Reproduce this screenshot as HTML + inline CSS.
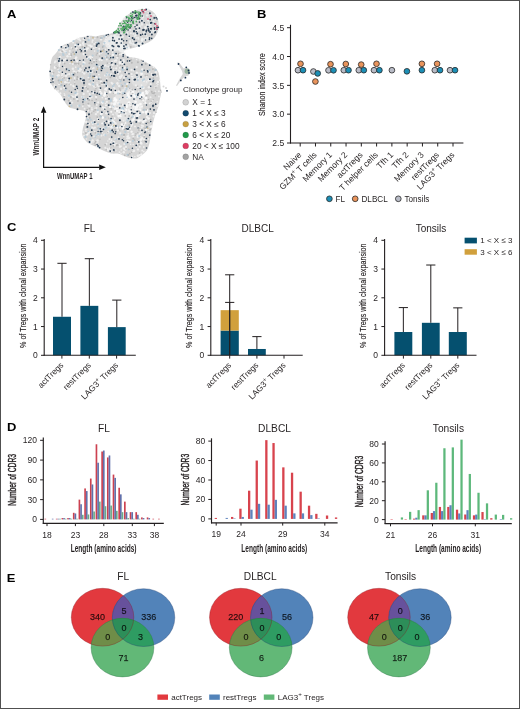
<!DOCTYPE html>
<html><head><meta charset="utf-8"><style>
html,body{margin:0;padding:0;background:#fff;}
svg{display:block;font-family:"Liberation Sans", sans-serif;will-change:transform;}
</style></head><body>
<svg width="520" height="709" viewBox="0 0 520 709">
<rect x="0" y="0" width="520" height="709" fill="#fff"/>
<path d="M49.6,73.0 C49.6,70.8 49.8,68.5 50.2,66.0 C50.6,63.5 51.1,60.1 52.0,58.0 C52.9,55.9 54.3,55.2 55.8,53.3 C57.3,51.4 59.4,48.1 61.2,46.5 C63.0,44.9 64.7,44.6 66.5,43.8 C68.3,43.0 70.1,42.7 71.9,41.8 C73.7,40.9 75.5,39.3 77.3,38.5 C79.1,37.7 80.7,37.6 82.7,37.1 C84.7,36.6 87.2,35.9 89.4,35.8 C91.6,35.7 94.1,36.5 96.1,36.4 C98.1,36.3 99.7,35.4 101.5,35.1 C103.3,34.8 105.4,34.8 107.0,34.5 C108.6,34.2 109.6,34.1 111.0,33.5 C112.4,32.9 114.2,32.3 115.5,31.0 C116.8,29.7 117.3,27.3 118.5,25.5 C119.7,23.7 121.0,21.8 122.5,20.0 C124.0,18.2 125.8,16.4 127.5,15.0 C129.2,13.6 131.4,12.2 133.0,11.4 C134.6,10.6 135.7,10.4 137.0,10.0 C138.3,9.6 139.6,9.4 141.0,9.2 C142.4,9.0 144.0,8.9 145.5,9.0 C147.0,9.1 148.5,9.3 150.0,10.0 C151.5,10.7 153.2,11.8 154.5,13.2 C155.8,14.6 156.9,16.6 157.6,18.5 C158.3,20.4 158.7,22.4 158.8,24.5 C158.9,26.6 158.6,28.9 158.0,31.0 C157.4,33.1 156.3,35.2 155.0,37.0 C153.7,38.8 152.1,40.2 150.0,41.5 C147.9,42.8 145.0,44.0 142.5,45.0 C140.0,46.0 137.4,46.8 135.0,47.5 C132.6,48.2 129.8,48.8 128.0,49.5 C126.2,50.2 124.1,50.3 124.0,51.5 C123.9,52.7 125.8,55.5 127.5,56.5 C129.2,57.5 131.9,57.1 134.0,57.5 C136.1,57.9 138.2,58.3 140.0,59.0 C141.8,59.7 143.3,60.6 145.0,61.5 C146.7,62.4 148.3,63.5 150.0,64.5 C151.7,65.5 153.6,66.2 155.0,67.5 C156.4,68.8 157.5,70.2 158.3,72.0 C159.1,73.8 159.2,75.7 159.6,78.0 C160.0,80.3 160.3,83.4 160.5,86.0 C160.7,88.6 161.2,91.2 161.0,93.6 C160.8,96.0 160.0,98.2 159.6,100.4 C159.2,102.6 159.0,104.8 158.3,107.0 C157.6,109.2 156.5,111.1 155.6,113.8 C154.7,116.5 153.6,120.6 152.9,123.3 C152.2,126.0 151.9,127.8 151.5,130.0 C151.1,132.2 150.8,134.3 150.5,136.5 C150.2,138.7 150.0,140.8 149.5,143.0 C149.0,145.2 148.1,148.1 147.3,149.8 C146.5,151.5 145.5,152.0 144.5,153.0 C143.5,154.0 142.5,154.8 141.5,155.6 C140.5,156.3 139.4,157.0 138.5,157.5 C137.6,158.0 136.9,158.4 135.8,158.5 C134.7,158.6 133.3,158.5 132.0,158.3 C130.7,158.1 129.5,158.0 128.0,157.5 C126.5,157.0 124.6,156.1 123.0,155.5 C121.4,154.9 120.3,154.0 118.5,153.7 C116.7,153.4 114.0,153.8 112.3,153.6 C110.5,153.4 109.3,152.9 108.0,152.5 C106.7,152.1 105.5,151.6 104.2,151.0 C102.9,150.4 101.3,149.7 100.0,149.0 C98.7,148.3 97.4,147.6 96.1,146.9 C94.8,146.2 93.3,145.7 92.0,145.0 C90.7,144.3 89.1,143.7 88.0,142.9 C86.9,142.2 86.2,141.3 85.5,140.5 C84.8,139.7 84.0,139.0 83.5,138.0 C83.0,137.0 82.4,135.7 82.2,134.5 C82.0,133.3 82.2,132.2 82.4,131.0 C82.6,129.8 82.9,128.3 83.2,127.0 C83.5,125.7 84.1,124.3 84.5,123.0 C84.9,121.7 85.3,120.4 85.6,119.0 C85.9,117.6 86.3,115.8 86.1,114.5 C85.9,113.2 85.5,112.0 84.5,111.2 C83.5,110.5 81.4,110.3 80.0,110.0 C78.6,109.7 77.3,109.5 76.0,109.2 C74.7,108.9 73.1,108.6 72.0,108.3 C70.9,108.0 70.1,107.8 69.2,107.2 C68.3,106.6 67.3,105.4 66.6,104.6 C65.9,103.8 65.6,103.1 65.0,102.2 C64.4,101.3 63.6,100.1 63.0,99.0 C62.4,97.9 61.9,96.8 61.2,95.8 C60.5,94.8 59.8,93.9 59.0,93.0 C58.2,92.1 57.4,91.4 56.5,90.5 C55.6,89.6 54.4,88.6 53.5,87.5 C52.6,86.4 51.8,85.4 51.2,84.0 C50.6,82.6 50.3,80.8 50.0,79.0 C49.7,77.2 49.6,75.2 49.6,73.0Z" fill="#D5D5D5"/>
<path d="M177.2,62.3 L179.5,63 L183.5,68.5 L186,67.5 L189.5,69 L190.3,72.5 L188.5,75.5 L184.5,76.8 L181,80.5 L177,86 L176,85.5 L179.8,78.5 L182.8,74 L182,71 Z" fill="#D6D6D6"/>
<circle cx="187.2" cy="71.2" r="2.6" fill="#9DB5A2"/>
<ellipse cx="114" cy="43" rx="9" ry="8" fill="#FFFFFF" fill-opacity="0.5"/>
<ellipse cx="124" cy="49" rx="6" ry="4" fill="#FFFFFF" fill-opacity="0.5"/>
<ellipse cx="128" cy="105" rx="15" ry="17" fill="#FFFFFF" fill-opacity="0.35"/>
<ellipse cx="140" cy="80" rx="9" ry="8" fill="#FFFFFF" fill-opacity="0.25"/>
<circle cx="109.1" cy="63.6" r="0.74" fill="#F6F6F6" fill-opacity="0.75"/>
<circle cx="54.6" cy="85.1" r="0.87" fill="#F6F6F6" fill-opacity="0.75"/>
<circle cx="52.3" cy="73.9" r="0.82" fill="#F6F6F6" fill-opacity="0.75"/>
<circle cx="96.4" cy="133.7" r="1.12" fill="#F6F6F6" fill-opacity="0.75"/>
<circle cx="119.5" cy="152.1" r="0.97" fill="#F6F6F6" fill-opacity="0.75"/>
<circle cx="113.8" cy="68.3" r="0.77" fill="#F6F6F6" fill-opacity="0.75"/>
<circle cx="83.2" cy="132.1" r="0.89" fill="#F6F6F6" fill-opacity="0.75"/>
<circle cx="68.6" cy="96.4" r="0.98" fill="#F6F6F6" fill-opacity="0.75"/>
<circle cx="120.8" cy="64.6" r="0.92" fill="#F6F6F6" fill-opacity="0.75"/>
<circle cx="125.6" cy="73.0" r="0.80" fill="#F6F6F6" fill-opacity="0.75"/>
<circle cx="83.8" cy="97.0" r="0.74" fill="#F6F6F6" fill-opacity="0.75"/>
<circle cx="99.7" cy="53.6" r="0.71" fill="#F6F6F6" fill-opacity="0.75"/>
<circle cx="138.6" cy="114.2" r="1.30" fill="#F6F6F6" fill-opacity="0.75"/>
<circle cx="75.8" cy="95.3" r="1.15" fill="#F6F6F6" fill-opacity="0.75"/>
<circle cx="107.9" cy="141.0" r="0.75" fill="#F6F6F6" fill-opacity="0.75"/>
<circle cx="95.7" cy="123.1" r="1.13" fill="#F6F6F6" fill-opacity="0.75"/>
<circle cx="65.3" cy="82.3" r="1.29" fill="#F6F6F6" fill-opacity="0.75"/>
<circle cx="135.2" cy="95.1" r="1.04" fill="#F6F6F6" fill-opacity="0.75"/>
<circle cx="127.3" cy="98.3" r="0.77" fill="#F6F6F6" fill-opacity="0.75"/>
<circle cx="114.1" cy="77.3" r="0.99" fill="#F6F6F6" fill-opacity="0.75"/>
<circle cx="143.8" cy="151.6" r="0.96" fill="#F6F6F6" fill-opacity="0.75"/>
<circle cx="102.0" cy="109.0" r="0.81" fill="#F6F6F6" fill-opacity="0.75"/>
<circle cx="92.0" cy="109.6" r="1.03" fill="#F6F6F6" fill-opacity="0.75"/>
<circle cx="50.6" cy="78.2" r="0.70" fill="#F6F6F6" fill-opacity="0.75"/>
<circle cx="92.6" cy="140.5" r="1.25" fill="#F6F6F6" fill-opacity="0.75"/>
<circle cx="57.2" cy="76.3" r="1.09" fill="#F6F6F6" fill-opacity="0.75"/>
<circle cx="110.6" cy="142.3" r="1.08" fill="#F6F6F6" fill-opacity="0.75"/>
<circle cx="141.4" cy="139.3" r="1.26" fill="#F6F6F6" fill-opacity="0.75"/>
<circle cx="79.7" cy="71.1" r="1.09" fill="#F6F6F6" fill-opacity="0.75"/>
<circle cx="88.9" cy="142.4" r="0.85" fill="#F6F6F6" fill-opacity="0.75"/>
<circle cx="68.1" cy="43.3" r="0.85" fill="#F6F6F6" fill-opacity="0.75"/>
<circle cx="74.6" cy="81.7" r="0.78" fill="#F6F6F6" fill-opacity="0.75"/>
<circle cx="90.1" cy="94.1" r="0.72" fill="#F6F6F6" fill-opacity="0.75"/>
<circle cx="106.8" cy="101.9" r="1.16" fill="#F6F6F6" fill-opacity="0.75"/>
<circle cx="150.5" cy="126.6" r="1.20" fill="#F6F6F6" fill-opacity="0.75"/>
<circle cx="147.7" cy="129.3" r="0.88" fill="#F6F6F6" fill-opacity="0.75"/>
<circle cx="92.7" cy="68.6" r="0.81" fill="#F6F6F6" fill-opacity="0.75"/>
<circle cx="59.6" cy="63.3" r="1.08" fill="#F6F6F6" fill-opacity="0.75"/>
<circle cx="76.8" cy="60.8" r="1.21" fill="#F6F6F6" fill-opacity="0.75"/>
<circle cx="101.1" cy="81.5" r="1.26" fill="#F6F6F6" fill-opacity="0.75"/>
<circle cx="87.1" cy="48.2" r="0.80" fill="#F6F6F6" fill-opacity="0.75"/>
<circle cx="146.4" cy="113.8" r="1.17" fill="#F6F6F6" fill-opacity="0.75"/>
<circle cx="77.8" cy="63.7" r="1.20" fill="#F6F6F6" fill-opacity="0.75"/>
<circle cx="108.7" cy="126.4" r="1.15" fill="#F6F6F6" fill-opacity="0.75"/>
<circle cx="85.6" cy="41.9" r="0.90" fill="#F6F6F6" fill-opacity="0.75"/>
<circle cx="145.2" cy="130.5" r="0.81" fill="#F6F6F6" fill-opacity="0.75"/>
<circle cx="141.3" cy="120.5" r="1.20" fill="#F6F6F6" fill-opacity="0.75"/>
<circle cx="73.8" cy="86.7" r="0.89" fill="#F6F6F6" fill-opacity="0.75"/>
<circle cx="157.0" cy="76.0" r="0.92" fill="#F6F6F6" fill-opacity="0.75"/>
<circle cx="73.1" cy="42.5" r="1.03" fill="#F6F6F6" fill-opacity="0.75"/>
<circle cx="119.1" cy="144.8" r="0.92" fill="#F6F6F6" fill-opacity="0.75"/>
<circle cx="143.8" cy="80.9" r="1.20" fill="#F6F6F6" fill-opacity="0.75"/>
<circle cx="122.4" cy="129.5" r="0.84" fill="#F6F6F6" fill-opacity="0.75"/>
<circle cx="151.7" cy="126.9" r="0.72" fill="#F6F6F6" fill-opacity="0.75"/>
<circle cx="133.5" cy="80.7" r="1.04" fill="#F6F6F6" fill-opacity="0.75"/>
<circle cx="85.9" cy="129.7" r="1.08" fill="#F6F6F6" fill-opacity="0.75"/>
<circle cx="151.2" cy="130.6" r="1.19" fill="#F6F6F6" fill-opacity="0.75"/>
<circle cx="87.9" cy="91.4" r="1.12" fill="#F6F6F6" fill-opacity="0.75"/>
<circle cx="108.0" cy="149.9" r="1.24" fill="#F6F6F6" fill-opacity="0.75"/>
<circle cx="97.5" cy="140.5" r="1.27" fill="#F6F6F6" fill-opacity="0.75"/>
<circle cx="76.7" cy="52.5" r="1.00" fill="#F6F6F6" fill-opacity="0.75"/>
<circle cx="75.4" cy="97.1" r="1.00" fill="#F6F6F6" fill-opacity="0.75"/>
<circle cx="77.6" cy="71.7" r="0.79" fill="#F6F6F6" fill-opacity="0.75"/>
<circle cx="88.3" cy="77.6" r="0.88" fill="#F6F6F6" fill-opacity="0.75"/>
<circle cx="114.5" cy="145.5" r="1.05" fill="#F6F6F6" fill-opacity="0.75"/>
<circle cx="105.2" cy="88.8" r="0.75" fill="#F6F6F6" fill-opacity="0.75"/>
<circle cx="67.6" cy="80.0" r="1.11" fill="#F6F6F6" fill-opacity="0.75"/>
<circle cx="130.7" cy="92.6" r="0.80" fill="#F6F6F6" fill-opacity="0.75"/>
<circle cx="85.2" cy="86.8" r="0.97" fill="#F6F6F6" fill-opacity="0.75"/>
<circle cx="111.3" cy="127.2" r="1.28" fill="#F6F6F6" fill-opacity="0.75"/>
<circle cx="60.1" cy="93.2" r="0.75" fill="#F6F6F6" fill-opacity="0.75"/>
<circle cx="76.3" cy="50.1" r="0.72" fill="#F6F6F6" fill-opacity="0.75"/>
<circle cx="136.0" cy="85.2" r="0.96" fill="#F6F6F6" fill-opacity="0.75"/>
<circle cx="112.0" cy="123.5" r="0.81" fill="#F6F6F6" fill-opacity="0.75"/>
<circle cx="152.0" cy="75.4" r="1.13" fill="#F6F6F6" fill-opacity="0.75"/>
<circle cx="117.8" cy="84.8" r="0.70" fill="#F6F6F6" fill-opacity="0.75"/>
<circle cx="106.4" cy="113.3" r="1.20" fill="#F6F6F6" fill-opacity="0.75"/>
<circle cx="99.6" cy="89.1" r="1.21" fill="#F6F6F6" fill-opacity="0.75"/>
<circle cx="127.7" cy="141.2" r="1.17" fill="#F6F6F6" fill-opacity="0.75"/>
<circle cx="111.8" cy="151.4" r="0.96" fill="#F6F6F6" fill-opacity="0.75"/>
<circle cx="61.9" cy="75.2" r="0.87" fill="#F6F6F6" fill-opacity="0.75"/>
<circle cx="137.4" cy="144.3" r="1.10" fill="#F6F6F6" fill-opacity="0.75"/>
<circle cx="93.4" cy="82.1" r="1.01" fill="#F6F6F6" fill-opacity="0.75"/>
<circle cx="66.4" cy="73.6" r="0.95" fill="#F6F6F6" fill-opacity="0.75"/>
<circle cx="106.8" cy="59.5" r="0.90" fill="#F6F6F6" fill-opacity="0.75"/>
<circle cx="70.3" cy="56.4" r="0.96" fill="#F6F6F6" fill-opacity="0.75"/>
<circle cx="111.2" cy="74.9" r="1.10" fill="#F6F6F6" fill-opacity="0.75"/>
<circle cx="119.1" cy="85.9" r="1.20" fill="#F6F6F6" fill-opacity="0.75"/>
<circle cx="137.9" cy="155.7" r="1.24" fill="#F6F6F6" fill-opacity="0.75"/>
<circle cx="59.9" cy="48.4" r="0.80" fill="#F6F6F6" fill-opacity="0.75"/>
<circle cx="96.1" cy="146.5" r="0.88" fill="#F6F6F6" fill-opacity="0.75"/>
<circle cx="113.0" cy="114.5" r="0.97" fill="#F6F6F6" fill-opacity="0.75"/>
<circle cx="126.5" cy="72.6" r="1.04" fill="#F6F6F6" fill-opacity="0.75"/>
<circle cx="120.3" cy="129.8" r="0.91" fill="#F6F6F6" fill-opacity="0.75"/>
<circle cx="99.7" cy="59.6" r="0.82" fill="#F6F6F6" fill-opacity="0.75"/>
<circle cx="111.0" cy="148.9" r="0.75" fill="#F6F6F6" fill-opacity="0.75"/>
<circle cx="108.1" cy="44.2" r="0.89" fill="#F6F6F6" fill-opacity="0.75"/>
<circle cx="83.6" cy="54.4" r="0.98" fill="#F6F6F6" fill-opacity="0.75"/>
<circle cx="105.0" cy="35.0" r="1.28" fill="#F6F6F6" fill-opacity="0.75"/>
<circle cx="131.6" cy="91.8" r="1.25" fill="#F6F6F6" fill-opacity="0.75"/>
<circle cx="69.6" cy="80.2" r="1.22" fill="#F6F6F6" fill-opacity="0.75"/>
<circle cx="141.4" cy="73.7" r="1.28" fill="#F6F6F6" fill-opacity="0.75"/>
<circle cx="104.4" cy="134.9" r="1.28" fill="#F6F6F6" fill-opacity="0.75"/>
<circle cx="92.8" cy="85.0" r="1.07" fill="#F6F6F6" fill-opacity="0.75"/>
<circle cx="87.1" cy="134.5" r="1.19" fill="#F6F6F6" fill-opacity="0.75"/>
<circle cx="128.6" cy="104.7" r="0.74" fill="#F6F6F6" fill-opacity="0.75"/>
<circle cx="94.1" cy="60.8" r="1.11" fill="#F6F6F6" fill-opacity="0.75"/>
<circle cx="147.2" cy="109.9" r="1.07" fill="#F6F6F6" fill-opacity="0.75"/>
<circle cx="80.1" cy="44.8" r="0.88" fill="#F6F6F6" fill-opacity="0.75"/>
<circle cx="81.4" cy="77.8" r="1.04" fill="#F6F6F6" fill-opacity="0.75"/>
<circle cx="66.0" cy="75.8" r="1.27" fill="#F6F6F6" fill-opacity="0.75"/>
<circle cx="158.9" cy="91.2" r="0.99" fill="#F6F6F6" fill-opacity="0.75"/>
<circle cx="83.3" cy="62.2" r="1.09" fill="#F6F6F6" fill-opacity="0.75"/>
<circle cx="102.1" cy="84.4" r="0.88" fill="#F6F6F6" fill-opacity="0.75"/>
<circle cx="70.9" cy="84.7" r="0.91" fill="#F6F6F6" fill-opacity="0.75"/>
<circle cx="58.2" cy="68.7" r="1.23" fill="#F6F6F6" fill-opacity="0.75"/>
<circle cx="82.7" cy="43.4" r="0.72" fill="#F6F6F6" fill-opacity="0.75"/>
<circle cx="114.8" cy="88.4" r="0.81" fill="#F6F6F6" fill-opacity="0.75"/>
<circle cx="133.6" cy="107.9" r="1.11" fill="#F6F6F6" fill-opacity="0.75"/>
<circle cx="129.6" cy="141.6" r="0.97" fill="#F6F6F6" fill-opacity="0.75"/>
<circle cx="92.4" cy="57.6" r="0.75" fill="#F6F6F6" fill-opacity="0.75"/>
<circle cx="130.6" cy="105.8" r="1.10" fill="#F6F6F6" fill-opacity="0.75"/>
<circle cx="149.7" cy="103.4" r="0.92" fill="#F6F6F6" fill-opacity="0.75"/>
<circle cx="131.7" cy="131.5" r="1.05" fill="#F6F6F6" fill-opacity="0.75"/>
<circle cx="63.9" cy="87.6" r="0.95" fill="#F6F6F6" fill-opacity="0.75"/>
<circle cx="105.5" cy="134.9" r="1.02" fill="#F6F6F6" fill-opacity="0.75"/>
<circle cx="139.7" cy="133.6" r="1.04" fill="#F6F6F6" fill-opacity="0.75"/>
<circle cx="114.6" cy="143.7" r="0.94" fill="#F6F6F6" fill-opacity="0.75"/>
<circle cx="125.9" cy="113.4" r="0.77" fill="#F6F6F6" fill-opacity="0.75"/>
<circle cx="63.2" cy="62.8" r="0.81" fill="#F6F6F6" fill-opacity="0.75"/>
<circle cx="111.7" cy="103.4" r="1.23" fill="#F6F6F6" fill-opacity="0.75"/>
<circle cx="119.4" cy="111.5" r="1.03" fill="#F6F6F6" fill-opacity="0.75"/>
<circle cx="138.9" cy="121.7" r="0.77" fill="#F6F6F6" fill-opacity="0.75"/>
<circle cx="105.3" cy="89.4" r="1.22" fill="#F6F6F6" fill-opacity="0.75"/>
<circle cx="132.3" cy="156.3" r="0.85" fill="#F6F6F6" fill-opacity="0.75"/>
<circle cx="104.3" cy="66.1" r="0.76" fill="#F6F6F6" fill-opacity="0.75"/>
<circle cx="102.6" cy="111.9" r="1.02" fill="#F6F6F6" fill-opacity="0.75"/>
<circle cx="135.4" cy="101.8" r="0.85" fill="#F6F6F6" fill-opacity="0.75"/>
<circle cx="64.8" cy="46.6" r="0.99" fill="#F6F6F6" fill-opacity="0.75"/>
<circle cx="124.6" cy="113.2" r="1.03" fill="#F6F6F6" fill-opacity="0.75"/>
<circle cx="106.9" cy="78.6" r="0.84" fill="#F6F6F6" fill-opacity="0.75"/>
<circle cx="50.0" cy="77.8" r="1.04" fill="#F6F6F6" fill-opacity="0.75"/>
<circle cx="141.5" cy="155.2" r="0.77" fill="#F6F6F6" fill-opacity="0.75"/>
<circle cx="99.2" cy="48.8" r="1.01" fill="#F6F6F6" fill-opacity="0.75"/>
<circle cx="72.0" cy="96.4" r="1.05" fill="#F6F6F6" fill-opacity="0.75"/>
<circle cx="64.2" cy="87.7" r="0.75" fill="#F6F6F6" fill-opacity="0.75"/>
<circle cx="141.5" cy="85.3" r="0.94" fill="#F6F6F6" fill-opacity="0.75"/>
<circle cx="149.1" cy="114.9" r="0.74" fill="#F6F6F6" fill-opacity="0.75"/>
<circle cx="99.4" cy="53.9" r="0.96" fill="#F6F6F6" fill-opacity="0.75"/>
<circle cx="64.0" cy="60.3" r="1.22" fill="#F6F6F6" fill-opacity="0.75"/>
<circle cx="84.0" cy="135.7" r="1.03" fill="#F6F6F6" fill-opacity="0.75"/>
<circle cx="153.6" cy="116.4" r="1.13" fill="#F6F6F6" fill-opacity="0.75"/>
<circle cx="90.4" cy="67.7" r="1.15" fill="#F6F6F6" fill-opacity="0.75"/>
<circle cx="89.1" cy="73.1" r="0.77" fill="#F6F6F6" fill-opacity="0.75"/>
<circle cx="76.4" cy="48.4" r="1.29" fill="#F6F6F6" fill-opacity="0.75"/>
<circle cx="106.2" cy="36.9" r="1.13" fill="#F6F6F6" fill-opacity="0.75"/>
<circle cx="148.8" cy="131.4" r="0.76" fill="#F6F6F6" fill-opacity="0.75"/>
<circle cx="119.9" cy="146.8" r="1.20" fill="#F6F6F6" fill-opacity="0.75"/>
<circle cx="155.2" cy="91.5" r="0.94" fill="#F6F6F6" fill-opacity="0.75"/>
<circle cx="131.5" cy="76.5" r="0.80" fill="#F6F6F6" fill-opacity="0.75"/>
<circle cx="133.8" cy="106.0" r="1.28" fill="#F6F6F6" fill-opacity="0.75"/>
<circle cx="101.8" cy="60.2" r="1.04" fill="#F6F6F6" fill-opacity="0.75"/>
<circle cx="122.8" cy="53.7" r="1.16" fill="#F6F6F6" fill-opacity="0.75"/>
<circle cx="111.5" cy="67.9" r="0.78" fill="#F6F6F6" fill-opacity="0.75"/>
<circle cx="104.7" cy="41.4" r="1.17" fill="#F6F6F6" fill-opacity="0.75"/>
<circle cx="75.3" cy="47.3" r="0.73" fill="#F6F6F6" fill-opacity="0.75"/>
<circle cx="112.9" cy="142.9" r="0.84" fill="#F6F6F6" fill-opacity="0.75"/>
<circle cx="133.5" cy="70.7" r="0.92" fill="#F6F6F6" fill-opacity="0.75"/>
<circle cx="95.2" cy="87.7" r="0.71" fill="#F6F6F6" fill-opacity="0.75"/>
<circle cx="91.0" cy="59.4" r="1.06" fill="#F6F6F6" fill-opacity="0.75"/>
<circle cx="105.4" cy="103.7" r="0.83" fill="#F6F6F6" fill-opacity="0.75"/>
<circle cx="78.9" cy="45.8" r="0.88" fill="#F6F6F6" fill-opacity="0.75"/>
<circle cx="93.6" cy="75.8" r="1.12" fill="#F6F6F6" fill-opacity="0.75"/>
<circle cx="150.1" cy="79.9" r="0.96" fill="#F6F6F6" fill-opacity="0.75"/>
<circle cx="142.1" cy="138.0" r="1.23" fill="#F6F6F6" fill-opacity="0.75"/>
<circle cx="107.5" cy="111.7" r="1.07" fill="#F6F6F6" fill-opacity="0.75"/>
<circle cx="121.8" cy="124.2" r="1.22" fill="#F6F6F6" fill-opacity="0.75"/>
<circle cx="100.1" cy="91.8" r="1.04" fill="#F6F6F6" fill-opacity="0.75"/>
<circle cx="121.6" cy="54.2" r="1.25" fill="#F6F6F6" fill-opacity="0.75"/>
<circle cx="62.6" cy="46.3" r="1.22" fill="#F6F6F6" fill-opacity="0.75"/>
<circle cx="120.5" cy="114.2" r="0.80" fill="#F6F6F6" fill-opacity="0.75"/>
<circle cx="107.8" cy="96.6" r="1.15" fill="#F6F6F6" fill-opacity="0.75"/>
<circle cx="92.2" cy="42.0" r="0.90" fill="#F6F6F6" fill-opacity="0.75"/>
<circle cx="82.4" cy="78.0" r="1.16" fill="#F6F6F6" fill-opacity="0.75"/>
<circle cx="157.3" cy="106.0" r="1.11" fill="#F6F6F6" fill-opacity="0.75"/>
<circle cx="148.8" cy="80.2" r="1.20" fill="#F6F6F6" fill-opacity="0.75"/>
<circle cx="74.8" cy="45.6" r="0.77" fill="#F6F6F6" fill-opacity="0.75"/>
<circle cx="104.8" cy="110.5" r="0.92" fill="#F6F6F6" fill-opacity="0.75"/>
<circle cx="95.9" cy="47.1" r="1.14" fill="#F6F6F6" fill-opacity="0.75"/>
<circle cx="124.1" cy="148.6" r="1.27" fill="#F6F6F6" fill-opacity="0.75"/>
<circle cx="86.5" cy="71.9" r="1.13" fill="#F6F6F6" fill-opacity="0.75"/>
<circle cx="138.9" cy="120.3" r="0.73" fill="#F6F6F6" fill-opacity="0.75"/>
<circle cx="105.6" cy="39.2" r="1.06" fill="#F6F6F6" fill-opacity="0.75"/>
<circle cx="104.5" cy="36.5" r="0.76" fill="#F6F6F6" fill-opacity="0.75"/>
<circle cx="73.5" cy="71.4" r="1.03" fill="#F6F6F6" fill-opacity="0.75"/>
<circle cx="123.8" cy="152.2" r="1.18" fill="#F6F6F6" fill-opacity="0.75"/>
<circle cx="64.7" cy="67.8" r="0.77" fill="#F6F6F6" fill-opacity="0.75"/>
<circle cx="54.9" cy="67.8" r="1.26" fill="#F6F6F6" fill-opacity="0.75"/>
<circle cx="123.7" cy="65.6" r="1.11" fill="#F6F6F6" fill-opacity="0.75"/>
<circle cx="90.6" cy="58.4" r="0.85" fill="#F6F6F6" fill-opacity="0.75"/>
<circle cx="79.9" cy="61.4" r="0.82" fill="#F6F6F6" fill-opacity="0.75"/>
<circle cx="88.7" cy="132.9" r="0.97" fill="#F6F6F6" fill-opacity="0.75"/>
<circle cx="141.7" cy="73.7" r="1.20" fill="#F6F6F6" fill-opacity="0.75"/>
<circle cx="53.6" cy="80.0" r="1.05" fill="#F6F6F6" fill-opacity="0.75"/>
<circle cx="70.0" cy="63.4" r="0.77" fill="#F6F6F6" fill-opacity="0.75"/>
<circle cx="94.8" cy="131.4" r="0.71" fill="#F6F6F6" fill-opacity="0.75"/>
<circle cx="133.2" cy="144.6" r="0.77" fill="#F6F6F6" fill-opacity="0.75"/>
<circle cx="86.7" cy="49.4" r="1.18" fill="#F6F6F6" fill-opacity="0.75"/>
<circle cx="157.2" cy="101.8" r="0.81" fill="#F6F6F6" fill-opacity="0.75"/>
<circle cx="84.1" cy="49.9" r="1.03" fill="#F6F6F6" fill-opacity="0.75"/>
<circle cx="152.5" cy="104.4" r="0.87" fill="#F6F6F6" fill-opacity="0.75"/>
<circle cx="74.7" cy="80.2" r="1.11" fill="#F6F6F6" fill-opacity="0.75"/>
<circle cx="92.1" cy="46.2" r="0.93" fill="#F6F6F6" fill-opacity="0.75"/>
<circle cx="97.0" cy="83.0" r="0.79" fill="#F6F6F6" fill-opacity="0.75"/>
<circle cx="139.5" cy="120.3" r="1.23" fill="#F6F6F6" fill-opacity="0.75"/>
<circle cx="141.8" cy="125.5" r="1.02" fill="#F6F6F6" fill-opacity="0.75"/>
<circle cx="117.2" cy="57.8" r="1.11" fill="#F6F6F6" fill-opacity="0.75"/>
<circle cx="84.4" cy="63.0" r="1.18" fill="#F6F6F6" fill-opacity="0.75"/>
<circle cx="59.0" cy="83.8" r="1.27" fill="#F6F6F6" fill-opacity="0.75"/>
<circle cx="128.9" cy="75.9" r="0.71" fill="#F6F6F6" fill-opacity="0.75"/>
<circle cx="74.7" cy="71.4" r="0.91" fill="#F6F6F6" fill-opacity="0.75"/>
<circle cx="118.7" cy="110.5" r="0.79" fill="#F6F6F6" fill-opacity="0.75"/>
<circle cx="133.3" cy="136.7" r="1.00" fill="#F6F6F6" fill-opacity="0.75"/>
<circle cx="112.6" cy="64.7" r="1.22" fill="#F6F6F6" fill-opacity="0.75"/>
<circle cx="76.2" cy="45.3" r="1.18" fill="#F6F6F6" fill-opacity="0.75"/>
<circle cx="113.9" cy="57.6" r="0.72" fill="#F6F6F6" fill-opacity="0.75"/>
<circle cx="105.8" cy="43.2" r="0.81" fill="#F6F6F6" fill-opacity="0.75"/>
<circle cx="140.2" cy="107.3" r="1.19" fill="#F6F6F6" fill-opacity="0.75"/>
<circle cx="102.1" cy="132.5" r="1.11" fill="#F6F6F6" fill-opacity="0.75"/>
<circle cx="143.8" cy="147.0" r="0.94" fill="#F6F6F6" fill-opacity="0.75"/>
<circle cx="158.9" cy="96.6" r="0.99" fill="#F6F6F6" fill-opacity="0.75"/>
<circle cx="146.7" cy="76.3" r="0.79" fill="#F6F6F6" fill-opacity="0.75"/>
<circle cx="116.0" cy="102.2" r="1.21" fill="#F6F6F6" fill-opacity="0.75"/>
<circle cx="72.8" cy="64.0" r="0.94" fill="#F6F6F6" fill-opacity="0.75"/>
<circle cx="77.1" cy="99.1" r="1.22" fill="#F6F6F6" fill-opacity="0.75"/>
<circle cx="83.6" cy="38.9" r="1.07" fill="#F6F6F6" fill-opacity="0.75"/>
<circle cx="138.7" cy="91.3" r="0.75" fill="#F6F6F6" fill-opacity="0.75"/>
<circle cx="93.1" cy="91.6" r="0.90" fill="#F6F6F6" fill-opacity="0.75"/>
<circle cx="94.7" cy="51.1" r="0.83" fill="#F6F6F6" fill-opacity="0.75"/>
<circle cx="83.6" cy="94.1" r="1.24" fill="#F6F6F6" fill-opacity="0.75"/>
<circle cx="88.7" cy="71.3" r="1.05" fill="#F6F6F6" fill-opacity="0.75"/>
<circle cx="89.5" cy="38.0" r="0.73" fill="#F6F6F6" fill-opacity="0.75"/>
<circle cx="96.3" cy="132.7" r="0.80" fill="#F6F6F6" fill-opacity="0.75"/>
<circle cx="94.3" cy="142.2" r="0.92" fill="#F6F6F6" fill-opacity="0.75"/>
<circle cx="121.0" cy="146.3" r="0.98" fill="#F6F6F6" fill-opacity="0.75"/>
<circle cx="90.3" cy="84.7" r="1.05" fill="#F6F6F6" fill-opacity="0.75"/>
<circle cx="64.6" cy="51.1" r="0.93" fill="#F6F6F6" fill-opacity="0.75"/>
<circle cx="107.4" cy="148.7" r="0.91" fill="#F6F6F6" fill-opacity="0.75"/>
<circle cx="60.4" cy="82.6" r="0.70" fill="#F6F6F6" fill-opacity="0.75"/>
<circle cx="139.7" cy="155.0" r="1.05" fill="#F6F6F6" fill-opacity="0.75"/>
<circle cx="153.6" cy="67.0" r="0.90" fill="#F6F6F6" fill-opacity="0.75"/>
<circle cx="151.1" cy="102.3" r="0.71" fill="#F6F6F6" fill-opacity="0.75"/>
<circle cx="94.1" cy="136.6" r="0.98" fill="#F6F6F6" fill-opacity="0.75"/>
<circle cx="72.9" cy="68.8" r="1.29" fill="#F6F6F6" fill-opacity="0.75"/>
<circle cx="107.0" cy="66.3" r="0.73" fill="#F6F6F6" fill-opacity="0.75"/>
<circle cx="130.6" cy="144.4" r="0.79" fill="#F6F6F6" fill-opacity="0.75"/>
<circle cx="116.3" cy="91.6" r="1.10" fill="#F6F6F6" fill-opacity="0.75"/>
<circle cx="119.5" cy="54.5" r="0.86" fill="#F6F6F6" fill-opacity="0.75"/>
<circle cx="95.9" cy="96.6" r="0.86" fill="#F6F6F6" fill-opacity="0.75"/>
<circle cx="96.5" cy="108.1" r="1.00" fill="#F6F6F6" fill-opacity="0.75"/>
<circle cx="98.9" cy="74.6" r="0.86" fill="#F6F6F6" fill-opacity="0.75"/>
<circle cx="103.8" cy="43.8" r="1.04" fill="#F6F6F6" fill-opacity="0.75"/>
<circle cx="135.0" cy="126.6" r="1.02" fill="#F6F6F6" fill-opacity="0.75"/>
<circle cx="62.6" cy="73.5" r="1.27" fill="#F6F6F6" fill-opacity="0.75"/>
<circle cx="58.5" cy="75.2" r="1.30" fill="#F6F6F6" fill-opacity="0.75"/>
<circle cx="131.6" cy="126.2" r="0.72" fill="#F6F6F6" fill-opacity="0.75"/>
<circle cx="105.4" cy="65.4" r="1.04" fill="#F6F6F6" fill-opacity="0.75"/>
<circle cx="131.5" cy="131.9" r="1.16" fill="#F6F6F6" fill-opacity="0.75"/>
<circle cx="137.9" cy="149.4" r="1.22" fill="#F6F6F6" fill-opacity="0.75"/>
<circle cx="55.5" cy="61.3" r="1.16" fill="#F6F6F6" fill-opacity="0.75"/>
<circle cx="105.3" cy="147.8" r="1.08" fill="#F6F6F6" fill-opacity="0.75"/>
<circle cx="71.7" cy="48.0" r="1.08" fill="#F6F6F6" fill-opacity="0.75"/>
<circle cx="105.7" cy="56.5" r="0.92" fill="#F6F6F6" fill-opacity="0.75"/>
<circle cx="125.5" cy="144.1" r="0.87" fill="#F6F6F6" fill-opacity="0.75"/>
<circle cx="61.1" cy="88.7" r="1.18" fill="#F6F6F6" fill-opacity="0.75"/>
<circle cx="120.5" cy="62.7" r="1.22" fill="#F6F6F6" fill-opacity="0.75"/>
<circle cx="147.5" cy="92.4" r="1.26" fill="#F6F6F6" fill-opacity="0.75"/>
<circle cx="114.1" cy="142.1" r="1.11" fill="#F6F6F6" fill-opacity="0.75"/>
<circle cx="119.8" cy="67.9" r="0.88" fill="#F6F6F6" fill-opacity="0.75"/>
<circle cx="89.1" cy="124.2" r="1.16" fill="#F6F6F6" fill-opacity="0.75"/>
<circle cx="114.8" cy="108.9" r="1.14" fill="#F6F6F6" fill-opacity="0.75"/>
<circle cx="118.2" cy="73.7" r="1.01" fill="#F6F6F6" fill-opacity="0.75"/>
<circle cx="106.4" cy="144.1" r="1.08" fill="#F6F6F6" fill-opacity="0.75"/>
<circle cx="60.1" cy="62.3" r="0.91" fill="#F6F6F6" fill-opacity="0.75"/>
<circle cx="73.6" cy="96.7" r="1.03" fill="#F6F6F6" fill-opacity="0.75"/>
<circle cx="119.1" cy="80.2" r="0.94" fill="#F6F6F6" fill-opacity="0.75"/>
<circle cx="147.3" cy="126.9" r="0.74" fill="#F6F6F6" fill-opacity="0.75"/>
<circle cx="93.8" cy="48.2" r="0.90" fill="#F6F6F6" fill-opacity="0.75"/>
<circle cx="112.1" cy="61.3" r="0.89" fill="#F6F6F6" fill-opacity="0.75"/>
<circle cx="121.6" cy="75.5" r="1.29" fill="#F6F6F6" fill-opacity="0.75"/>
<circle cx="94.3" cy="44.1" r="0.99" fill="#F6F6F6" fill-opacity="0.75"/>
<circle cx="70.7" cy="100.4" r="0.92" fill="#F6F6F6" fill-opacity="0.75"/>
<circle cx="105.8" cy="105.5" r="0.85" fill="#F6F6F6" fill-opacity="0.75"/>
<circle cx="83.3" cy="53.6" r="0.84" fill="#F6F6F6" fill-opacity="0.75"/>
<circle cx="137.3" cy="116.7" r="0.91" fill="#F6F6F6" fill-opacity="0.75"/>
<circle cx="133.0" cy="78.7" r="0.78" fill="#F6F6F6" fill-opacity="0.75"/>
<circle cx="132.6" cy="76.8" r="0.70" fill="#F6F6F6" fill-opacity="0.75"/>
<circle cx="86.2" cy="121.9" r="1.22" fill="#F6F6F6" fill-opacity="0.75"/>
<circle cx="127.2" cy="136.5" r="0.97" fill="#F6F6F6" fill-opacity="0.75"/>
<circle cx="129.1" cy="48.4" r="0.97" fill="#F6F6F6" fill-opacity="0.75"/>
<circle cx="111.1" cy="74.3" r="1.04" fill="#F6F6F6" fill-opacity="0.75"/>
<circle cx="137.9" cy="87.5" r="0.88" fill="#F6F6F6" fill-opacity="0.75"/>
<circle cx="78.2" cy="105.6" r="0.80" fill="#F6F6F6" fill-opacity="0.75"/>
<circle cx="77.7" cy="43.9" r="0.74" fill="#F6F6F6" fill-opacity="0.75"/>
<circle cx="132.8" cy="151.6" r="0.88" fill="#F6F6F6" fill-opacity="0.75"/>
<circle cx="133.1" cy="57.7" r="0.89" fill="#F6F6F6" fill-opacity="0.75"/>
<circle cx="119.9" cy="113.3" r="1.14" fill="#F6F6F6" fill-opacity="0.75"/>
<circle cx="101.5" cy="135.6" r="1.03" fill="#F6F6F6" fill-opacity="0.75"/>
<circle cx="127.5" cy="138.3" r="1.26" fill="#F6F6F6" fill-opacity="0.75"/>
<circle cx="97.8" cy="118.1" r="0.90" fill="#F6F6F6" fill-opacity="0.75"/>
<circle cx="113.0" cy="54.8" r="1.25" fill="#F6F6F6" fill-opacity="0.75"/>
<circle cx="72.2" cy="102.6" r="1.05" fill="#F6F6F6" fill-opacity="0.75"/>
<circle cx="127.0" cy="104.3" r="0.75" fill="#F6F6F6" fill-opacity="0.75"/>
<circle cx="127.5" cy="120.0" r="0.81" fill="#F6F6F6" fill-opacity="0.75"/>
<circle cx="89.4" cy="132.3" r="1.05" fill="#F6F6F6" fill-opacity="0.75"/>
<circle cx="141.4" cy="143.5" r="1.29" fill="#F6F6F6" fill-opacity="0.75"/>
<circle cx="144.6" cy="131.4" r="0.91" fill="#F6F6F6" fill-opacity="0.75"/>
<circle cx="120.3" cy="133.4" r="1.16" fill="#F6F6F6" fill-opacity="0.75"/>
<circle cx="84.4" cy="72.4" r="0.96" fill="#F6F6F6" fill-opacity="0.75"/>
<circle cx="90.0" cy="56.8" r="1.22" fill="#F6F6F6" fill-opacity="0.75"/>
<circle cx="157.9" cy="84.6" r="0.74" fill="#F6F6F6" fill-opacity="0.75"/>
<circle cx="145.1" cy="102.0" r="0.99" fill="#F6F6F6" fill-opacity="0.75"/>
<circle cx="51.5" cy="70.8" r="1.24" fill="#F6F6F6" fill-opacity="0.75"/>
<circle cx="97.8" cy="125.5" r="0.87" fill="#F6F6F6" fill-opacity="0.75"/>
<circle cx="87.5" cy="115.1" r="0.85" fill="#F6F6F6" fill-opacity="0.75"/>
<circle cx="109.3" cy="40.9" r="0.71" fill="#F6F6F6" fill-opacity="0.75"/>
<circle cx="134.9" cy="156.6" r="0.80" fill="#F6F6F6" fill-opacity="0.75"/>
<circle cx="104.0" cy="129.1" r="0.86" fill="#F6F6F6" fill-opacity="0.75"/>
<circle cx="69.0" cy="83.2" r="1.12" fill="#F6F6F6" fill-opacity="0.75"/>
<circle cx="87.6" cy="134.4" r="0.83" fill="#F6F6F6" fill-opacity="0.75"/>
<circle cx="80.3" cy="40.6" r="0.94" fill="#F6F6F6" fill-opacity="0.75"/>
<circle cx="127.7" cy="83.7" r="0.82" fill="#F6F6F6" fill-opacity="0.75"/>
<circle cx="127.5" cy="127.6" r="1.06" fill="#F6F6F6" fill-opacity="0.75"/>
<circle cx="119.6" cy="62.1" r="1.22" fill="#F6F6F6" fill-opacity="0.75"/>
<circle cx="93.7" cy="68.0" r="1.09" fill="#F6F6F6" fill-opacity="0.75"/>
<circle cx="71.5" cy="48.0" r="0.82" fill="#F6F6F6" fill-opacity="0.75"/>
<circle cx="150.7" cy="84.2" r="1.14" fill="#F6F6F6" fill-opacity="0.75"/>
<circle cx="91.2" cy="142.4" r="1.28" fill="#F6F6F6" fill-opacity="0.75"/>
<circle cx="74.6" cy="78.1" r="1.06" fill="#F6F6F6" fill-opacity="0.75"/>
<circle cx="108.6" cy="122.7" r="0.75" fill="#F6F6F6" fill-opacity="0.75"/>
<circle cx="133.8" cy="106.2" r="1.19" fill="#F6F6F6" fill-opacity="0.75"/>
<circle cx="87.7" cy="57.7" r="1.23" fill="#F6F6F6" fill-opacity="0.75"/>
<circle cx="123.5" cy="120.8" r="0.90" fill="#F6F6F6" fill-opacity="0.75"/>
<circle cx="67.3" cy="74.7" r="0.78" fill="#F6F6F6" fill-opacity="0.75"/>
<circle cx="136.2" cy="96.0" r="0.81" fill="#F6F6F6" fill-opacity="0.75"/>
<circle cx="62.4" cy="78.2" r="1.02" fill="#F6F6F6" fill-opacity="0.75"/>
<circle cx="69.8" cy="53.8" r="1.23" fill="#F6F6F6" fill-opacity="0.75"/>
<circle cx="128.2" cy="136.2" r="1.08" fill="#F6F6F6" fill-opacity="0.75"/>
<circle cx="76.2" cy="57.6" r="1.25" fill="#F6F6F6" fill-opacity="0.75"/>
<circle cx="85.4" cy="36.8" r="0.83" fill="#F6F6F6" fill-opacity="0.75"/>
<circle cx="59.6" cy="66.4" r="0.90" fill="#F6F6F6" fill-opacity="0.75"/>
<circle cx="131.6" cy="74.1" r="1.15" fill="#F6F6F6" fill-opacity="0.75"/>
<circle cx="70.4" cy="105.0" r="1.09" fill="#F6F6F6" fill-opacity="0.75"/>
<circle cx="93.5" cy="128.2" r="0.94" fill="#F6F6F6" fill-opacity="0.75"/>
<circle cx="127.1" cy="84.1" r="1.11" fill="#F6F6F6" fill-opacity="0.75"/>
<circle cx="120.1" cy="78.4" r="0.90" fill="#F6F6F6" fill-opacity="0.75"/>
<circle cx="64.2" cy="99.8" r="0.73" fill="#F6F6F6" fill-opacity="0.75"/>
<circle cx="94.1" cy="120.6" r="0.95" fill="#F6F6F6" fill-opacity="0.75"/>
<circle cx="151.5" cy="73.4" r="0.73" fill="#F6F6F6" fill-opacity="0.75"/>
<circle cx="113.4" cy="121.9" r="1.08" fill="#F6F6F6" fill-opacity="0.75"/>
<circle cx="96.0" cy="42.7" r="0.90" fill="#F6F6F6" fill-opacity="0.75"/>
<circle cx="130.3" cy="141.8" r="1.00" fill="#F6F6F6" fill-opacity="0.75"/>
<circle cx="136.2" cy="114.4" r="1.06" fill="#F6F6F6" fill-opacity="0.75"/>
<circle cx="145.2" cy="111.3" r="0.85" fill="#F6F6F6" fill-opacity="0.75"/>
<circle cx="121.1" cy="77.0" r="0.98" fill="#F6F6F6" fill-opacity="0.75"/>
<circle cx="83.7" cy="103.5" r="0.71" fill="#F6F6F6" fill-opacity="0.75"/>
<circle cx="59.2" cy="71.8" r="1.26" fill="#F6F6F6" fill-opacity="0.75"/>
<circle cx="137.2" cy="116.4" r="1.04" fill="#F6F6F6" fill-opacity="0.75"/>
<circle cx="96.3" cy="77.2" r="1.29" fill="#F6F6F6" fill-opacity="0.75"/>
<circle cx="118.9" cy="70.2" r="0.73" fill="#F6F6F6" fill-opacity="0.75"/>
<circle cx="125.0" cy="149.4" r="1.07" fill="#F6F6F6" fill-opacity="0.75"/>
<circle cx="136.7" cy="67.1" r="1.13" fill="#F6F6F6" fill-opacity="0.75"/>
<circle cx="155.2" cy="86.9" r="0.90" fill="#F6F6F6" fill-opacity="0.75"/>
<circle cx="109.7" cy="117.0" r="0.76" fill="#F6F6F6" fill-opacity="0.75"/>
<circle cx="106.4" cy="105.2" r="0.79" fill="#F6F6F6" fill-opacity="0.75"/>
<circle cx="142.5" cy="87.3" r="0.79" fill="#F6F6F6" fill-opacity="0.75"/>
<circle cx="92.7" cy="123.9" r="1.16" fill="#F6F6F6" fill-opacity="0.75"/>
<circle cx="79.3" cy="68.8" r="0.75" fill="#F6F6F6" fill-opacity="0.75"/>
<circle cx="95.9" cy="114.1" r="1.19" fill="#F6F6F6" fill-opacity="0.75"/>
<circle cx="88.1" cy="48.3" r="0.95" fill="#F6F6F6" fill-opacity="0.75"/>
<circle cx="155.2" cy="88.1" r="1.02" fill="#F6F6F6" fill-opacity="0.75"/>
<circle cx="92.7" cy="40.2" r="1.05" fill="#F6F6F6" fill-opacity="0.75"/>
<circle cx="140.3" cy="104.4" r="1.03" fill="#F6F6F6" fill-opacity="0.75"/>
<circle cx="101.5" cy="93.4" r="1.09" fill="#F6F6F6" fill-opacity="0.75"/>
<circle cx="88.3" cy="105.1" r="1.06" fill="#F6F6F6" fill-opacity="0.75"/>
<circle cx="141.3" cy="132.1" r="0.90" fill="#F6F6F6" fill-opacity="0.75"/>
<circle cx="101.4" cy="52.7" r="1.14" fill="#F6F6F6" fill-opacity="0.75"/>
<circle cx="143.0" cy="61.9" r="0.85" fill="#F6F6F6" fill-opacity="0.75"/>
<circle cx="90.9" cy="46.5" r="1.13" fill="#F6F6F6" fill-opacity="0.75"/>
<circle cx="80.1" cy="45.2" r="1.16" fill="#F6F6F6" fill-opacity="0.75"/>
<circle cx="82.4" cy="80.9" r="1.17" fill="#F6F6F6" fill-opacity="0.75"/>
<circle cx="96.8" cy="104.9" r="0.89" fill="#F6F6F6" fill-opacity="0.75"/>
<circle cx="123.2" cy="63.1" r="1.16" fill="#F6F6F6" fill-opacity="0.75"/>
<circle cx="151.3" cy="127.2" r="1.29" fill="#F6F6F6" fill-opacity="0.75"/>
<circle cx="151.1" cy="128.3" r="0.97" fill="#F6F6F6" fill-opacity="0.75"/>
<circle cx="117.4" cy="126.8" r="0.87" fill="#F6F6F6" fill-opacity="0.75"/>
<circle cx="124.2" cy="143.9" r="1.01" fill="#F6F6F6" fill-opacity="0.75"/>
<circle cx="137.8" cy="135.5" r="1.26" fill="#F6F6F6" fill-opacity="0.75"/>
<circle cx="108.5" cy="120.8" r="0.78" fill="#F6F6F6" fill-opacity="0.75"/>
<circle cx="98.0" cy="142.2" r="0.71" fill="#F6F6F6" fill-opacity="0.75"/>
<circle cx="104.0" cy="83.7" r="0.99" fill="#F6F6F6" fill-opacity="0.75"/>
<circle cx="109.5" cy="139.2" r="1.09" fill="#F6F6F6" fill-opacity="0.75"/>
<circle cx="101.3" cy="93.5" r="1.16" fill="#F6F6F6" fill-opacity="0.75"/>
<circle cx="123.8" cy="135.8" r="0.92" fill="#F6F6F6" fill-opacity="0.75"/>
<circle cx="90.7" cy="71.7" r="1.29" fill="#F6F6F6" fill-opacity="0.75"/>
<circle cx="120.6" cy="104.7" r="0.84" fill="#F6F6F6" fill-opacity="0.75"/>
<circle cx="125.8" cy="149.6" r="1.15" fill="#F6F6F6" fill-opacity="0.75"/>
<circle cx="106.2" cy="81.7" r="0.75" fill="#F6F6F6" fill-opacity="0.75"/>
<circle cx="129.9" cy="103.0" r="0.72" fill="#F6F6F6" fill-opacity="0.75"/>
<circle cx="86.6" cy="139.0" r="0.78" fill="#F6F6F6" fill-opacity="0.75"/>
<circle cx="89.7" cy="80.1" r="0.74" fill="#F6F6F6" fill-opacity="0.75"/>
<circle cx="107.9" cy="125.1" r="1.00" fill="#F6F6F6" fill-opacity="0.75"/>
<circle cx="72.0" cy="74.1" r="1.03" fill="#F6F6F6" fill-opacity="0.75"/>
<circle cx="96.2" cy="92.2" r="0.81" fill="#F6F6F6" fill-opacity="0.75"/>
<circle cx="142.4" cy="69.4" r="1.26" fill="#F6F6F6" fill-opacity="0.75"/>
<circle cx="105.4" cy="49.3" r="0.92" fill="#F6F6F6" fill-opacity="0.75"/>
<circle cx="122.6" cy="128.4" r="0.79" fill="#F6F6F6" fill-opacity="0.75"/>
<circle cx="85.7" cy="56.2" r="0.81" fill="#F6F6F6" fill-opacity="0.75"/>
<circle cx="82.1" cy="97.1" r="1.14" fill="#F6F6F6" fill-opacity="0.75"/>
<circle cx="120.4" cy="127.2" r="1.25" fill="#F6F6F6" fill-opacity="0.75"/>
<circle cx="149.0" cy="90.9" r="0.80" fill="#F6F6F6" fill-opacity="0.75"/>
<circle cx="153.0" cy="100.5" r="0.72" fill="#F6F6F6" fill-opacity="0.75"/>
<circle cx="123.0" cy="127.9" r="1.17" fill="#F6F6F6" fill-opacity="0.75"/>
<circle cx="151.7" cy="101.0" r="0.85" fill="#F6F6F6" fill-opacity="0.75"/>
<circle cx="118.3" cy="103.3" r="1.29" fill="#F6F6F6" fill-opacity="0.75"/>
<circle cx="127.4" cy="98.6" r="1.00" fill="#F6F6F6" fill-opacity="0.75"/>
<circle cx="124.0" cy="77.6" r="1.08" fill="#F6F6F6" fill-opacity="0.75"/>
<circle cx="136.3" cy="146.9" r="0.91" fill="#F6F6F6" fill-opacity="0.75"/>
<circle cx="122.8" cy="64.1" r="1.18" fill="#F6F6F6" fill-opacity="0.75"/>
<circle cx="141.8" cy="127.6" r="0.98" fill="#F6F6F6" fill-opacity="0.75"/>
<circle cx="82.4" cy="72.1" r="0.89" fill="#F6F6F6" fill-opacity="0.75"/>
<circle cx="84.3" cy="73.5" r="1.24" fill="#F6F6F6" fill-opacity="0.75"/>
<circle cx="121.2" cy="149.9" r="0.76" fill="#F6F6F6" fill-opacity="0.75"/>
<circle cx="140.4" cy="95.4" r="1.14" fill="#F6F6F6" fill-opacity="0.75"/>
<circle cx="152.7" cy="75.9" r="0.74" fill="#F6F6F6" fill-opacity="0.75"/>
<circle cx="115.5" cy="150.5" r="1.09" fill="#F6F6F6" fill-opacity="0.75"/>
<circle cx="159.8" cy="80.3" r="0.94" fill="#F6F6F6" fill-opacity="0.75"/>
<circle cx="129.3" cy="138.0" r="1.22" fill="#F6F6F6" fill-opacity="0.75"/>
<circle cx="119.7" cy="115.8" r="0.74" fill="#F6F6F6" fill-opacity="0.75"/>
<circle cx="89.9" cy="95.4" r="1.04" fill="#F6F6F6" fill-opacity="0.75"/>
<circle cx="98.0" cy="110.9" r="0.95" fill="#F6F6F6" fill-opacity="0.75"/>
<circle cx="89.4" cy="106.0" r="1.25" fill="#F6F6F6" fill-opacity="0.75"/>
<circle cx="119.8" cy="71.5" r="1.27" fill="#F6F6F6" fill-opacity="0.75"/>
<circle cx="92.0" cy="127.5" r="1.08" fill="#F6F6F6" fill-opacity="0.75"/>
<circle cx="112.6" cy="52.4" r="0.83" fill="#F6F6F6" fill-opacity="0.75"/>
<circle cx="128.2" cy="133.8" r="0.85" fill="#F6F6F6" fill-opacity="0.75"/>
<circle cx="85.9" cy="100.1" r="0.86" fill="#F6F6F6" fill-opacity="0.75"/>
<circle cx="116.5" cy="54.9" r="0.96" fill="#F6F6F6" fill-opacity="0.75"/>
<circle cx="96.9" cy="143.0" r="0.84" fill="#F6F6F6" fill-opacity="0.75"/>
<circle cx="90.9" cy="112.1" r="0.82" fill="#F6F6F6" fill-opacity="0.75"/>
<circle cx="116.6" cy="144.2" r="1.16" fill="#F6F6F6" fill-opacity="0.75"/>
<circle cx="96.2" cy="97.2" r="1.09" fill="#F6F6F6" fill-opacity="0.75"/>
<circle cx="141.0" cy="142.9" r="0.88" fill="#F6F6F6" fill-opacity="0.75"/>
<circle cx="140.5" cy="139.8" r="1.30" fill="#F6F6F6" fill-opacity="0.75"/>
<circle cx="145.0" cy="130.7" r="0.83" fill="#F6F6F6" fill-opacity="0.75"/>
<circle cx="126.0" cy="146.9" r="1.04" fill="#F6F6F6" fill-opacity="0.75"/>
<circle cx="111.1" cy="129.2" r="0.79" fill="#F6F6F6" fill-opacity="0.75"/>
<circle cx="117.2" cy="111.0" r="1.22" fill="#F6F6F6" fill-opacity="0.75"/>
<circle cx="101.0" cy="39.4" r="1.22" fill="#F6F6F6" fill-opacity="0.75"/>
<circle cx="138.2" cy="77.9" r="0.86" fill="#F6F6F6" fill-opacity="0.75"/>
<circle cx="114.1" cy="144.3" r="1.15" fill="#F6F6F6" fill-opacity="0.75"/>
<circle cx="148.9" cy="87.3" r="1.19" fill="#F6F6F6" fill-opacity="0.75"/>
<circle cx="102.3" cy="97.6" r="0.87" fill="#F6F6F6" fill-opacity="0.75"/>
<circle cx="89.4" cy="93.8" r="0.90" fill="#F6F6F6" fill-opacity="0.75"/>
<circle cx="93.9" cy="86.6" r="0.99" fill="#F6F6F6" fill-opacity="0.75"/>
<circle cx="116.1" cy="60.4" r="1.23" fill="#F6F6F6" fill-opacity="0.75"/>
<circle cx="146.7" cy="81.9" r="0.80" fill="#F6F6F6" fill-opacity="0.75"/>
<circle cx="136.8" cy="72.7" r="1.11" fill="#F6F6F6" fill-opacity="0.75"/>
<circle cx="141.3" cy="154.4" r="1.06" fill="#F6F6F6" fill-opacity="0.75"/>
<circle cx="111.5" cy="140.3" r="0.97" fill="#F6F6F6" fill-opacity="0.75"/>
<circle cx="116.2" cy="68.4" r="1.05" fill="#F6F6F6" fill-opacity="0.75"/>
<circle cx="77.3" cy="93.8" r="1.23" fill="#F6F6F6" fill-opacity="0.75"/>
<circle cx="121.0" cy="153.4" r="0.83" fill="#F6F6F6" fill-opacity="0.75"/>
<circle cx="124.3" cy="67.8" r="1.23" fill="#F6F6F6" fill-opacity="0.75"/>
<circle cx="77.2" cy="61.5" r="0.92" fill="#F6F6F6" fill-opacity="0.75"/>
<circle cx="137.6" cy="115.9" r="1.17" fill="#F6F6F6" fill-opacity="0.75"/>
<circle cx="134.1" cy="150.8" r="1.22" fill="#F6F6F6" fill-opacity="0.75"/>
<circle cx="125.2" cy="53.4" r="0.81" fill="#F6F6F6" fill-opacity="0.75"/>
<circle cx="115.4" cy="123.2" r="1.22" fill="#F6F6F6" fill-opacity="0.75"/>
<circle cx="60.0" cy="57.2" r="1.30" fill="#F6F6F6" fill-opacity="0.75"/>
<circle cx="146.8" cy="143.1" r="0.88" fill="#F6F6F6" fill-opacity="0.75"/>
<circle cx="63.9" cy="76.0" r="0.71" fill="#F6F6F6" fill-opacity="0.75"/>
<circle cx="144.0" cy="103.5" r="0.77" fill="#F6F6F6" fill-opacity="0.75"/>
<circle cx="99.6" cy="59.6" r="1.28" fill="#F6F6F6" fill-opacity="0.75"/>
<circle cx="141.8" cy="80.6" r="0.71" fill="#F6F6F6" fill-opacity="0.75"/>
<circle cx="129.4" cy="92.1" r="1.25" fill="#F6F6F6" fill-opacity="0.75"/>
<circle cx="78.4" cy="70.6" r="0.79" fill="#F6F6F6" fill-opacity="0.75"/>
<circle cx="65.7" cy="49.2" r="1.14" fill="#F6F6F6" fill-opacity="0.75"/>
<circle cx="67.1" cy="82.6" r="0.76" fill="#F6F6F6" fill-opacity="0.75"/>
<circle cx="102.4" cy="51.5" r="0.80" fill="#F6F6F6" fill-opacity="0.75"/>
<circle cx="77.4" cy="38.6" r="1.11" fill="#F6F6F6" fill-opacity="0.75"/>
<circle cx="59.1" cy="52.0" r="0.75" fill="#F6F6F6" fill-opacity="0.75"/>
<circle cx="140.0" cy="59.8" r="0.90" fill="#F6F6F6" fill-opacity="0.75"/>
<circle cx="142.9" cy="88.0" r="1.25" fill="#F6F6F6" fill-opacity="0.75"/>
<circle cx="69.2" cy="74.2" r="1.13" fill="#F6F6F6" fill-opacity="0.75"/>
<circle cx="117.4" cy="83.3" r="1.23" fill="#F6F6F6" fill-opacity="0.75"/>
<circle cx="79.2" cy="39.3" r="1.29" fill="#F6F6F6" fill-opacity="0.75"/>
<circle cx="117.8" cy="115.6" r="0.72" fill="#F6F6F6" fill-opacity="0.75"/>
<circle cx="140.5" cy="96.6" r="0.84" fill="#F6F6F6" fill-opacity="0.75"/>
<circle cx="131.5" cy="70.0" r="1.18" fill="#F6F6F6" fill-opacity="0.75"/>
<circle cx="144.0" cy="139.4" r="1.11" fill="#F6F6F6" fill-opacity="0.75"/>
<circle cx="151.8" cy="80.4" r="0.72" fill="#F6F6F6" fill-opacity="0.75"/>
<circle cx="90.3" cy="98.4" r="1.00" fill="#F6F6F6" fill-opacity="0.75"/>
<circle cx="98.8" cy="86.4" r="0.84" fill="#F6F6F6" fill-opacity="0.75"/>
<circle cx="141.1" cy="139.6" r="0.96" fill="#F6F6F6" fill-opacity="0.75"/>
<circle cx="91.5" cy="122.2" r="0.76" fill="#F6F6F6" fill-opacity="0.75"/>
<circle cx="156.8" cy="83.2" r="0.71" fill="#F6F6F6" fill-opacity="0.75"/>
<circle cx="106.5" cy="88.6" r="1.29" fill="#F6F6F6" fill-opacity="0.75"/>
<circle cx="113.7" cy="87.5" r="0.89" fill="#F6F6F6" fill-opacity="0.75"/>
<circle cx="147.1" cy="117.0" r="1.23" fill="#F6F6F6" fill-opacity="0.75"/>
<circle cx="104.3" cy="84.1" r="0.77" fill="#F6F6F6" fill-opacity="0.75"/>
<circle cx="115.5" cy="138.9" r="0.99" fill="#F6F6F6" fill-opacity="0.75"/>
<circle cx="64.8" cy="95.1" r="0.78" fill="#F6F6F6" fill-opacity="0.75"/>
<circle cx="142.2" cy="150.5" r="0.96" fill="#F6F6F6" fill-opacity="0.75"/>
<circle cx="92.3" cy="71.9" r="0.81" fill="#F6F6F6" fill-opacity="0.75"/>
<circle cx="143.7" cy="87.9" r="1.11" fill="#F6F6F6" fill-opacity="0.75"/>
<circle cx="136.6" cy="59.5" r="0.79" fill="#F6F6F6" fill-opacity="0.75"/>
<circle cx="75.4" cy="58.9" r="1.14" fill="#F6F6F6" fill-opacity="0.75"/>
<circle cx="139.7" cy="146.7" r="1.00" fill="#F6F6F6" fill-opacity="0.75"/>
<circle cx="140.9" cy="136.8" r="0.77" fill="#F6F6F6" fill-opacity="0.75"/>
<circle cx="54.1" cy="86.6" r="0.91" fill="#F6F6F6" fill-opacity="0.75"/>
<circle cx="76.4" cy="72.2" r="1.00" fill="#F6F6F6" fill-opacity="0.75"/>
<circle cx="120.1" cy="63.4" r="1.25" fill="#F6F6F6" fill-opacity="0.75"/>
<circle cx="97.4" cy="84.7" r="0.91" fill="#F6F6F6" fill-opacity="0.75"/>
<circle cx="154.8" cy="104.2" r="0.83" fill="#F6F6F6" fill-opacity="0.75"/>
<circle cx="140.3" cy="142.4" r="1.28" fill="#F6F6F6" fill-opacity="0.75"/>
<circle cx="109.8" cy="148.5" r="1.23" fill="#F6F6F6" fill-opacity="0.75"/>
<circle cx="107.3" cy="73.9" r="1.14" fill="#F6F6F6" fill-opacity="0.75"/>
<circle cx="82.8" cy="106.4" r="0.86" fill="#F6F6F6" fill-opacity="0.75"/>
<circle cx="157.0" cy="86.1" r="0.81" fill="#F6F6F6" fill-opacity="0.75"/>
<circle cx="78.6" cy="78.9" r="0.86" fill="#F6F6F6" fill-opacity="0.75"/>
<circle cx="81.5" cy="69.8" r="0.74" fill="#F6F6F6" fill-opacity="0.75"/>
<circle cx="80.9" cy="45.0" r="0.73" fill="#F6F6F6" fill-opacity="0.75"/>
<circle cx="58.0" cy="91.0" r="1.01" fill="#F6F6F6" fill-opacity="0.75"/>
<circle cx="143.7" cy="100.7" r="0.94" fill="#F6F6F6" fill-opacity="0.75"/>
<circle cx="113.0" cy="106.9" r="1.03" fill="#F6F6F6" fill-opacity="0.75"/>
<circle cx="100.5" cy="91.3" r="0.92" fill="#F6F6F6" fill-opacity="0.75"/>
<circle cx="117.9" cy="79.3" r="0.71" fill="#F6F6F6" fill-opacity="0.75"/>
<circle cx="83.4" cy="44.8" r="1.11" fill="#F6F6F6" fill-opacity="0.75"/>
<circle cx="73.3" cy="85.9" r="1.09" fill="#F6F6F6" fill-opacity="0.75"/>
<circle cx="91.7" cy="97.0" r="1.03" fill="#F6F6F6" fill-opacity="0.75"/>
<circle cx="111.5" cy="82.7" r="1.03" fill="#F6F6F6" fill-opacity="0.75"/>
<circle cx="147.3" cy="74.9" r="1.11" fill="#F6F6F6" fill-opacity="0.75"/>
<circle cx="55.1" cy="67.0" r="1.29" fill="#F6F6F6" fill-opacity="0.75"/>
<circle cx="98.1" cy="119.8" r="1.22" fill="#F6F6F6" fill-opacity="0.75"/>
<circle cx="65.6" cy="59.2" r="1.13" fill="#F6F6F6" fill-opacity="0.75"/>
<circle cx="88.2" cy="110.7" r="0.94" fill="#F6F6F6" fill-opacity="0.75"/>
<circle cx="118.3" cy="137.2" r="0.89" fill="#F6F6F6" fill-opacity="0.75"/>
<circle cx="141.6" cy="86.7" r="0.95" fill="#F6F6F6" fill-opacity="0.75"/>
<circle cx="132.2" cy="121.0" r="1.28" fill="#F6F6F6" fill-opacity="0.75"/>
<circle cx="134.6" cy="80.2" r="0.93" fill="#F6F6F6" fill-opacity="0.75"/>
<circle cx="137.5" cy="115.7" r="0.93" fill="#F6F6F6" fill-opacity="0.75"/>
<circle cx="135.3" cy="97.0" r="0.95" fill="#F6F6F6" fill-opacity="0.75"/>
<circle cx="113.2" cy="71.5" r="0.79" fill="#F6F6F6" fill-opacity="0.75"/>
<circle cx="137.3" cy="140.7" r="1.30" fill="#F6F6F6" fill-opacity="0.75"/>
<circle cx="117.2" cy="65.7" r="0.70" fill="#F6F6F6" fill-opacity="0.75"/>
<circle cx="99.6" cy="77.6" r="1.06" fill="#F6F6F6" fill-opacity="0.75"/>
<circle cx="92.5" cy="92.4" r="1.26" fill="#F6F6F6" fill-opacity="0.75"/>
<circle cx="91.8" cy="56.9" r="0.85" fill="#F6F6F6" fill-opacity="0.75"/>
<circle cx="137.7" cy="137.1" r="1.07" fill="#F6F6F6" fill-opacity="0.75"/>
<circle cx="104.9" cy="75.5" r="0.93" fill="#F6F6F6" fill-opacity="0.75"/>
<circle cx="69.0" cy="54.2" r="0.84" fill="#F6F6F6" fill-opacity="0.75"/>
<circle cx="64.5" cy="95.5" r="0.82" fill="#F6F6F6" fill-opacity="0.75"/>
<circle cx="144.1" cy="135.4" r="0.77" fill="#F6F6F6" fill-opacity="0.75"/>
<circle cx="96.6" cy="146.4" r="1.21" fill="#F6F6F6" fill-opacity="0.75"/>
<circle cx="112.4" cy="83.6" r="1.17" fill="#F6F6F6" fill-opacity="0.75"/>
<circle cx="107.0" cy="86.6" r="1.25" fill="#F6F6F6" fill-opacity="0.75"/>
<circle cx="126.1" cy="67.2" r="0.73" fill="#F6F6F6" fill-opacity="0.75"/>
<circle cx="88.8" cy="98.4" r="1.12" fill="#F6F6F6" fill-opacity="0.75"/>
<circle cx="125.1" cy="87.8" r="0.89" fill="#F6F6F6" fill-opacity="0.75"/>
<circle cx="59.3" cy="64.9" r="1.09" fill="#F6F6F6" fill-opacity="0.75"/>
<circle cx="93.7" cy="93.3" r="1.03" fill="#F6F6F6" fill-opacity="0.75"/>
<circle cx="113.4" cy="141.7" r="0.89" fill="#F6F6F6" fill-opacity="0.75"/>
<circle cx="157.9" cy="82.0" r="1.28" fill="#F6F6F6" fill-opacity="0.75"/>
<circle cx="98.2" cy="102.9" r="0.70" fill="#F6F6F6" fill-opacity="0.75"/>
<circle cx="108.4" cy="132.0" r="1.15" fill="#F6F6F6" fill-opacity="0.75"/>
<circle cx="67.5" cy="56.3" r="1.21" fill="#F6F6F6" fill-opacity="0.75"/>
<circle cx="150.0" cy="112.9" r="1.01" fill="#F6F6F6" fill-opacity="0.75"/>
<circle cx="149.2" cy="72.0" r="1.06" fill="#F6F6F6" fill-opacity="0.75"/>
<circle cx="65.8" cy="52.1" r="1.30" fill="#F6F6F6" fill-opacity="0.75"/>
<circle cx="106.3" cy="84.7" r="0.84" fill="#F6F6F6" fill-opacity="0.75"/>
<circle cx="119.8" cy="99.7" r="1.08" fill="#F6F6F6" fill-opacity="0.75"/>
<circle cx="94.9" cy="127.7" r="1.15" fill="#F6F6F6" fill-opacity="0.75"/>
<circle cx="144.0" cy="97.1" r="0.93" fill="#F6F6F6" fill-opacity="0.75"/>
<circle cx="104.8" cy="92.1" r="1.13" fill="#F6F6F6" fill-opacity="0.75"/>
<circle cx="78.3" cy="106.3" r="0.94" fill="#F6F6F6" fill-opacity="0.75"/>
<circle cx="113.5" cy="70.5" r="1.02" fill="#F6F6F6" fill-opacity="0.75"/>
<circle cx="107.6" cy="133.1" r="1.07" fill="#F6F6F6" fill-opacity="0.75"/>
<circle cx="117.9" cy="130.6" r="1.11" fill="#F6F6F6" fill-opacity="0.75"/>
<circle cx="129.6" cy="61.8" r="0.89" fill="#F6F6F6" fill-opacity="0.75"/>
<circle cx="67.3" cy="48.5" r="1.08" fill="#F6F6F6" fill-opacity="0.75"/>
<circle cx="114.4" cy="61.0" r="1.03" fill="#F6F6F6" fill-opacity="0.75"/>
<circle cx="99.3" cy="66.6" r="0.83" fill="#F6F6F6" fill-opacity="0.75"/>
<circle cx="98.1" cy="102.3" r="1.07" fill="#F6F6F6" fill-opacity="0.75"/>
<circle cx="75.7" cy="67.2" r="0.86" fill="#F6F6F6" fill-opacity="0.75"/>
<circle cx="103.2" cy="128.5" r="1.25" fill="#F6F6F6" fill-opacity="0.75"/>
<circle cx="88.9" cy="36.4" r="0.98" fill="#F6F6F6" fill-opacity="0.75"/>
<circle cx="108.8" cy="66.6" r="1.13" fill="#F6F6F6" fill-opacity="0.75"/>
<circle cx="88.0" cy="45.2" r="1.01" fill="#F6F6F6" fill-opacity="0.75"/>
<circle cx="69.8" cy="51.1" r="0.99" fill="#F6F6F6" fill-opacity="0.75"/>
<circle cx="123.7" cy="59.9" r="0.83" fill="#F6F6F6" fill-opacity="0.75"/>
<circle cx="98.5" cy="135.1" r="0.79" fill="#F6F6F6" fill-opacity="0.75"/>
<circle cx="88.2" cy="117.8" r="1.26" fill="#F6F6F6" fill-opacity="0.75"/>
<circle cx="105.6" cy="42.5" r="1.02" fill="#F6F6F6" fill-opacity="0.75"/>
<circle cx="128.5" cy="47.6" r="1.01" fill="#F6F6F6" fill-opacity="0.75"/>
<circle cx="150.6" cy="97.3" r="1.02" fill="#F6F6F6" fill-opacity="0.75"/>
<circle cx="90.0" cy="45.4" r="1.19" fill="#F6F6F6" fill-opacity="0.75"/>
<circle cx="106.5" cy="90.5" r="0.84" fill="#F6F6F6" fill-opacity="0.75"/>
<circle cx="91.9" cy="107.9" r="0.80" fill="#F6F6F6" fill-opacity="0.75"/>
<circle cx="112.7" cy="55.2" r="1.19" fill="#F6F6F6" fill-opacity="0.75"/>
<circle cx="84.6" cy="108.7" r="0.98" fill="#F6F6F6" fill-opacity="0.75"/>
<circle cx="60.4" cy="93.4" r="1.08" fill="#F6F6F6" fill-opacity="0.75"/>
<circle cx="89.2" cy="84.1" r="1.20" fill="#F6F6F6" fill-opacity="0.75"/>
<circle cx="83.5" cy="42.4" r="1.24" fill="#F6F6F6" fill-opacity="0.75"/>
<circle cx="80.2" cy="69.3" r="1.22" fill="#F6F6F6" fill-opacity="0.75"/>
<circle cx="151.6" cy="125.8" r="0.73" fill="#F6F6F6" fill-opacity="0.75"/>
<circle cx="148.6" cy="138.9" r="0.93" fill="#F6F6F6" fill-opacity="0.75"/>
<circle cx="63.1" cy="50.0" r="1.20" fill="#F6F6F6" fill-opacity="0.75"/>
<circle cx="123.7" cy="61.4" r="1.19" fill="#F6F6F6" fill-opacity="0.75"/>
<circle cx="95.0" cy="108.2" r="0.77" fill="#F6F6F6" fill-opacity="0.75"/>
<circle cx="144.5" cy="61.5" r="0.79" fill="#F6F6F6" fill-opacity="0.75"/>
<circle cx="131.7" cy="116.3" r="0.85" fill="#F6F6F6" fill-opacity="0.75"/>
<circle cx="82.6" cy="65.9" r="0.76" fill="#F6F6F6" fill-opacity="0.75"/>
<circle cx="143.7" cy="94.7" r="0.91" fill="#F6F6F6" fill-opacity="0.75"/>
<circle cx="97.6" cy="112.0" r="1.18" fill="#F6F6F6" fill-opacity="0.75"/>
<circle cx="143.1" cy="126.0" r="1.01" fill="#F6F6F6" fill-opacity="0.75"/>
<circle cx="145.4" cy="100.3" r="0.97" fill="#F6F6F6" fill-opacity="0.75"/>
<circle cx="127.2" cy="67.8" r="0.75" fill="#F6F6F6" fill-opacity="0.75"/>
<circle cx="133.2" cy="134.0" r="0.94" fill="#F6F6F6" fill-opacity="0.75"/>
<circle cx="155.9" cy="72.4" r="1.30" fill="#F6F6F6" fill-opacity="0.75"/>
<circle cx="154.0" cy="113.1" r="1.12" fill="#F6F6F6" fill-opacity="0.75"/>
<circle cx="132.2" cy="134.2" r="0.97" fill="#F6F6F6" fill-opacity="0.75"/>
<circle cx="119.6" cy="76.8" r="0.99" fill="#F6F6F6" fill-opacity="0.75"/>
<circle cx="96.8" cy="85.8" r="1.18" fill="#F6F6F6" fill-opacity="0.75"/>
<circle cx="128.1" cy="130.5" r="1.16" fill="#F6F6F6" fill-opacity="0.75"/>
<circle cx="77.8" cy="91.1" r="0.79" fill="#F6F6F6" fill-opacity="0.75"/>
<circle cx="158.5" cy="104.9" r="1.11" fill="#F6F6F6" fill-opacity="0.75"/>
<circle cx="110.0" cy="46.0" r="0.92" fill="#F6F6F6" fill-opacity="0.75"/>
<circle cx="54.8" cy="62.4" r="1.01" fill="#F6F6F6" fill-opacity="0.75"/>
<circle cx="94.9" cy="38.6" r="0.84" fill="#F6F6F6" fill-opacity="0.75"/>
<circle cx="128.6" cy="109.9" r="0.92" fill="#F6F6F6" fill-opacity="0.75"/>
<circle cx="75.1" cy="44.7" r="0.90" fill="#F6F6F6" fill-opacity="0.75"/>
<circle cx="106.8" cy="75.6" r="0.93" fill="#F6F6F6" fill-opacity="0.75"/>
<circle cx="64.2" cy="93.6" r="0.71" fill="#F6F6F6" fill-opacity="0.75"/>
<circle cx="86.0" cy="131.9" r="0.82" fill="#F6F6F6" fill-opacity="0.75"/>
<circle cx="110.5" cy="123.6" r="1.04" fill="#F6F6F6" fill-opacity="0.75"/>
<circle cx="116.2" cy="78.1" r="0.73" fill="#F6F6F6" fill-opacity="0.75"/>
<circle cx="135.3" cy="134.3" r="0.81" fill="#F6F6F6" fill-opacity="0.75"/>
<circle cx="61.1" cy="52.0" r="1.13" fill="#F6F6F6" fill-opacity="0.75"/>
<circle cx="89.1" cy="39.4" r="0.86" fill="#F6F6F6" fill-opacity="0.75"/>
<circle cx="116.2" cy="99.7" r="1.29" fill="#FCFCFC" fill-opacity="0.8"/>
<circle cx="141.7" cy="93.7" r="1.45" fill="#FCFCFC" fill-opacity="0.8"/>
<circle cx="131.8" cy="124.4" r="1.32" fill="#FCFCFC" fill-opacity="0.8"/>
<circle cx="110.1" cy="106.9" r="1.22" fill="#FCFCFC" fill-opacity="0.8"/>
<circle cx="139.6" cy="114.7" r="0.92" fill="#FCFCFC" fill-opacity="0.8"/>
<circle cx="118.6" cy="91.8" r="1.26" fill="#FCFCFC" fill-opacity="0.8"/>
<circle cx="122.1" cy="104.7" r="0.97" fill="#FCFCFC" fill-opacity="0.8"/>
<circle cx="135.6" cy="101.8" r="1.35" fill="#FCFCFC" fill-opacity="0.8"/>
<circle cx="120.4" cy="115.9" r="0.99" fill="#FCFCFC" fill-opacity="0.8"/>
<circle cx="140.5" cy="104.1" r="1.30" fill="#FCFCFC" fill-opacity="0.8"/>
<circle cx="119.3" cy="113.1" r="1.15" fill="#FCFCFC" fill-opacity="0.8"/>
<circle cx="146.2" cy="97.7" r="1.16" fill="#FCFCFC" fill-opacity="0.8"/>
<circle cx="148.6" cy="118.5" r="1.36" fill="#FCFCFC" fill-opacity="0.8"/>
<circle cx="118.6" cy="116.6" r="1.01" fill="#FCFCFC" fill-opacity="0.8"/>
<circle cx="116.5" cy="92.8" r="1.02" fill="#FCFCFC" fill-opacity="0.8"/>
<circle cx="137.8" cy="105.2" r="1.56" fill="#FCFCFC" fill-opacity="0.8"/>
<circle cx="126.3" cy="109.9" r="1.13" fill="#FCFCFC" fill-opacity="0.8"/>
<circle cx="145.1" cy="120.3" r="1.49" fill="#FCFCFC" fill-opacity="0.8"/>
<circle cx="101.3" cy="113.7" r="1.51" fill="#FCFCFC" fill-opacity="0.8"/>
<circle cx="123.1" cy="108.5" r="1.24" fill="#FCFCFC" fill-opacity="0.8"/>
<circle cx="142.0" cy="106.6" r="1.00" fill="#FCFCFC" fill-opacity="0.8"/>
<circle cx="123.7" cy="125.6" r="0.97" fill="#FCFCFC" fill-opacity="0.8"/>
<circle cx="122.0" cy="109.7" r="1.52" fill="#FCFCFC" fill-opacity="0.8"/>
<circle cx="125.6" cy="123.0" r="0.98" fill="#FCFCFC" fill-opacity="0.8"/>
<circle cx="133.5" cy="119.6" r="1.25" fill="#FCFCFC" fill-opacity="0.8"/>
<circle cx="120.1" cy="91.6" r="1.28" fill="#FCFCFC" fill-opacity="0.8"/>
<circle cx="134.0" cy="112.2" r="0.98" fill="#FCFCFC" fill-opacity="0.8"/>
<circle cx="138.5" cy="120.8" r="1.23" fill="#FCFCFC" fill-opacity="0.8"/>
<circle cx="105.9" cy="98.8" r="1.01" fill="#FCFCFC" fill-opacity="0.8"/>
<circle cx="103.9" cy="122.7" r="1.27" fill="#FCFCFC" fill-opacity="0.8"/>
<circle cx="105.1" cy="93.5" r="1.25" fill="#FCFCFC" fill-opacity="0.8"/>
<circle cx="137.7" cy="112.6" r="1.16" fill="#FCFCFC" fill-opacity="0.8"/>
<circle cx="102.8" cy="117.2" r="1.04" fill="#FCFCFC" fill-opacity="0.8"/>
<circle cx="135.6" cy="109.3" r="1.18" fill="#FCFCFC" fill-opacity="0.8"/>
<circle cx="102.7" cy="117.6" r="1.04" fill="#FCFCFC" fill-opacity="0.8"/>
<circle cx="120.9" cy="113.4" r="0.99" fill="#FCFCFC" fill-opacity="0.8"/>
<circle cx="149.9" cy="122.7" r="1.07" fill="#FCFCFC" fill-opacity="0.8"/>
<circle cx="143.6" cy="95.8" r="1.51" fill="#FCFCFC" fill-opacity="0.8"/>
<circle cx="116.7" cy="110.7" r="1.25" fill="#FCFCFC" fill-opacity="0.8"/>
<circle cx="100.3" cy="129.5" r="1.52" fill="#FCFCFC" fill-opacity="0.8"/>
<circle cx="113.7" cy="100.5" r="0.91" fill="#FCFCFC" fill-opacity="0.8"/>
<circle cx="115.7" cy="100.2" r="1.56" fill="#FCFCFC" fill-opacity="0.8"/>
<circle cx="142.9" cy="112.2" r="1.24" fill="#FCFCFC" fill-opacity="0.8"/>
<circle cx="125.5" cy="106.8" r="1.45" fill="#FCFCFC" fill-opacity="0.8"/>
<circle cx="102.6" cy="102.2" r="1.30" fill="#FCFCFC" fill-opacity="0.8"/>
<circle cx="143.3" cy="122.1" r="1.38" fill="#FCFCFC" fill-opacity="0.8"/>
<circle cx="142.8" cy="100.3" r="1.06" fill="#FCFCFC" fill-opacity="0.8"/>
<circle cx="110.1" cy="92.1" r="1.43" fill="#FCFCFC" fill-opacity="0.8"/>
<circle cx="126.8" cy="105.0" r="1.01" fill="#FCFCFC" fill-opacity="0.8"/>
<circle cx="123.2" cy="109.6" r="1.08" fill="#FCFCFC" fill-opacity="0.8"/>
<circle cx="129.2" cy="104.6" r="0.92" fill="#FCFCFC" fill-opacity="0.8"/>
<circle cx="140.1" cy="98.0" r="1.18" fill="#FCFCFC" fill-opacity="0.8"/>
<circle cx="146.0" cy="112.2" r="1.26" fill="#FCFCFC" fill-opacity="0.8"/>
<circle cx="102.6" cy="102.6" r="1.10" fill="#FCFCFC" fill-opacity="0.8"/>
<circle cx="126.7" cy="106.4" r="1.52" fill="#FCFCFC" fill-opacity="0.8"/>
<circle cx="128.2" cy="102.9" r="0.96" fill="#FCFCFC" fill-opacity="0.8"/>
<circle cx="113.7" cy="121.8" r="1.30" fill="#FCFCFC" fill-opacity="0.8"/>
<circle cx="114.6" cy="118.4" r="1.06" fill="#FCFCFC" fill-opacity="0.8"/>
<circle cx="140.1" cy="113.7" r="1.32" fill="#FCFCFC" fill-opacity="0.8"/>
<circle cx="122.7" cy="127.4" r="1.45" fill="#FCFCFC" fill-opacity="0.8"/>
<circle cx="122.2" cy="125.1" r="1.40" fill="#FCFCFC" fill-opacity="0.8"/>
<circle cx="102.9" cy="107.3" r="0.94" fill="#FCFCFC" fill-opacity="0.8"/>
<circle cx="132.0" cy="92.0" r="1.07" fill="#FCFCFC" fill-opacity="0.8"/>
<circle cx="143.1" cy="92.9" r="1.32" fill="#FCFCFC" fill-opacity="0.8"/>
<circle cx="129.8" cy="97.2" r="1.59" fill="#FCFCFC" fill-opacity="0.8"/>
<circle cx="146.1" cy="112.4" r="0.93" fill="#FCFCFC" fill-opacity="0.8"/>
<circle cx="140.0" cy="109.9" r="1.33" fill="#FCFCFC" fill-opacity="0.8"/>
<circle cx="133.7" cy="117.0" r="1.38" fill="#FCFCFC" fill-opacity="0.8"/>
<circle cx="114.7" cy="98.4" r="1.47" fill="#FCFCFC" fill-opacity="0.8"/>
<circle cx="141.9" cy="95.8" r="1.14" fill="#FCFCFC" fill-opacity="0.8"/>
<circle cx="145.9" cy="98.3" r="1.47" fill="#FCFCFC" fill-opacity="0.8"/>
<circle cx="105.0" cy="93.8" r="1.22" fill="#FCFCFC" fill-opacity="0.8"/>
<circle cx="139.2" cy="128.0" r="1.54" fill="#FCFCFC" fill-opacity="0.8"/>
<circle cx="120.7" cy="116.4" r="0.91" fill="#FCFCFC" fill-opacity="0.8"/>
<circle cx="112.9" cy="126.2" r="1.56" fill="#FCFCFC" fill-opacity="0.8"/>
<circle cx="134.3" cy="96.2" r="1.19" fill="#FCFCFC" fill-opacity="0.8"/>
<circle cx="102.8" cy="117.8" r="1.18" fill="#FCFCFC" fill-opacity="0.8"/>
<circle cx="102.1" cy="123.4" r="0.96" fill="#FCFCFC" fill-opacity="0.8"/>
<circle cx="114.7" cy="99.3" r="1.07" fill="#FCFCFC" fill-opacity="0.8"/>
<circle cx="129.1" cy="102.7" r="1.41" fill="#FCFCFC" fill-opacity="0.8"/>
<circle cx="128.0" cy="96.2" r="1.38" fill="#FCFCFC" fill-opacity="0.8"/>
<circle cx="145.6" cy="103.0" r="1.01" fill="#FCFCFC" fill-opacity="0.8"/>
<circle cx="142.1" cy="96.1" r="1.14" fill="#FCFCFC" fill-opacity="0.8"/>
<circle cx="140.0" cy="129.2" r="1.00" fill="#FCFCFC" fill-opacity="0.8"/>
<circle cx="119.6" cy="91.3" r="1.04" fill="#FCFCFC" fill-opacity="0.8"/>
<circle cx="119.0" cy="115.6" r="1.05" fill="#FCFCFC" fill-opacity="0.8"/>
<circle cx="111.2" cy="111.8" r="1.13" fill="#FCFCFC" fill-opacity="0.8"/>
<circle cx="104.7" cy="108.6" r="1.58" fill="#FCFCFC" fill-opacity="0.8"/>
<circle cx="136.4" cy="107.2" r="1.60" fill="#FCFCFC" fill-opacity="0.8"/>
<circle cx="133.9" cy="94.6" r="1.45" fill="#FCFCFC" fill-opacity="0.8"/>
<circle cx="141.4" cy="94.9" r="1.24" fill="#FCFCFC" fill-opacity="0.8"/>
<circle cx="146.2" cy="129.8" r="1.25" fill="#FCFCFC" fill-opacity="0.8"/>
<circle cx="147.0" cy="111.1" r="1.45" fill="#FCFCFC" fill-opacity="0.8"/>
<circle cx="114.5" cy="103.9" r="1.54" fill="#FCFCFC" fill-opacity="0.8"/>
<circle cx="137.5" cy="109.9" r="1.43" fill="#FCFCFC" fill-opacity="0.8"/>
<circle cx="146.5" cy="93.7" r="1.35" fill="#FCFCFC" fill-opacity="0.8"/>
<circle cx="124.2" cy="124.6" r="1.04" fill="#FCFCFC" fill-opacity="0.8"/>
<circle cx="129.9" cy="111.6" r="1.34" fill="#FCFCFC" fill-opacity="0.8"/>
<circle cx="104.4" cy="95.6" r="1.49" fill="#FCFCFC" fill-opacity="0.8"/>
<circle cx="113.6" cy="125.7" r="1.45" fill="#FCFCFC" fill-opacity="0.8"/>
<circle cx="142.3" cy="99.1" r="0.96" fill="#FCFCFC" fill-opacity="0.8"/>
<circle cx="146.2" cy="91.3" r="1.40" fill="#FCFCFC" fill-opacity="0.8"/>
<circle cx="129.9" cy="128.7" r="1.14" fill="#FCFCFC" fill-opacity="0.8"/>
<circle cx="117.2" cy="127.8" r="1.01" fill="#FCFCFC" fill-opacity="0.8"/>
<circle cx="132.8" cy="92.0" r="1.58" fill="#FCFCFC" fill-opacity="0.8"/>
<circle cx="116.7" cy="108.0" r="1.37" fill="#FCFCFC" fill-opacity="0.8"/>
<circle cx="112.4" cy="119.7" r="1.42" fill="#FCFCFC" fill-opacity="0.8"/>
<circle cx="108.9" cy="121.5" r="0.99" fill="#FCFCFC" fill-opacity="0.8"/>
<circle cx="114.9" cy="92.8" r="1.48" fill="#FCFCFC" fill-opacity="0.8"/>
<circle cx="128.0" cy="93.8" r="1.56" fill="#FCFCFC" fill-opacity="0.8"/>
<circle cx="139.9" cy="27.2" r="1.29" fill="#EEF0F0" fill-opacity="0.8"/>
<circle cx="153.7" cy="21.2" r="1.07" fill="#EEF0F0" fill-opacity="0.8"/>
<circle cx="123.3" cy="44.9" r="0.98" fill="#EEF0F0" fill-opacity="0.8"/>
<circle cx="133.4" cy="18.4" r="0.85" fill="#EEF0F0" fill-opacity="0.8"/>
<circle cx="144.6" cy="39.3" r="1.17" fill="#EEF0F0" fill-opacity="0.8"/>
<circle cx="130.2" cy="42.5" r="1.22" fill="#EEF0F0" fill-opacity="0.8"/>
<circle cx="149.9" cy="38.0" r="1.22" fill="#EEF0F0" fill-opacity="0.8"/>
<circle cx="127.6" cy="34.2" r="0.85" fill="#EEF0F0" fill-opacity="0.8"/>
<circle cx="150.8" cy="26.4" r="0.98" fill="#EEF0F0" fill-opacity="0.8"/>
<circle cx="140.6" cy="28.1" r="0.95" fill="#EEF0F0" fill-opacity="0.8"/>
<circle cx="127.4" cy="17.4" r="1.18" fill="#EEF0F0" fill-opacity="0.8"/>
<circle cx="128.3" cy="45.2" r="0.87" fill="#EEF0F0" fill-opacity="0.8"/>
<circle cx="141.3" cy="20.9" r="1.10" fill="#EEF0F0" fill-opacity="0.8"/>
<circle cx="145.4" cy="27.4" r="1.29" fill="#EEF0F0" fill-opacity="0.8"/>
<circle cx="143.4" cy="43.5" r="1.18" fill="#EEF0F0" fill-opacity="0.8"/>
<circle cx="116.9" cy="38.0" r="0.80" fill="#EEF0F0" fill-opacity="0.8"/>
<circle cx="113.0" cy="44.2" r="0.84" fill="#EEF0F0" fill-opacity="0.8"/>
<circle cx="157.9" cy="23.9" r="0.86" fill="#EEF0F0" fill-opacity="0.8"/>
<circle cx="122.0" cy="47.2" r="1.15" fill="#EEF0F0" fill-opacity="0.8"/>
<circle cx="130.3" cy="30.0" r="1.10" fill="#EEF0F0" fill-opacity="0.8"/>
<circle cx="157.8" cy="30.3" r="1.06" fill="#EEF0F0" fill-opacity="0.8"/>
<circle cx="151.7" cy="15.1" r="1.03" fill="#EEF0F0" fill-opacity="0.8"/>
<circle cx="119.6" cy="49.6" r="1.00" fill="#EEF0F0" fill-opacity="0.8"/>
<circle cx="133.3" cy="43.6" r="1.11" fill="#EEF0F0" fill-opacity="0.8"/>
<circle cx="123.3" cy="23.5" r="1.12" fill="#EEF0F0" fill-opacity="0.8"/>
<circle cx="115.9" cy="32.3" r="1.26" fill="#EEF0F0" fill-opacity="0.8"/>
<circle cx="153.3" cy="30.6" r="1.17" fill="#EEF0F0" fill-opacity="0.8"/>
<circle cx="114.7" cy="35.5" r="1.20" fill="#EEF0F0" fill-opacity="0.8"/>
<circle cx="128.7" cy="37.1" r="1.26" fill="#EEF0F0" fill-opacity="0.8"/>
<circle cx="142.0" cy="24.5" r="1.22" fill="#EEF0F0" fill-opacity="0.8"/>
<circle cx="136.6" cy="37.8" r="1.16" fill="#EEF0F0" fill-opacity="0.8"/>
<circle cx="155.5" cy="29.9" r="0.82" fill="#EEF0F0" fill-opacity="0.8"/>
<circle cx="113.8" cy="44.7" r="1.14" fill="#EEF0F0" fill-opacity="0.8"/>
<circle cx="144.5" cy="32.5" r="1.22" fill="#EEF0F0" fill-opacity="0.8"/>
<circle cx="132.9" cy="41.0" r="1.02" fill="#EEF0F0" fill-opacity="0.8"/>
<circle cx="147.7" cy="9.5" r="1.24" fill="#EEF0F0" fill-opacity="0.8"/>
<circle cx="118.1" cy="33.9" r="0.89" fill="#EEF0F0" fill-opacity="0.8"/>
<circle cx="139.3" cy="10.1" r="1.27" fill="#EEF0F0" fill-opacity="0.8"/>
<circle cx="130.2" cy="40.9" r="1.02" fill="#EEF0F0" fill-opacity="0.8"/>
<circle cx="142.4" cy="20.4" r="1.15" fill="#EEF0F0" fill-opacity="0.8"/>
<circle cx="148.4" cy="20.8" r="0.93" fill="#EEF0F0" fill-opacity="0.8"/>
<circle cx="137.7" cy="26.5" r="0.95" fill="#EEF0F0" fill-opacity="0.8"/>
<circle cx="150.4" cy="37.8" r="0.97" fill="#EEF0F0" fill-opacity="0.8"/>
<circle cx="145.8" cy="38.4" r="0.96" fill="#EEF0F0" fill-opacity="0.8"/>
<circle cx="139.2" cy="44.3" r="0.85" fill="#EEF0F0" fill-opacity="0.8"/>
<circle cx="149.9" cy="23.3" r="1.02" fill="#EEF0F0" fill-opacity="0.8"/>
<circle cx="117.9" cy="30.7" r="1.29" fill="#EEF0F0" fill-opacity="0.8"/>
<circle cx="154.0" cy="15.1" r="1.13" fill="#EEF0F0" fill-opacity="0.8"/>
<circle cx="147.2" cy="15.5" r="1.27" fill="#EEF0F0" fill-opacity="0.8"/>
<circle cx="125.6" cy="24.9" r="1.18" fill="#EEF0F0" fill-opacity="0.8"/>
<circle cx="126.7" cy="27.3" r="1.22" fill="#EEF0F0" fill-opacity="0.8"/>
<circle cx="130.3" cy="25.0" r="1.30" fill="#EEF0F0" fill-opacity="0.8"/>
<circle cx="121.0" cy="48.0" r="1.18" fill="#EEF0F0" fill-opacity="0.8"/>
<circle cx="133.1" cy="44.8" r="0.94" fill="#EEF0F0" fill-opacity="0.8"/>
<circle cx="142.2" cy="42.3" r="0.92" fill="#EEF0F0" fill-opacity="0.8"/>
<circle cx="148.1" cy="28.7" r="1.01" fill="#EEF0F0" fill-opacity="0.8"/>
<circle cx="138.4" cy="37.5" r="0.81" fill="#EEF0F0" fill-opacity="0.8"/>
<circle cx="147.9" cy="20.1" r="0.92" fill="#EEF0F0" fill-opacity="0.8"/>
<circle cx="136.9" cy="20.7" r="1.24" fill="#EEF0F0" fill-opacity="0.8"/>
<circle cx="141.9" cy="19.4" r="1.26" fill="#EEF0F0" fill-opacity="0.8"/>
<circle cx="148.8" cy="9.8" r="0.96" fill="#EEF0F0" fill-opacity="0.8"/>
<circle cx="151.5" cy="32.9" r="1.19" fill="#EEF0F0" fill-opacity="0.8"/>
<circle cx="124.0" cy="18.7" r="1.19" fill="#EEF0F0" fill-opacity="0.8"/>
<circle cx="114.4" cy="32.1" r="1.24" fill="#EEF0F0" fill-opacity="0.8"/>
<circle cx="147.9" cy="37.8" r="1.20" fill="#EEF0F0" fill-opacity="0.8"/>
<circle cx="131.2" cy="43.5" r="1.07" fill="#EEF0F0" fill-opacity="0.8"/>
<circle cx="142.1" cy="38.4" r="0.85" fill="#EEF0F0" fill-opacity="0.8"/>
<circle cx="149.0" cy="25.4" r="1.21" fill="#EEF0F0" fill-opacity="0.8"/>
<circle cx="127.7" cy="25.3" r="0.96" fill="#EEF0F0" fill-opacity="0.8"/>
<circle cx="150.5" cy="23.4" r="1.11" fill="#EEF0F0" fill-opacity="0.8"/>
<circle cx="120.1" cy="46.4" r="0.98" fill="#EEF0F0" fill-opacity="0.8"/>
<circle cx="137.1" cy="30.9" r="1.07" fill="#EEF0F0" fill-opacity="0.8"/>
<circle cx="135.6" cy="45.5" r="1.28" fill="#EEF0F0" fill-opacity="0.8"/>
<circle cx="143.7" cy="33.4" r="0.88" fill="#EEF0F0" fill-opacity="0.8"/>
<circle cx="130.8" cy="33.2" r="1.07" fill="#EEF0F0" fill-opacity="0.8"/>
<circle cx="124.4" cy="45.2" r="1.12" fill="#EEF0F0" fill-opacity="0.8"/>
<circle cx="118.4" cy="37.5" r="1.07" fill="#EEF0F0" fill-opacity="0.8"/>
<circle cx="148.0" cy="30.0" r="1.27" fill="#EEF0F0" fill-opacity="0.8"/>
<circle cx="117.4" cy="39.0" r="1.00" fill="#EEF0F0" fill-opacity="0.8"/>
<circle cx="145.5" cy="34.9" r="1.26" fill="#EEF0F0" fill-opacity="0.8"/>
<circle cx="140.6" cy="44.3" r="1.14" fill="#EEF0F0" fill-opacity="0.8"/>
<circle cx="150.3" cy="23.8" r="1.28" fill="#EEF0F0" fill-opacity="0.8"/>
<circle cx="145.3" cy="11.2" r="0.84" fill="#EEF0F0" fill-opacity="0.8"/>
<circle cx="152.1" cy="22.3" r="0.91" fill="#EEF0F0" fill-opacity="0.8"/>
<circle cx="111.2" cy="35.7" r="0.94" fill="#EEF0F0" fill-opacity="0.8"/>
<circle cx="138.2" cy="43.5" r="1.25" fill="#EEF0F0" fill-opacity="0.8"/>
<circle cx="112.9" cy="44.4" r="0.81" fill="#EEF0F0" fill-opacity="0.8"/>
<circle cx="141.8" cy="23.0" r="0.93" fill="#EEF0F0" fill-opacity="0.8"/>
<circle cx="127.2" cy="33.0" r="1.16" fill="#EEF0F0" fill-opacity="0.8"/>
<circle cx="121.7" cy="42.9" r="1.29" fill="#EEF0F0" fill-opacity="0.8"/>
<circle cx="121.2" cy="44.9" r="0.89" fill="#EEF0F0" fill-opacity="0.8"/>
<circle cx="150.6" cy="31.6" r="1.02" fill="#EEF0F0" fill-opacity="0.8"/>
<circle cx="112.5" cy="42.2" r="1.14" fill="#EEF0F0" fill-opacity="0.8"/>
<circle cx="141.9" cy="39.9" r="1.15" fill="#EEF0F0" fill-opacity="0.8"/>
<circle cx="139.7" cy="25.6" r="1.17" fill="#EEF0F0" fill-opacity="0.8"/>
<circle cx="136.1" cy="33.9" r="1.18" fill="#EEF0F0" fill-opacity="0.8"/>
<circle cx="122.1" cy="46.2" r="0.92" fill="#EEF0F0" fill-opacity="0.8"/>
<circle cx="158.1" cy="22.5" r="0.93" fill="#EEF0F0" fill-opacity="0.8"/>
<circle cx="134.4" cy="13.9" r="0.81" fill="#EEF0F0" fill-opacity="0.8"/>
<circle cx="133.2" cy="38.0" r="1.15" fill="#EEF0F0" fill-opacity="0.8"/>
<circle cx="145.7" cy="28.0" r="0.90" fill="#EEF0F0" fill-opacity="0.8"/>
<circle cx="127.7" cy="16.4" r="0.93" fill="#EEF0F0" fill-opacity="0.8"/>
<circle cx="130.7" cy="20.4" r="1.28" fill="#EEF0F0" fill-opacity="0.8"/>
<circle cx="120.5" cy="40.4" r="1.12" fill="#EEF0F0" fill-opacity="0.8"/>
<circle cx="136.3" cy="27.3" r="1.10" fill="#EEF0F0" fill-opacity="0.8"/>
<circle cx="120.7" cy="39.0" r="1.13" fill="#EEF0F0" fill-opacity="0.8"/>
<circle cx="138.5" cy="38.9" r="1.10" fill="#EEF0F0" fill-opacity="0.8"/>
<circle cx="146.4" cy="39.7" r="1.15" fill="#EEF0F0" fill-opacity="0.8"/>
<circle cx="111.6" cy="46.0" r="0.95" fill="#EEF0F0" fill-opacity="0.8"/>
<circle cx="146.4" cy="35.7" r="0.83" fill="#EEF0F0" fill-opacity="0.8"/>
<circle cx="123.9" cy="23.6" r="0.83" fill="#EEF0F0" fill-opacity="0.8"/>
<circle cx="119.0" cy="35.8" r="0.81" fill="#EEF0F0" fill-opacity="0.8"/>
<circle cx="150.4" cy="28.0" r="0.98" fill="#EEF0F0" fill-opacity="0.8"/>
<circle cx="118.5" cy="42.2" r="0.87" fill="#EEF0F0" fill-opacity="0.8"/>
<circle cx="134.3" cy="44.2" r="0.86" fill="#EEF0F0" fill-opacity="0.8"/>
<circle cx="138.6" cy="30.3" r="1.05" fill="#EEF0F0" fill-opacity="0.8"/>
<circle cx="112.0" cy="48.0" r="1.28" fill="#EEF0F0" fill-opacity="0.8"/>
<circle cx="146.9" cy="24.9" r="1.14" fill="#EEF0F0" fill-opacity="0.8"/>
<circle cx="121.5" cy="33.8" r="0.94" fill="#EEF0F0" fill-opacity="0.8"/>
<circle cx="154.6" cy="31.5" r="1.18" fill="#EEF0F0" fill-opacity="0.8"/>
<circle cx="134.7" cy="36.1" r="0.89" fill="#EEF0F0" fill-opacity="0.8"/>
<circle cx="155.4" cy="24.8" r="0.85" fill="#EEF0F0" fill-opacity="0.8"/>
<circle cx="116.1" cy="34.0" r="0.95" fill="#EEF0F0" fill-opacity="0.8"/>
<circle cx="133.4" cy="33.8" r="1.00" fill="#EEF0F0" fill-opacity="0.8"/>
<circle cx="142.2" cy="39.1" r="1.14" fill="#EEF0F0" fill-opacity="0.8"/>
<circle cx="146.5" cy="10.4" r="1.02" fill="#EEF0F0" fill-opacity="0.8"/>
<circle cx="134.1" cy="25.6" r="1.16" fill="#EEF0F0" fill-opacity="0.8"/>
<circle cx="144.0" cy="39.4" r="0.85" fill="#EEF0F0" fill-opacity="0.8"/>
<circle cx="122.7" cy="36.6" r="1.27" fill="#EEF0F0" fill-opacity="0.8"/>
<circle cx="144.9" cy="28.8" r="0.97" fill="#EEF0F0" fill-opacity="0.8"/>
<circle cx="117.9" cy="48.0" r="1.22" fill="#EEF0F0" fill-opacity="0.8"/>
<circle cx="140.4" cy="10.8" r="0.82" fill="#EEF0F0" fill-opacity="0.8"/>
<circle cx="122.7" cy="51.4" r="1.21" fill="#EEF0F0" fill-opacity="0.8"/>
<circle cx="122.2" cy="25.3" r="0.91" fill="#EEF0F0" fill-opacity="0.8"/>
<circle cx="142.1" cy="40.6" r="1.23" fill="#EEF0F0" fill-opacity="0.8"/>
<circle cx="122.8" cy="49.0" r="1.20" fill="#EEF0F0" fill-opacity="0.8"/>
<circle cx="121.8" cy="37.6" r="1.14" fill="#EEF0F0" fill-opacity="0.8"/>
<circle cx="156.0" cy="19.6" r="0.94" fill="#EEF0F0" fill-opacity="0.8"/>
<circle cx="148.1" cy="12.6" r="0.80" fill="#EEF0F0" fill-opacity="0.8"/>
<circle cx="120.2" cy="43.5" r="0.89" fill="#EEF0F0" fill-opacity="0.8"/>
<circle cx="119.0" cy="30.5" r="1.25" fill="#EEF0F0" fill-opacity="0.8"/>
<circle cx="116.2" cy="42.6" r="0.88" fill="#EEF0F0" fill-opacity="0.8"/>
<circle cx="111.1" cy="45.5" r="1.13" fill="#EEF0F0" fill-opacity="0.8"/>
<circle cx="138.2" cy="44.1" r="1.09" fill="#EEF0F0" fill-opacity="0.8"/>
<circle cx="135.6" cy="35.3" r="1.13" fill="#EEF0F0" fill-opacity="0.8"/>
<circle cx="140.1" cy="43.2" r="0.89" fill="#EEF0F0" fill-opacity="0.8"/>
<circle cx="137.7" cy="20.8" r="0.87" fill="#EEF0F0" fill-opacity="0.8"/>
<circle cx="133.4" cy="13.4" r="0.85" fill="#EEF0F0" fill-opacity="0.8"/>
<circle cx="142.9" cy="17.1" r="1.29" fill="#EEF0F0" fill-opacity="0.8"/>
<circle cx="132.0" cy="12.9" r="0.99" fill="#EEF0F0" fill-opacity="0.8"/>
<circle cx="122.4" cy="94.6" r="0.85" fill="#A9A9A9" fill-opacity="0.7"/>
<circle cx="89.5" cy="117.8" r="0.98" fill="#A9A9A9" fill-opacity="0.7"/>
<circle cx="76.7" cy="63.7" r="0.77" fill="#A9A9A9" fill-opacity="0.7"/>
<circle cx="80.5" cy="65.9" r="0.75" fill="#A9A9A9" fill-opacity="0.7"/>
<circle cx="91.8" cy="63.5" r="0.79" fill="#A9A9A9" fill-opacity="0.7"/>
<circle cx="121.1" cy="79.7" r="0.80" fill="#A9A9A9" fill-opacity="0.7"/>
<circle cx="123.7" cy="135.1" r="0.97" fill="#A9A9A9" fill-opacity="0.7"/>
<circle cx="100.4" cy="116.2" r="0.91" fill="#A9A9A9" fill-opacity="0.7"/>
<circle cx="74.3" cy="74.9" r="0.83" fill="#A9A9A9" fill-opacity="0.7"/>
<circle cx="89.2" cy="79.3" r="0.75" fill="#A9A9A9" fill-opacity="0.7"/>
<circle cx="154.8" cy="92.3" r="0.71" fill="#A9A9A9" fill-opacity="0.7"/>
<circle cx="132.8" cy="93.6" r="0.74" fill="#A9A9A9" fill-opacity="0.7"/>
<circle cx="155.6" cy="87.8" r="0.95" fill="#A9A9A9" fill-opacity="0.7"/>
<circle cx="153.3" cy="78.1" r="0.89" fill="#A9A9A9" fill-opacity="0.7"/>
<circle cx="99.6" cy="56.3" r="0.75" fill="#A9A9A9" fill-opacity="0.7"/>
<circle cx="122.4" cy="86.2" r="0.89" fill="#A9A9A9" fill-opacity="0.7"/>
<circle cx="50.8" cy="79.5" r="0.72" fill="#A9A9A9" fill-opacity="0.7"/>
<circle cx="132.4" cy="89.6" r="0.85" fill="#A9A9A9" fill-opacity="0.7"/>
<circle cx="74.7" cy="83.8" r="0.80" fill="#A9A9A9" fill-opacity="0.7"/>
<circle cx="117.0" cy="107.0" r="0.73" fill="#A9A9A9" fill-opacity="0.7"/>
<circle cx="145.7" cy="63.9" r="0.92" fill="#A9A9A9" fill-opacity="0.7"/>
<circle cx="73.9" cy="98.9" r="0.92" fill="#A9A9A9" fill-opacity="0.7"/>
<circle cx="114.5" cy="150.8" r="0.85" fill="#A9A9A9" fill-opacity="0.7"/>
<circle cx="93.8" cy="111.2" r="0.75" fill="#A9A9A9" fill-opacity="0.7"/>
<circle cx="74.6" cy="80.5" r="0.90" fill="#A9A9A9" fill-opacity="0.7"/>
<circle cx="84.7" cy="69.9" r="0.83" fill="#A9A9A9" fill-opacity="0.7"/>
<circle cx="87.1" cy="109.6" r="0.90" fill="#A9A9A9" fill-opacity="0.7"/>
<circle cx="50.6" cy="64.8" r="0.73" fill="#A9A9A9" fill-opacity="0.7"/>
<circle cx="77.4" cy="77.0" r="0.97" fill="#A9A9A9" fill-opacity="0.7"/>
<circle cx="112.1" cy="116.2" r="0.70" fill="#A9A9A9" fill-opacity="0.7"/>
<circle cx="107.5" cy="96.4" r="0.77" fill="#A9A9A9" fill-opacity="0.7"/>
<circle cx="114.8" cy="76.8" r="0.82" fill="#A9A9A9" fill-opacity="0.7"/>
<circle cx="94.6" cy="143.0" r="0.76" fill="#A9A9A9" fill-opacity="0.7"/>
<circle cx="123.4" cy="138.8" r="0.73" fill="#A9A9A9" fill-opacity="0.7"/>
<circle cx="155.4" cy="70.0" r="0.91" fill="#A9A9A9" fill-opacity="0.7"/>
<circle cx="81.0" cy="51.9" r="1.00" fill="#A9A9A9" fill-opacity="0.7"/>
<circle cx="95.9" cy="88.5" r="0.80" fill="#A9A9A9" fill-opacity="0.7"/>
<circle cx="144.8" cy="130.7" r="0.78" fill="#A9A9A9" fill-opacity="0.7"/>
<circle cx="122.5" cy="85.9" r="0.90" fill="#A9A9A9" fill-opacity="0.7"/>
<circle cx="123.0" cy="97.1" r="0.77" fill="#A9A9A9" fill-opacity="0.7"/>
<circle cx="139.3" cy="144.6" r="0.82" fill="#A9A9A9" fill-opacity="0.7"/>
<circle cx="75.0" cy="63.7" r="0.91" fill="#A9A9A9" fill-opacity="0.7"/>
<circle cx="107.7" cy="111.0" r="0.83" fill="#A9A9A9" fill-opacity="0.7"/>
<circle cx="119.2" cy="79.7" r="0.75" fill="#A9A9A9" fill-opacity="0.7"/>
<circle cx="124.6" cy="129.5" r="0.72" fill="#A9A9A9" fill-opacity="0.7"/>
<circle cx="125.3" cy="115.8" r="0.86" fill="#A9A9A9" fill-opacity="0.7"/>
<circle cx="74.6" cy="73.5" r="1.00" fill="#A9A9A9" fill-opacity="0.7"/>
<circle cx="131.8" cy="62.7" r="0.98" fill="#A9A9A9" fill-opacity="0.7"/>
<circle cx="123.6" cy="124.6" r="0.73" fill="#A9A9A9" fill-opacity="0.7"/>
<circle cx="72.5" cy="48.4" r="0.85" fill="#A9A9A9" fill-opacity="0.7"/>
<circle cx="94.3" cy="72.0" r="0.85" fill="#A9A9A9" fill-opacity="0.7"/>
<circle cx="155.4" cy="95.7" r="0.76" fill="#A9A9A9" fill-opacity="0.7"/>
<circle cx="88.5" cy="115.1" r="0.90" fill="#A9A9A9" fill-opacity="0.7"/>
<circle cx="135.4" cy="135.0" r="0.85" fill="#A9A9A9" fill-opacity="0.7"/>
<circle cx="121.2" cy="104.5" r="0.94" fill="#A9A9A9" fill-opacity="0.7"/>
<circle cx="128.4" cy="154.9" r="0.79" fill="#A9A9A9" fill-opacity="0.7"/>
<circle cx="82.3" cy="46.9" r="0.98" fill="#A9A9A9" fill-opacity="0.7"/>
<circle cx="141.7" cy="99.4" r="0.94" fill="#A9A9A9" fill-opacity="0.7"/>
<circle cx="144.9" cy="141.0" r="0.84" fill="#A9A9A9" fill-opacity="0.7"/>
<circle cx="86.2" cy="87.4" r="0.74" fill="#A9A9A9" fill-opacity="0.7"/>
<circle cx="84.5" cy="71.4" r="0.85" fill="#A9A9A9" fill-opacity="0.7"/>
<circle cx="102.6" cy="47.3" r="0.74" fill="#A9A9A9" fill-opacity="0.7"/>
<circle cx="119.1" cy="113.9" r="0.91" fill="#A9A9A9" fill-opacity="0.7"/>
<circle cx="131.1" cy="59.9" r="0.91" fill="#A9A9A9" fill-opacity="0.7"/>
<circle cx="104.1" cy="36.6" r="0.87" fill="#A9A9A9" fill-opacity="0.7"/>
<circle cx="153.9" cy="93.2" r="0.99" fill="#A9A9A9" fill-opacity="0.7"/>
<circle cx="127.0" cy="66.6" r="0.71" fill="#A9A9A9" fill-opacity="0.7"/>
<circle cx="138.9" cy="129.9" r="0.91" fill="#A9A9A9" fill-opacity="0.7"/>
<circle cx="139.7" cy="128.3" r="0.94" fill="#A9A9A9" fill-opacity="0.7"/>
<circle cx="123.6" cy="93.9" r="0.73" fill="#A9A9A9" fill-opacity="0.7"/>
<circle cx="77.5" cy="72.4" r="0.80" fill="#A9A9A9" fill-opacity="0.7"/>
<circle cx="108.8" cy="118.1" r="0.72" fill="#A9A9A9" fill-opacity="0.7"/>
<circle cx="73.2" cy="52.2" r="0.87" fill="#A9A9A9" fill-opacity="0.7"/>
<circle cx="120.9" cy="113.1" r="0.92" fill="#A9A9A9" fill-opacity="0.7"/>
<circle cx="118.1" cy="145.1" r="0.80" fill="#A9A9A9" fill-opacity="0.7"/>
<circle cx="71.3" cy="55.3" r="0.91" fill="#A9A9A9" fill-opacity="0.7"/>
<circle cx="135.9" cy="133.7" r="0.81" fill="#A9A9A9" fill-opacity="0.7"/>
<circle cx="129.7" cy="153.7" r="0.91" fill="#A9A9A9" fill-opacity="0.7"/>
<circle cx="100.6" cy="38.1" r="0.78" fill="#A9A9A9" fill-opacity="0.7"/>
<circle cx="61.6" cy="85.0" r="0.99" fill="#A9A9A9" fill-opacity="0.7"/>
<circle cx="107.4" cy="63.2" r="0.83" fill="#A9A9A9" fill-opacity="0.7"/>
<circle cx="129.7" cy="88.4" r="0.70" fill="#A9A9A9" fill-opacity="0.7"/>
<circle cx="56.0" cy="66.8" r="0.73" fill="#A9A9A9" fill-opacity="0.7"/>
<circle cx="103.1" cy="46.4" r="0.92" fill="#A9A9A9" fill-opacity="0.7"/>
<circle cx="84.3" cy="80.5" r="0.96" fill="#A9A9A9" fill-opacity="0.7"/>
<circle cx="129.2" cy="125.1" r="0.89" fill="#A9A9A9" fill-opacity="0.7"/>
<circle cx="90.4" cy="75.9" r="0.75" fill="#A9A9A9" fill-opacity="0.7"/>
<circle cx="100.0" cy="104.8" r="0.96" fill="#A9A9A9" fill-opacity="0.7"/>
<circle cx="62.7" cy="78.8" r="0.92" fill="#A9A9A9" fill-opacity="0.7"/>
<circle cx="118.6" cy="53.6" r="0.73" fill="#A9A9A9" fill-opacity="0.7"/>
<circle cx="135.9" cy="74.5" r="0.81" fill="#A9A9A9" fill-opacity="0.7"/>
<circle cx="57.8" cy="67.9" r="0.90" fill="#A9A9A9" fill-opacity="0.7"/>
<circle cx="66.7" cy="88.8" r="0.70" fill="#A9A9A9" fill-opacity="0.7"/>
<circle cx="96.5" cy="59.4" r="0.71" fill="#A9A9A9" fill-opacity="0.7"/>
<circle cx="101.0" cy="116.8" r="0.81" fill="#A9A9A9" fill-opacity="0.7"/>
<circle cx="86.6" cy="45.7" r="0.96" fill="#A9A9A9" fill-opacity="0.7"/>
<circle cx="77.1" cy="79.3" r="1.00" fill="#A9A9A9" fill-opacity="0.7"/>
<circle cx="86.9" cy="36.5" r="0.80" fill="#A9A9A9" fill-opacity="0.7"/>
<circle cx="95.7" cy="132.9" r="0.97" fill="#A9A9A9" fill-opacity="0.7"/>
<circle cx="146.4" cy="95.4" r="0.94" fill="#A9A9A9" fill-opacity="0.7"/>
<circle cx="117.1" cy="144.7" r="0.96" fill="#A9A9A9" fill-opacity="0.7"/>
<circle cx="144.7" cy="132.5" r="0.88" fill="#A9A9A9" fill-opacity="0.7"/>
<circle cx="78.3" cy="63.6" r="0.99" fill="#A9A9A9" fill-opacity="0.7"/>
<circle cx="90.7" cy="61.6" r="0.89" fill="#A9A9A9" fill-opacity="0.7"/>
<circle cx="94.8" cy="104.6" r="0.98" fill="#A9A9A9" fill-opacity="0.7"/>
<circle cx="149.2" cy="122.8" r="0.87" fill="#A9A9A9" fill-opacity="0.7"/>
<circle cx="131.0" cy="122.7" r="0.76" fill="#A9A9A9" fill-opacity="0.7"/>
<circle cx="122.8" cy="65.9" r="0.86" fill="#A9A9A9" fill-opacity="0.7"/>
<circle cx="109.5" cy="59.1" r="0.84" fill="#A9A9A9" fill-opacity="0.7"/>
<circle cx="141.5" cy="60.5" r="0.80" fill="#A9A9A9" fill-opacity="0.7"/>
<circle cx="144.2" cy="136.9" r="0.81" fill="#A9A9A9" fill-opacity="0.7"/>
<circle cx="125.2" cy="107.2" r="0.85" fill="#A9A9A9" fill-opacity="0.7"/>
<circle cx="110.4" cy="77.3" r="0.88" fill="#A9A9A9" fill-opacity="0.7"/>
<circle cx="86.7" cy="127.0" r="0.77" fill="#A9A9A9" fill-opacity="0.7"/>
<circle cx="137.2" cy="140.2" r="0.78" fill="#A9A9A9" fill-opacity="0.7"/>
<circle cx="72.4" cy="59.7" r="0.85" fill="#A9A9A9" fill-opacity="0.7"/>
<circle cx="100.7" cy="69.1" r="0.85" fill="#A9A9A9" fill-opacity="0.7"/>
<circle cx="139.5" cy="153.0" r="0.83" fill="#A9A9A9" fill-opacity="0.7"/>
<circle cx="83.3" cy="104.1" r="0.90" fill="#A9A9A9" fill-opacity="0.7"/>
<circle cx="150.0" cy="79.5" r="0.76" fill="#A9A9A9" fill-opacity="0.7"/>
<circle cx="150.6" cy="119.5" r="0.86" fill="#A9A9A9" fill-opacity="0.7"/>
<circle cx="115.0" cy="134.0" r="0.78" fill="#A9A9A9" fill-opacity="0.7"/>
<circle cx="107.1" cy="81.6" r="0.93" fill="#A9A9A9" fill-opacity="0.7"/>
<circle cx="95.5" cy="141.8" r="0.91" fill="#A9A9A9" fill-opacity="0.7"/>
<circle cx="89.3" cy="63.2" r="0.93" fill="#A9A9A9" fill-opacity="0.7"/>
<circle cx="97.3" cy="117.1" r="0.86" fill="#A9A9A9" fill-opacity="0.7"/>
<circle cx="107.7" cy="132.7" r="0.77" fill="#A9A9A9" fill-opacity="0.7"/>
<circle cx="137.9" cy="62.2" r="0.98" fill="#A9A9A9" fill-opacity="0.7"/>
<circle cx="97.4" cy="65.8" r="0.85" fill="#A9A9A9" fill-opacity="0.7"/>
<circle cx="128.9" cy="149.3" r="0.81" fill="#A9A9A9" fill-opacity="0.7"/>
<circle cx="71.0" cy="53.9" r="0.79" fill="#A9A9A9" fill-opacity="0.7"/>
<circle cx="69.3" cy="91.1" r="0.82" fill="#A9A9A9" fill-opacity="0.7"/>
<circle cx="105.0" cy="109.6" r="0.91" fill="#A9A9A9" fill-opacity="0.7"/>
<circle cx="151.8" cy="91.8" r="0.95" fill="#A9A9A9" fill-opacity="0.7"/>
<circle cx="134.6" cy="140.0" r="0.84" fill="#A9A9A9" fill-opacity="0.7"/>
<circle cx="105.3" cy="144.6" r="0.92" fill="#A9A9A9" fill-opacity="0.7"/>
<circle cx="106.2" cy="149.8" r="0.76" fill="#A9A9A9" fill-opacity="0.7"/>
<circle cx="119.9" cy="130.1" r="0.84" fill="#A9A9A9" fill-opacity="0.7"/>
<circle cx="96.3" cy="99.5" r="0.81" fill="#A9A9A9" fill-opacity="0.7"/>
<circle cx="77.5" cy="50.0" r="0.79" fill="#A9A9A9" fill-opacity="0.7"/>
<circle cx="95.9" cy="86.0" r="0.81" fill="#A9A9A9" fill-opacity="0.7"/>
<circle cx="129.7" cy="121.8" r="0.93" fill="#A9A9A9" fill-opacity="0.7"/>
<circle cx="75.0" cy="46.9" r="0.92" fill="#A9A9A9" fill-opacity="0.7"/>
<circle cx="106.9" cy="34.7" r="0.76" fill="#A9A9A9" fill-opacity="0.7"/>
<circle cx="116.7" cy="145.4" r="0.77" fill="#A9A9A9" fill-opacity="0.7"/>
<circle cx="71.0" cy="97.0" r="0.94" fill="#A9A9A9" fill-opacity="0.7"/>
<circle cx="130.2" cy="121.9" r="0.90" fill="#A9A9A9" fill-opacity="0.7"/>
<circle cx="129.2" cy="116.0" r="0.90" fill="#A9A9A9" fill-opacity="0.7"/>
<circle cx="155.6" cy="75.3" r="0.89" fill="#A9A9A9" fill-opacity="0.7"/>
<circle cx="138.8" cy="111.0" r="0.91" fill="#A9A9A9" fill-opacity="0.7"/>
<circle cx="64.2" cy="77.9" r="0.78" fill="#A9A9A9" fill-opacity="0.7"/>
<circle cx="86.3" cy="124.5" r="0.72" fill="#A9A9A9" fill-opacity="0.7"/>
<circle cx="66.4" cy="70.3" r="0.81" fill="#A9A9A9" fill-opacity="0.7"/>
<circle cx="118.5" cy="54.1" r="0.71" fill="#A9A9A9" fill-opacity="0.7"/>
<circle cx="84.0" cy="84.7" r="0.99" fill="#A9A9A9" fill-opacity="0.7"/>
<circle cx="68.9" cy="80.9" r="0.86" fill="#A9A9A9" fill-opacity="0.7"/>
<circle cx="101.7" cy="38.1" r="0.90" fill="#A9A9A9" fill-opacity="0.7"/>
<circle cx="128.0" cy="155.0" r="0.99" fill="#A9A9A9" fill-opacity="0.7"/>
<circle cx="94.0" cy="61.8" r="0.94" fill="#A9A9A9" fill-opacity="0.7"/>
<circle cx="96.5" cy="61.5" r="0.77" fill="#A9A9A9" fill-opacity="0.7"/>
<circle cx="126.7" cy="67.6" r="0.80" fill="#A9A9A9" fill-opacity="0.7"/>
<circle cx="144.8" cy="118.7" r="0.73" fill="#A9A9A9" fill-opacity="0.7"/>
<circle cx="88.4" cy="103.8" r="0.94" fill="#A9A9A9" fill-opacity="0.7"/>
<circle cx="152.9" cy="69.1" r="0.92" fill="#A9A9A9" fill-opacity="0.7"/>
<circle cx="97.3" cy="53.3" r="0.85" fill="#A9A9A9" fill-opacity="0.7"/>
<circle cx="111.2" cy="108.7" r="0.81" fill="#A9A9A9" fill-opacity="0.7"/>
<circle cx="131.8" cy="152.3" r="0.78" fill="#A9A9A9" fill-opacity="0.7"/>
<circle cx="64.6" cy="63.6" r="0.85" fill="#A9A9A9" fill-opacity="0.7"/>
<circle cx="145.1" cy="128.2" r="0.91" fill="#A9A9A9" fill-opacity="0.7"/>
<circle cx="115.3" cy="110.9" r="0.97" fill="#A9A9A9" fill-opacity="0.7"/>
<circle cx="110.6" cy="69.2" r="0.95" fill="#A9A9A9" fill-opacity="0.7"/>
<circle cx="150.3" cy="129.7" r="0.96" fill="#A9A9A9" fill-opacity="0.7"/>
<circle cx="102.7" cy="83.3" r="0.83" fill="#A9A9A9" fill-opacity="0.7"/>
<circle cx="87.9" cy="88.9" r="0.83" fill="#A9A9A9" fill-opacity="0.7"/>
<circle cx="154.0" cy="105.2" r="0.79" fill="#A9A9A9" fill-opacity="0.7"/>
<circle cx="102.4" cy="58.6" r="0.99" fill="#A9A9A9" fill-opacity="0.7"/>
<circle cx="92.1" cy="100.6" r="0.76" fill="#A9A9A9" fill-opacity="0.7"/>
<circle cx="90.2" cy="66.9" r="0.75" fill="#A9A9A9" fill-opacity="0.7"/>
<circle cx="109.4" cy="49.9" r="0.78" fill="#A9A9A9" fill-opacity="0.7"/>
<circle cx="85.9" cy="132.9" r="0.98" fill="#A9A9A9" fill-opacity="0.7"/>
<circle cx="131.6" cy="117.5" r="0.96" fill="#A9A9A9" fill-opacity="0.7"/>
<circle cx="110.8" cy="148.1" r="0.80" fill="#A9A9A9" fill-opacity="0.7"/>
<circle cx="97.5" cy="37.3" r="0.96" fill="#A9A9A9" fill-opacity="0.7"/>
<circle cx="133.3" cy="138.5" r="0.97" fill="#A9A9A9" fill-opacity="0.7"/>
<circle cx="147.5" cy="122.5" r="0.83" fill="#A9A9A9" fill-opacity="0.7"/>
<circle cx="128.7" cy="103.8" r="0.76" fill="#A9A9A9" fill-opacity="0.7"/>
<circle cx="68.6" cy="100.6" r="0.93" fill="#A9A9A9" fill-opacity="0.7"/>
<circle cx="124.7" cy="155.4" r="0.81" fill="#A9A9A9" fill-opacity="0.7"/>
<circle cx="97.5" cy="67.4" r="0.74" fill="#A9A9A9" fill-opacity="0.7"/>
<circle cx="76.9" cy="43.4" r="0.97" fill="#A9A9A9" fill-opacity="0.7"/>
<circle cx="88.0" cy="120.1" r="0.83" fill="#A9A9A9" fill-opacity="0.7"/>
<circle cx="54.7" cy="88.6" r="0.82" fill="#A9A9A9" fill-opacity="0.7"/>
<circle cx="98.1" cy="128.2" r="0.88" fill="#A9A9A9" fill-opacity="0.7"/>
<circle cx="113.6" cy="76.6" r="0.78" fill="#A9A9A9" fill-opacity="0.7"/>
<circle cx="148.5" cy="99.4" r="0.71" fill="#A9A9A9" fill-opacity="0.7"/>
<circle cx="86.4" cy="68.2" r="0.82" fill="#A9A9A9" fill-opacity="0.7"/>
<circle cx="152.3" cy="93.2" r="0.81" fill="#A9A9A9" fill-opacity="0.7"/>
<circle cx="91.7" cy="113.0" r="0.70" fill="#A9A9A9" fill-opacity="0.7"/>
<circle cx="137.6" cy="86.3" r="0.81" fill="#A9A9A9" fill-opacity="0.7"/>
<circle cx="95.2" cy="109.7" r="0.93" fill="#A9A9A9" fill-opacity="0.7"/>
<circle cx="113.0" cy="118.7" r="0.80" fill="#A9A9A9" fill-opacity="0.7"/>
<circle cx="118.1" cy="56.1" r="0.90" fill="#A9A9A9" fill-opacity="0.7"/>
<circle cx="90.9" cy="48.9" r="0.89" fill="#A9A9A9" fill-opacity="0.7"/>
<circle cx="151.0" cy="128.4" r="0.76" fill="#A9A9A9" fill-opacity="0.7"/>
<circle cx="137.8" cy="132.8" r="0.71" fill="#A9A9A9" fill-opacity="0.7"/>
<circle cx="77.9" cy="100.9" r="0.90" fill="#A9A9A9" fill-opacity="0.7"/>
<circle cx="103.7" cy="49.8" r="0.88" fill="#A9A9A9" fill-opacity="0.7"/>
<circle cx="113.4" cy="145.9" r="0.79" fill="#A9A9A9" fill-opacity="0.7"/>
<circle cx="114.9" cy="72.9" r="0.76" fill="#A9A9A9" fill-opacity="0.7"/>
<circle cx="147.3" cy="75.2" r="0.96" fill="#A9A9A9" fill-opacity="0.7"/>
<circle cx="130.8" cy="47.0" r="0.97" fill="#A9A9A9" fill-opacity="0.7"/>
<circle cx="131.3" cy="106.6" r="0.77" fill="#A9A9A9" fill-opacity="0.7"/>
<circle cx="59.1" cy="83.1" r="0.88" fill="#A9A9A9" fill-opacity="0.7"/>
<circle cx="96.7" cy="94.9" r="0.87" fill="#A9A9A9" fill-opacity="0.7"/>
<circle cx="140.2" cy="123.3" r="0.80" fill="#A9A9A9" fill-opacity="0.7"/>
<circle cx="100.0" cy="139.3" r="0.71" fill="#A9A9A9" fill-opacity="0.7"/>
<circle cx="160.7" cy="90.2" r="0.80" fill="#A9A9A9" fill-opacity="0.7"/>
<circle cx="120.6" cy="65.2" r="0.89" fill="#A9A9A9" fill-opacity="0.7"/>
<circle cx="51.8" cy="80.6" r="0.88" fill="#A9A9A9" fill-opacity="0.7"/>
<circle cx="101.0" cy="79.3" r="0.85" fill="#A9A9A9" fill-opacity="0.7"/>
<circle cx="129.9" cy="118.8" r="0.74" fill="#A9A9A9" fill-opacity="0.7"/>
<circle cx="69.2" cy="84.0" r="0.76" fill="#A9A9A9" fill-opacity="0.7"/>
<circle cx="154.0" cy="80.0" r="0.79" fill="#A9A9A9" fill-opacity="0.7"/>
<circle cx="151.3" cy="101.2" r="0.82" fill="#A9A9A9" fill-opacity="0.7"/>
<circle cx="119.9" cy="89.0" r="0.81" fill="#A9A9A9" fill-opacity="0.7"/>
<circle cx="145.5" cy="75.4" r="0.97" fill="#A9A9A9" fill-opacity="0.7"/>
<circle cx="139.8" cy="111.7" r="0.73" fill="#A9A9A9" fill-opacity="0.7"/>
<circle cx="100.8" cy="133.1" r="1.00" fill="#A9A9A9" fill-opacity="0.7"/>
<circle cx="111.2" cy="69.6" r="0.77" fill="#A9A9A9" fill-opacity="0.7"/>
<circle cx="101.6" cy="83.0" r="0.96" fill="#A9A9A9" fill-opacity="0.7"/>
<circle cx="78.5" cy="63.9" r="0.77" fill="#A9A9A9" fill-opacity="0.7"/>
<circle cx="111.2" cy="123.8" r="0.88" fill="#A9A9A9" fill-opacity="0.7"/>
<circle cx="64.0" cy="96.5" r="0.81" fill="#A9A9A9" fill-opacity="0.7"/>
<circle cx="110.4" cy="55.7" r="0.71" fill="#A9A9A9" fill-opacity="0.7"/>
<circle cx="62.1" cy="51.2" r="0.94" fill="#A9A9A9" fill-opacity="0.7"/>
<circle cx="119.8" cy="93.6" r="0.94" fill="#A9A9A9" fill-opacity="0.7"/>
<circle cx="156.1" cy="112.2" r="0.78" fill="#A9A9A9" fill-opacity="0.7"/>
<circle cx="120.3" cy="90.6" r="0.93" fill="#A9A9A9" fill-opacity="0.7"/>
<circle cx="146.3" cy="109.8" r="0.84" fill="#A9A9A9" fill-opacity="0.7"/>
<circle cx="89.1" cy="99.9" r="1.00" fill="#A9A9A9" fill-opacity="0.7"/>
<circle cx="143.4" cy="109.7" r="0.72" fill="#A9A9A9" fill-opacity="0.7"/>
<circle cx="126.0" cy="148.9" r="0.81" fill="#A9A9A9" fill-opacity="0.7"/>
<circle cx="53.6" cy="72.8" r="0.77" fill="#A9A9A9" fill-opacity="0.7"/>
<circle cx="95.4" cy="145.2" r="0.89" fill="#A9A9A9" fill-opacity="0.7"/>
<circle cx="115.2" cy="133.3" r="0.93" fill="#A9A9A9" fill-opacity="0.7"/>
<circle cx="106.8" cy="57.2" r="0.95" fill="#A9A9A9" fill-opacity="0.7"/>
<circle cx="89.5" cy="108.6" r="0.86" fill="#A9A9A9" fill-opacity="0.7"/>
<circle cx="130.8" cy="91.8" r="0.82" fill="#A9A9A9" fill-opacity="0.7"/>
<circle cx="115.1" cy="129.7" r="0.94" fill="#A9A9A9" fill-opacity="0.7"/>
<circle cx="66.2" cy="84.4" r="0.73" fill="#A9A9A9" fill-opacity="0.7"/>
<circle cx="113.5" cy="93.2" r="0.78" fill="#A9A9A9" fill-opacity="0.7"/>
<circle cx="95.0" cy="90.6" r="0.93" fill="#A9A9A9" fill-opacity="0.7"/>
<circle cx="96.2" cy="44.0" r="0.83" fill="#A9A9A9" fill-opacity="0.7"/>
<circle cx="58.6" cy="80.6" r="1.00" fill="#A9A9A9" fill-opacity="0.7"/>
<circle cx="92.2" cy="59.0" r="0.73" fill="#A9A9A9" fill-opacity="0.7"/>
<circle cx="124.4" cy="134.9" r="0.84" fill="#A9A9A9" fill-opacity="0.7"/>
<circle cx="99.6" cy="84.5" r="0.76" fill="#A9A9A9" fill-opacity="0.7"/>
<circle cx="153.3" cy="99.8" r="0.70" fill="#A9A9A9" fill-opacity="0.7"/>
<circle cx="57.4" cy="58.4" r="0.73" fill="#A9A9A9" fill-opacity="0.7"/>
<circle cx="96.3" cy="54.9" r="0.73" fill="#A9A9A9" fill-opacity="0.7"/>
<circle cx="90.1" cy="73.8" r="1.13" fill="#B3CADA" fill-opacity="0.8"/>
<circle cx="105.9" cy="52.0" r="1.03" fill="#B3CADA" fill-opacity="0.8"/>
<circle cx="128.0" cy="86.4" r="1.03" fill="#B3CADA" fill-opacity="0.8"/>
<circle cx="106.2" cy="83.0" r="0.81" fill="#B3CADA" fill-opacity="0.8"/>
<circle cx="90.4" cy="138.9" r="0.95" fill="#B3CADA" fill-opacity="0.8"/>
<circle cx="88.8" cy="59.0" r="0.90" fill="#B3CADA" fill-opacity="0.8"/>
<circle cx="118.1" cy="93.6" r="1.05" fill="#B3CADA" fill-opacity="0.8"/>
<circle cx="108.6" cy="57.8" r="0.83" fill="#B3CADA" fill-opacity="0.8"/>
<circle cx="85.4" cy="136.4" r="1.02" fill="#B3CADA" fill-opacity="0.8"/>
<circle cx="86.6" cy="71.4" r="0.95" fill="#B3CADA" fill-opacity="0.8"/>
<circle cx="123.5" cy="109.0" r="1.00" fill="#B3CADA" fill-opacity="0.8"/>
<circle cx="98.9" cy="69.7" r="0.96" fill="#B3CADA" fill-opacity="0.8"/>
<circle cx="100.1" cy="134.5" r="0.84" fill="#B3CADA" fill-opacity="0.8"/>
<circle cx="90.7" cy="119.5" r="1.09" fill="#B3CADA" fill-opacity="0.8"/>
<circle cx="125.0" cy="83.5" r="1.12" fill="#B3CADA" fill-opacity="0.8"/>
<circle cx="101.8" cy="38.0" r="1.04" fill="#B3CADA" fill-opacity="0.8"/>
<circle cx="127.1" cy="47.3" r="0.85" fill="#B3CADA" fill-opacity="0.8"/>
<circle cx="106.1" cy="55.7" r="1.04" fill="#B3CADA" fill-opacity="0.8"/>
<circle cx="103.1" cy="101.7" r="1.15" fill="#B3CADA" fill-opacity="0.8"/>
<circle cx="63.4" cy="54.9" r="1.19" fill="#B3CADA" fill-opacity="0.8"/>
<circle cx="125.4" cy="91.0" r="1.10" fill="#B3CADA" fill-opacity="0.8"/>
<circle cx="118.3" cy="126.5" r="0.82" fill="#B3CADA" fill-opacity="0.8"/>
<circle cx="98.4" cy="134.2" r="1.15" fill="#B3CADA" fill-opacity="0.8"/>
<circle cx="112.6" cy="122.5" r="1.07" fill="#B3CADA" fill-opacity="0.8"/>
<circle cx="89.5" cy="76.2" r="0.91" fill="#B3CADA" fill-opacity="0.8"/>
<circle cx="142.4" cy="87.1" r="1.17" fill="#B3CADA" fill-opacity="0.8"/>
<circle cx="98.2" cy="134.2" r="1.13" fill="#B3CADA" fill-opacity="0.8"/>
<circle cx="126.5" cy="89.0" r="1.16" fill="#B3CADA" fill-opacity="0.8"/>
<circle cx="66.2" cy="52.5" r="0.90" fill="#B3CADA" fill-opacity="0.8"/>
<circle cx="110.9" cy="101.1" r="1.03" fill="#B3CADA" fill-opacity="0.8"/>
<circle cx="127.7" cy="78.5" r="0.95" fill="#B3CADA" fill-opacity="0.8"/>
<circle cx="137.6" cy="77.3" r="0.92" fill="#B3CADA" fill-opacity="0.8"/>
<circle cx="127.2" cy="68.2" r="1.10" fill="#B3CADA" fill-opacity="0.8"/>
<circle cx="73.5" cy="41.0" r="1.05" fill="#B3CADA" fill-opacity="0.8"/>
<circle cx="106.1" cy="84.2" r="0.93" fill="#B3CADA" fill-opacity="0.8"/>
<circle cx="132.9" cy="141.1" r="1.02" fill="#B3CADA" fill-opacity="0.8"/>
<circle cx="88.7" cy="39.9" r="1.17" fill="#B3CADA" fill-opacity="0.8"/>
<circle cx="87.6" cy="119.3" r="1.03" fill="#B3CADA" fill-opacity="0.8"/>
<circle cx="123.0" cy="69.7" r="1.17" fill="#B3CADA" fill-opacity="0.8"/>
<circle cx="152.7" cy="79.7" r="1.03" fill="#B3CADA" fill-opacity="0.8"/>
<circle cx="105.8" cy="127.6" r="1.20" fill="#B3CADA" fill-opacity="0.8"/>
<circle cx="88.3" cy="131.5" r="0.81" fill="#B3CADA" fill-opacity="0.8"/>
<circle cx="58.8" cy="49.9" r="0.98" fill="#B3CADA" fill-opacity="0.8"/>
<circle cx="120.5" cy="81.3" r="1.02" fill="#B3CADA" fill-opacity="0.8"/>
<circle cx="91.0" cy="96.0" r="1.09" fill="#B3CADA" fill-opacity="0.8"/>
<circle cx="72.8" cy="74.5" r="1.19" fill="#B3CADA" fill-opacity="0.8"/>
<circle cx="110.9" cy="99.4" r="1.05" fill="#B3CADA" fill-opacity="0.8"/>
<circle cx="146.4" cy="127.5" r="0.99" fill="#B3CADA" fill-opacity="0.8"/>
<circle cx="125.3" cy="131.9" r="1.05" fill="#B3CADA" fill-opacity="0.8"/>
<circle cx="97.8" cy="110.3" r="1.01" fill="#B3CADA" fill-opacity="0.8"/>
<circle cx="59.5" cy="70.6" r="1.08" fill="#B3CADA" fill-opacity="0.8"/>
<circle cx="68.9" cy="95.8" r="1.18" fill="#B3CADA" fill-opacity="0.8"/>
<circle cx="69.7" cy="80.2" r="0.81" fill="#B3CADA" fill-opacity="0.8"/>
<circle cx="109.3" cy="74.8" r="0.93" fill="#B3CADA" fill-opacity="0.8"/>
<circle cx="105.4" cy="135.2" r="1.15" fill="#B3CADA" fill-opacity="0.8"/>
<circle cx="135.5" cy="94.6" r="0.82" fill="#B3CADA" fill-opacity="0.8"/>
<circle cx="109.3" cy="41.1" r="1.12" fill="#B3CADA" fill-opacity="0.8"/>
<circle cx="113.3" cy="106.5" r="0.81" fill="#B3CADA" fill-opacity="0.8"/>
<circle cx="90.4" cy="81.0" r="1.06" fill="#B3CADA" fill-opacity="0.8"/>
<circle cx="110.8" cy="119.4" r="1.12" fill="#B3CADA" fill-opacity="0.8"/>
<circle cx="103.8" cy="46.1" r="0.90" fill="#B3CADA" fill-opacity="0.8"/>
<circle cx="82.2" cy="78.1" r="0.95" fill="#B3CADA" fill-opacity="0.8"/>
<circle cx="90.4" cy="127.9" r="0.89" fill="#B3CADA" fill-opacity="0.8"/>
<circle cx="127.5" cy="126.6" r="1.08" fill="#B3CADA" fill-opacity="0.8"/>
<circle cx="92.7" cy="55.5" r="1.01" fill="#B3CADA" fill-opacity="0.8"/>
<circle cx="106.4" cy="75.0" r="1.04" fill="#B3CADA" fill-opacity="0.8"/>
<circle cx="97.8" cy="124.8" r="0.93" fill="#B3CADA" fill-opacity="0.8"/>
<circle cx="142.7" cy="80.4" r="1.03" fill="#B3CADA" fill-opacity="0.8"/>
<circle cx="68.3" cy="69.8" r="1.18" fill="#B3CADA" fill-opacity="0.8"/>
<circle cx="149.6" cy="70.0" r="1.11" fill="#B3CADA" fill-opacity="0.8"/>
<circle cx="123.3" cy="93.1" r="1.18" fill="#B3CADA" fill-opacity="0.8"/>
<circle cx="100.6" cy="95.4" r="0.90" fill="#B3CADA" fill-opacity="0.8"/>
<circle cx="75.9" cy="92.7" r="1.01" fill="#B3CADA" fill-opacity="0.8"/>
<circle cx="90.1" cy="141.9" r="0.95" fill="#B3CADA" fill-opacity="0.8"/>
<circle cx="119.5" cy="104.1" r="0.94" fill="#B3CADA" fill-opacity="0.8"/>
<circle cx="144.1" cy="79.4" r="1.12" fill="#B3CADA" fill-opacity="0.8"/>
<circle cx="62.9" cy="53.6" r="0.87" fill="#B3CADA" fill-opacity="0.8"/>
<circle cx="129.2" cy="118.7" r="1.02" fill="#B3CADA" fill-opacity="0.8"/>
<circle cx="71.3" cy="105.7" r="1.11" fill="#B3CADA" fill-opacity="0.8"/>
<circle cx="122.9" cy="108.0" r="1.17" fill="#B3CADA" fill-opacity="0.8"/>
<circle cx="50.5" cy="75.1" r="0.81" fill="#B3CADA" fill-opacity="0.8"/>
<circle cx="85.0" cy="98.8" r="0.91" fill="#B3CADA" fill-opacity="0.8"/>
<circle cx="110.2" cy="130.8" r="1.00" fill="#B3CADA" fill-opacity="0.8"/>
<circle cx="93.0" cy="84.2" r="1.17" fill="#B3CADA" fill-opacity="0.8"/>
<circle cx="107.6" cy="53.6" r="0.87" fill="#B3CADA" fill-opacity="0.8"/>
<circle cx="97.6" cy="42.7" r="1.14" fill="#B3CADA" fill-opacity="0.8"/>
<circle cx="121.7" cy="134.6" r="0.96" fill="#B3CADA" fill-opacity="0.8"/>
<circle cx="92.8" cy="122.8" r="1.02" fill="#B3CADA" fill-opacity="0.8"/>
<circle cx="52.8" cy="76.2" r="1.17" fill="#B3CADA" fill-opacity="0.8"/>
<circle cx="98.2" cy="123.9" r="0.83" fill="#B3CADA" fill-opacity="0.8"/>
<circle cx="107.2" cy="72.7" r="0.93" fill="#B3CADA" fill-opacity="0.8"/>
<circle cx="75.1" cy="93.2" r="0.86" fill="#B3CADA" fill-opacity="0.8"/>
<circle cx="98.7" cy="147.2" r="0.85" fill="#B3CADA" fill-opacity="0.8"/>
<circle cx="82.5" cy="97.1" r="0.92" fill="#B3CADA" fill-opacity="0.8"/>
<circle cx="62.4" cy="80.0" r="1.08" fill="#B3CADA" fill-opacity="0.8"/>
<circle cx="141.6" cy="71.4" r="1.03" fill="#B3CADA" fill-opacity="0.8"/>
<circle cx="76.7" cy="44.6" r="0.85" fill="#B3CADA" fill-opacity="0.8"/>
<circle cx="155.7" cy="70.1" r="1.12" fill="#B3CADA" fill-opacity="0.8"/>
<circle cx="116.1" cy="139.2" r="1.00" fill="#B3CADA" fill-opacity="0.8"/>
<circle cx="127.1" cy="97.3" r="0.86" fill="#B3CADA" fill-opacity="0.8"/>
<circle cx="104.6" cy="36.4" r="1.13" fill="#B3CADA" fill-opacity="0.8"/>
<circle cx="97.8" cy="50.8" r="1.13" fill="#B3CADA" fill-opacity="0.8"/>
<circle cx="114.8" cy="53.5" r="0.89" fill="#B3CADA" fill-opacity="0.8"/>
<circle cx="79.3" cy="105.7" r="1.18" fill="#B3CADA" fill-opacity="0.8"/>
<circle cx="104.5" cy="42.8" r="1.12" fill="#B3CADA" fill-opacity="0.8"/>
<circle cx="61.1" cy="85.3" r="0.89" fill="#B3CADA" fill-opacity="0.8"/>
<circle cx="105.4" cy="117.4" r="0.80" fill="#B3CADA" fill-opacity="0.8"/>
<circle cx="90.6" cy="70.7" r="1.15" fill="#B3CADA" fill-opacity="0.8"/>
<circle cx="140.3" cy="92.8" r="1.13" fill="#B3CADA" fill-opacity="0.8"/>
<circle cx="68.0" cy="47.4" r="0.84" fill="#B3CADA" fill-opacity="0.8"/>
<circle cx="100.7" cy="116.5" r="1.11" fill="#B3CADA" fill-opacity="0.8"/>
<circle cx="59.9" cy="80.3" r="1.11" fill="#B3CADA" fill-opacity="0.8"/>
<circle cx="122.0" cy="112.5" r="1.05" fill="#B3CADA" fill-opacity="0.8"/>
<circle cx="96.4" cy="64.9" r="1.13" fill="#B3CADA" fill-opacity="0.8"/>
<circle cx="127.4" cy="120.5" r="1.19" fill="#B3CADA" fill-opacity="0.8"/>
<circle cx="122.1" cy="69.2" r="0.93" fill="#B3CADA" fill-opacity="0.8"/>
<circle cx="112.9" cy="86.3" r="1.13" fill="#B3CADA" fill-opacity="0.8"/>
<circle cx="132.7" cy="116.7" r="1.17" fill="#B3CADA" fill-opacity="0.8"/>
<circle cx="137.8" cy="80.2" r="0.93" fill="#B3CADA" fill-opacity="0.8"/>
<circle cx="83.6" cy="64.0" r="1.07" fill="#B3CADA" fill-opacity="0.8"/>
<circle cx="139.1" cy="136.1" r="1.07" fill="#B3CADA" fill-opacity="0.8"/>
<circle cx="144.3" cy="109.8" r="1.14" fill="#B3CADA" fill-opacity="0.8"/>
<circle cx="85.5" cy="137.0" r="1.03" fill="#B3CADA" fill-opacity="0.8"/>
<circle cx="82.5" cy="48.7" r="0.91" fill="#B3CADA" fill-opacity="0.8"/>
<circle cx="97.7" cy="65.7" r="0.90" fill="#B3CADA" fill-opacity="0.8"/>
<circle cx="114.3" cy="84.6" r="1.02" fill="#B3CADA" fill-opacity="0.8"/>
<circle cx="76.1" cy="51.6" r="0.85" fill="#B3CADA" fill-opacity="0.8"/>
<circle cx="140.3" cy="113.7" r="1.14" fill="#B3CADA" fill-opacity="0.8"/>
<circle cx="110.7" cy="131.6" r="1.16" fill="#B3CADA" fill-opacity="0.8"/>
<circle cx="65.6" cy="90.0" r="0.90" fill="#B3CADA" fill-opacity="0.8"/>
<circle cx="78.3" cy="68.7" r="1.08" fill="#B3CADA" fill-opacity="0.8"/>
<circle cx="113.3" cy="126.4" r="1.07" fill="#B3CADA" fill-opacity="0.8"/>
<circle cx="119.6" cy="99.1" r="0.85" fill="#B3CADA" fill-opacity="0.8"/>
<circle cx="112.6" cy="57.6" r="1.11" fill="#B3CADA" fill-opacity="0.8"/>
<circle cx="59.6" cy="58.7" r="1.11" fill="#B3CADA" fill-opacity="0.8"/>
<circle cx="128.5" cy="149.6" r="0.92" fill="#B3CADA" fill-opacity="0.8"/>
<circle cx="121.6" cy="108.7" r="0.84" fill="#B3CADA" fill-opacity="0.8"/>
<circle cx="98.8" cy="78.2" r="0.91" fill="#B3CADA" fill-opacity="0.8"/>
<circle cx="125.9" cy="143.7" r="1.11" fill="#B3CADA" fill-opacity="0.8"/>
<circle cx="104.2" cy="58.8" r="0.99" fill="#B3CADA" fill-opacity="0.8"/>
<circle cx="98.8" cy="128.6" r="1.13" fill="#B3CADA" fill-opacity="0.8"/>
<circle cx="56.7" cy="76.8" r="0.86" fill="#B3CADA" fill-opacity="0.8"/>
<circle cx="95.2" cy="137.2" r="0.84" fill="#B3CADA" fill-opacity="0.8"/>
<circle cx="136.9" cy="97.1" r="0.94" fill="#B3CADA" fill-opacity="0.8"/>
<circle cx="75.1" cy="54.3" r="1.15" fill="#B3CADA" fill-opacity="0.8"/>
<circle cx="104.0" cy="68.1" r="0.86" fill="#B3CADA" fill-opacity="0.8"/>
<circle cx="121.6" cy="84.8" r="0.83" fill="#B3CADA" fill-opacity="0.8"/>
<circle cx="84.8" cy="100.2" r="1.10" fill="#B3CADA" fill-opacity="0.8"/>
<circle cx="96.2" cy="135.2" r="0.84" fill="#B3CADA" fill-opacity="0.8"/>
<circle cx="127.5" cy="154.8" r="1.07" fill="#B3CADA" fill-opacity="0.8"/>
<circle cx="123.6" cy="140.8" r="0.70" fill="#22384F"/>
<circle cx="94.6" cy="76.3" r="0.72" fill="#22384F"/>
<circle cx="129.4" cy="127.2" r="0.71" fill="#22384F"/>
<circle cx="108.6" cy="114.3" r="0.81" fill="#22384F"/>
<circle cx="62.5" cy="66.5" r="0.71" fill="#22384F"/>
<circle cx="81.4" cy="50.9" r="0.83" fill="#22384F"/>
<circle cx="85.1" cy="50.9" r="0.86" fill="#22384F"/>
<circle cx="146.5" cy="105.1" r="0.75" fill="#22384F"/>
<circle cx="102.8" cy="65.7" r="0.91" fill="#22384F"/>
<circle cx="99.3" cy="94.2" r="0.80" fill="#22384F"/>
<circle cx="105.2" cy="124.8" r="0.94" fill="#22384F"/>
<circle cx="65.8" cy="73.7" r="0.79" fill="#22384F"/>
<circle cx="91.6" cy="135.6" r="0.85" fill="#22384F"/>
<circle cx="149.7" cy="65.2" r="0.84" fill="#22384F"/>
<circle cx="132.4" cy="148.3" r="0.77" fill="#22384F"/>
<circle cx="123.2" cy="54.8" r="0.89" fill="#22384F"/>
<circle cx="106.7" cy="51.7" r="0.70" fill="#22384F"/>
<circle cx="98.8" cy="79.2" r="0.76" fill="#22384F"/>
<circle cx="153.6" cy="80.7" r="0.78" fill="#22384F"/>
<circle cx="153.0" cy="105.3" r="0.92" fill="#22384F"/>
<circle cx="147.5" cy="70.8" r="0.83" fill="#22384F"/>
<circle cx="144.7" cy="132.6" r="0.71" fill="#22384F"/>
<circle cx="90.7" cy="134.0" r="0.77" fill="#22384F"/>
<circle cx="101.4" cy="70.5" r="0.85" fill="#22384F"/>
<circle cx="90.8" cy="71.0" r="0.90" fill="#22384F"/>
<circle cx="113.7" cy="143.3" r="0.73" fill="#22384F"/>
<circle cx="155.7" cy="104.2" r="0.89" fill="#22384F"/>
<circle cx="55.8" cy="86.9" r="0.80" fill="#22384F"/>
<circle cx="114.5" cy="76.0" r="0.83" fill="#22384F"/>
<circle cx="88.0" cy="71.6" r="0.81" fill="#22384F"/>
<circle cx="115.4" cy="90.5" r="0.81" fill="#22384F"/>
<circle cx="96.5" cy="46.0" r="0.95" fill="#22384F"/>
<circle cx="84.0" cy="83.0" r="0.93" fill="#22384F"/>
<circle cx="87.4" cy="126.9" r="0.93" fill="#22384F"/>
<circle cx="137.0" cy="75.1" r="0.88" fill="#22384F"/>
<circle cx="109.3" cy="89.0" r="0.88" fill="#22384F"/>
<circle cx="124.1" cy="112.7" r="0.74" fill="#22384F"/>
<circle cx="53.0" cy="82.0" r="0.71" fill="#22384F"/>
<circle cx="98.8" cy="43.4" r="0.91" fill="#22384F"/>
<circle cx="141.0" cy="76.9" r="0.87" fill="#22384F"/>
<circle cx="129.6" cy="60.8" r="0.86" fill="#22384F"/>
<circle cx="140.0" cy="98.6" r="0.78" fill="#22384F"/>
<circle cx="122.6" cy="67.7" r="0.77" fill="#22384F"/>
<circle cx="108.7" cy="105.1" r="0.93" fill="#22384F"/>
<circle cx="59.4" cy="58.8" r="0.83" fill="#22384F"/>
<circle cx="147.0" cy="127.0" r="0.70" fill="#22384F"/>
<circle cx="87.9" cy="123.6" r="0.79" fill="#22384F"/>
<circle cx="113.3" cy="131.9" r="0.79" fill="#22384F"/>
<circle cx="110.2" cy="67.0" r="0.72" fill="#22384F"/>
<circle cx="110.7" cy="122.9" r="0.94" fill="#22384F"/>
<circle cx="77.5" cy="109.2" r="0.93" fill="#22384F"/>
<circle cx="135.1" cy="104.7" r="0.90" fill="#22384F"/>
<circle cx="98.5" cy="119.4" r="0.70" fill="#22384F"/>
<circle cx="109.0" cy="98.9" r="0.80" fill="#22384F"/>
<circle cx="83.4" cy="60.1" r="0.73" fill="#22384F"/>
<circle cx="58.9" cy="61.0" r="0.88" fill="#22384F"/>
<circle cx="131.2" cy="95.8" r="0.90" fill="#22384F"/>
<circle cx="76.7" cy="86.3" r="0.90" fill="#22384F"/>
<circle cx="133.5" cy="113.7" r="0.90" fill="#22384F"/>
<circle cx="84.6" cy="38.2" r="0.73" fill="#22384F"/>
<circle cx="97.1" cy="144.5" r="0.70" fill="#22384F"/>
<circle cx="68.5" cy="46.0" r="0.72" fill="#22384F"/>
<circle cx="113.9" cy="75.8" r="0.91" fill="#22384F"/>
<circle cx="82.8" cy="87.9" r="0.91" fill="#22384F"/>
<circle cx="136.3" cy="118.1" r="0.83" fill="#22384F"/>
<circle cx="138.2" cy="93.4" r="0.76" fill="#22384F"/>
<circle cx="102.2" cy="58.1" r="0.91" fill="#22384F"/>
<circle cx="75.2" cy="89.4" r="0.73" fill="#22384F"/>
<circle cx="143.1" cy="61.3" r="0.78" fill="#22384F"/>
<circle cx="104.8" cy="109.1" r="0.70" fill="#22384F"/>
<circle cx="69.9" cy="103.2" r="0.95" fill="#22384F"/>
<circle cx="108.2" cy="34.5" r="0.80" fill="#22384F"/>
<circle cx="119.0" cy="138.9" r="0.89" fill="#22384F"/>
<circle cx="135.2" cy="79.5" r="0.90" fill="#22384F"/>
<circle cx="110.2" cy="151.1" r="0.85" fill="#22384F"/>
<circle cx="136.3" cy="121.9" r="0.95" fill="#22384F"/>
<circle cx="137.3" cy="117.9" r="0.89" fill="#22384F"/>
<circle cx="94.8" cy="122.1" r="0.93" fill="#22384F"/>
<circle cx="91.8" cy="130.1" r="0.94" fill="#22384F"/>
<circle cx="101.8" cy="131.5" r="0.72" fill="#22384F"/>
<circle cx="82.3" cy="90.9" r="0.89" fill="#22384F"/>
<circle cx="50.9" cy="82.4" r="0.76" fill="#22384F"/>
<circle cx="125.2" cy="72.6" r="0.78" fill="#22384F"/>
<circle cx="128.3" cy="118.6" r="0.79" fill="#22384F"/>
<circle cx="153.3" cy="74.7" r="0.95" fill="#22384F"/>
<circle cx="115.8" cy="131.8" r="0.72" fill="#22384F"/>
<circle cx="150.3" cy="109.1" r="0.81" fill="#22384F"/>
<circle cx="143.9" cy="119.2" r="0.73" fill="#22384F"/>
<circle cx="104.2" cy="82.7" r="0.95" fill="#22384F"/>
<circle cx="64.6" cy="85.9" r="0.82" fill="#22384F"/>
<circle cx="147.9" cy="71.8" r="0.88" fill="#22384F"/>
<circle cx="78.3" cy="44.4" r="0.83" fill="#22384F"/>
<circle cx="100.4" cy="106.4" r="0.89" fill="#22384F"/>
<circle cx="113.0" cy="143.3" r="0.78" fill="#22384F"/>
<circle cx="106.3" cy="85.9" r="0.80" fill="#22384F"/>
<circle cx="153.0" cy="81.6" r="0.89" fill="#22384F"/>
<circle cx="148.2" cy="114.0" r="0.88" fill="#22384F"/>
<circle cx="131.2" cy="123.3" r="0.92" fill="#22384F"/>
<circle cx="71.5" cy="92.3" r="0.78" fill="#22384F"/>
<circle cx="115.9" cy="125.9" r="0.91" fill="#22384F"/>
<circle cx="67.1" cy="60.3" r="0.88" fill="#22384F"/>
<circle cx="142.0" cy="130.3" r="0.84" fill="#22384F"/>
<circle cx="130.5" cy="121.3" r="0.80" fill="#22384F"/>
<circle cx="121.9" cy="126.5" r="0.84" fill="#22384F"/>
<circle cx="106.8" cy="93.5" r="0.72" fill="#22384F"/>
<circle cx="153.0" cy="106.5" r="0.72" fill="#22384F"/>
<circle cx="122.8" cy="97.5" r="0.78" fill="#22384F"/>
<circle cx="104.3" cy="123.0" r="0.73" fill="#22384F"/>
<circle cx="96.5" cy="72.0" r="0.71" fill="#22384F"/>
<circle cx="97.3" cy="93.3" r="0.88" fill="#22384F"/>
<circle cx="89.2" cy="67.5" r="0.88" fill="#22384F"/>
<circle cx="96.7" cy="64.5" r="0.85" fill="#22384F"/>
<circle cx="93.1" cy="76.2" r="0.75" fill="#22384F"/>
<circle cx="115.5" cy="63.8" r="0.88" fill="#22384F"/>
<circle cx="80.6" cy="78.7" r="0.91" fill="#22384F"/>
<circle cx="149.8" cy="135.1" r="0.85" fill="#22384F"/>
<circle cx="75.5" cy="46.7" r="0.76" fill="#22384F"/>
<circle cx="127.6" cy="129.1" r="0.84" fill="#22384F"/>
<circle cx="101.5" cy="66.9" r="0.80" fill="#22384F"/>
<circle cx="146.4" cy="138.4" r="0.77" fill="#22384F"/>
<circle cx="123.9" cy="80.0" r="0.74" fill="#22384F"/>
<circle cx="115.1" cy="72.0" r="0.92" fill="#22384F"/>
<circle cx="74.1" cy="60.1" r="0.86" fill="#22384F"/>
<circle cx="113.3" cy="57.4" r="0.93" fill="#22384F"/>
<circle cx="98.1" cy="131.6" r="0.74" fill="#22384F"/>
<circle cx="94.8" cy="102.7" r="0.77" fill="#22384F"/>
<circle cx="120.8" cy="60.1" r="0.83" fill="#22384F"/>
<circle cx="82.9" cy="102.0" r="0.71" fill="#22384F"/>
<circle cx="150.7" cy="86.3" r="0.78" fill="#22384F"/>
<circle cx="77.0" cy="97.1" r="0.84" fill="#22384F"/>
<circle cx="65.8" cy="47.8" r="0.82" fill="#22384F"/>
<circle cx="98.0" cy="146.0" r="0.93" fill="#22384F"/>
<circle cx="85.9" cy="68.1" r="0.84" fill="#22384F"/>
<circle cx="134.6" cy="69.4" r="0.86" fill="#22384F"/>
<circle cx="102.2" cy="68.3" r="0.85" fill="#22384F"/>
<circle cx="136.3" cy="145.3" r="0.90" fill="#22384F"/>
<circle cx="107.9" cy="111.7" r="0.79" fill="#22384F"/>
<circle cx="91.5" cy="49.3" r="0.70" fill="#22384F"/>
<circle cx="89.0" cy="114.2" r="0.95" fill="#22384F"/>
<circle cx="100.5" cy="88.1" r="0.90" fill="#22384F"/>
<circle cx="86.3" cy="111.6" r="0.73" fill="#22384F"/>
<circle cx="129.0" cy="73.8" r="0.73" fill="#22384F"/>
<circle cx="110.7" cy="57.7" r="0.76" fill="#22384F"/>
<circle cx="76.3" cy="52.3" r="0.86" fill="#22384F"/>
<circle cx="79.9" cy="60.6" r="0.73" fill="#22384F"/>
<circle cx="138.1" cy="127.9" r="0.70" fill="#22384F"/>
<circle cx="127.6" cy="142.5" r="0.82" fill="#22384F"/>
<circle cx="77.4" cy="88.3" r="0.70" fill="#22384F"/>
<circle cx="141.7" cy="97.0" r="0.76" fill="#22384F"/>
<circle cx="97.0" cy="44.8" r="0.80" fill="#22384F"/>
<circle cx="122.4" cy="62.2" r="0.75" fill="#22384F"/>
<circle cx="121.3" cy="111.6" r="0.70" fill="#22384F"/>
<circle cx="80.2" cy="49.4" r="0.76" fill="#22384F"/>
<circle cx="87.9" cy="36.4" r="0.76" fill="#22384F"/>
<circle cx="119.8" cy="107.9" r="0.78" fill="#22384F"/>
<circle cx="106.2" cy="35.3" r="0.80" fill="#22384F"/>
<circle cx="67.8" cy="44.7" r="0.79" fill="#22384F"/>
<circle cx="106.6" cy="80.4" r="0.78" fill="#22384F"/>
<circle cx="111.1" cy="118.5" r="0.70" fill="#22384F"/>
<circle cx="149.9" cy="79.2" r="0.91" fill="#22384F"/>
<circle cx="64.3" cy="99.5" r="0.88" fill="#22384F"/>
<circle cx="126.3" cy="128.7" r="0.82" fill="#22384F"/>
<circle cx="123.1" cy="56.5" r="0.70" fill="#22384F"/>
<circle cx="91.9" cy="91.8" r="0.76" fill="#22384F"/>
<circle cx="110.9" cy="69.4" r="0.93" fill="#22384F"/>
<circle cx="146.5" cy="148.0" r="0.81" fill="#22384F"/>
<circle cx="135.2" cy="89.4" r="0.75" fill="#22384F"/>
<circle cx="137.8" cy="95.0" r="0.90" fill="#22384F"/>
<circle cx="61.4" cy="46.8" r="0.92" fill="#22384F"/>
<circle cx="84.7" cy="69.9" r="0.73" fill="#22384F"/>
<circle cx="128.5" cy="128.9" r="0.83" fill="#22384F"/>
<circle cx="138.8" cy="141.9" r="0.84" fill="#22384F"/>
<circle cx="134.8" cy="113.4" r="0.73" fill="#22384F"/>
<circle cx="90.4" cy="60.2" r="0.78" fill="#22384F"/>
<circle cx="100.5" cy="131.4" r="0.85" fill="#22384F"/>
<circle cx="86.7" cy="56.8" r="0.87" fill="#22384F"/>
<circle cx="106.5" cy="121.3" r="0.86" fill="#22384F"/>
<circle cx="127.1" cy="69.4" r="0.86" fill="#22384F"/>
<circle cx="146.2" cy="123.5" r="0.79" fill="#22384F"/>
<circle cx="111.3" cy="63.1" r="0.72" fill="#22384F"/>
<circle cx="140.3" cy="88.4" r="0.70" fill="#22384F"/>
<circle cx="111.2" cy="90.0" r="0.91" fill="#22384F"/>
<circle cx="94.8" cy="92.7" r="0.92" fill="#22384F"/>
<circle cx="124.7" cy="105.4" r="0.93" fill="#22384F"/>
<circle cx="140.0" cy="113.3" r="0.72" fill="#22384F"/>
<circle cx="108.6" cy="125.1" r="0.89" fill="#22384F"/>
<circle cx="65.8" cy="88.2" r="0.74" fill="#22384F"/>
<circle cx="150.7" cy="121.6" r="0.79" fill="#22384F"/>
<circle cx="93.4" cy="80.8" r="0.75" fill="#22384F"/>
<circle cx="137.2" cy="111.4" r="0.91" fill="#22384F"/>
<circle cx="103.5" cy="129.3" r="0.90" fill="#22384F"/>
<circle cx="89.5" cy="142.0" r="0.91" fill="#22384F"/>
<circle cx="126.0" cy="76.5" r="0.80" fill="#22384F"/>
<circle cx="112.2" cy="130.3" r="0.93" fill="#22384F"/>
<circle cx="129.4" cy="82.4" r="0.77" fill="#22384F"/>
<circle cx="86.5" cy="116.5" r="0.84" fill="#22384F"/>
<circle cx="141.9" cy="64.7" r="0.87" fill="#22384F"/>
<circle cx="84.7" cy="47.7" r="0.76" fill="#22384F"/>
<circle cx="111.7" cy="75.6" r="0.80" fill="#22384F"/>
<circle cx="83.2" cy="99.6" r="0.73" fill="#22384F"/>
<circle cx="62.1" cy="60.5" r="0.90" fill="#22384F"/>
<circle cx="62.4" cy="72.2" r="0.75" fill="#22384F"/>
<circle cx="108.2" cy="53.7" r="0.73" fill="#22384F"/>
<circle cx="124.8" cy="93.3" r="0.77" fill="#22384F"/>
<circle cx="116.1" cy="53.6" r="0.86" fill="#22384F"/>
<circle cx="131.8" cy="112.8" r="0.86" fill="#22384F"/>
<circle cx="129.4" cy="79.6" r="0.83" fill="#22384F"/>
<circle cx="100.9" cy="51.5" r="0.91" fill="#22384F"/>
<circle cx="52.6" cy="78.8" r="0.89" fill="#22384F"/>
<circle cx="146.0" cy="141.6" r="0.75" fill="#22384F"/>
<circle cx="145.3" cy="132.0" r="0.83" fill="#22384F"/>
<circle cx="87.8" cy="98.8" r="0.74" fill="#22384F"/>
<circle cx="85.5" cy="54.4" r="0.76" fill="#22384F"/>
<circle cx="115.2" cy="133.5" r="0.74" fill="#22384F"/>
<circle cx="131.6" cy="157.5" r="0.72" fill="#22384F"/>
<circle cx="111.9" cy="62.8" r="0.79" fill="#22384F"/>
<circle cx="113.8" cy="149.9" r="0.92" fill="#22384F"/>
<circle cx="50.1" cy="71.3" r="0.86" fill="#22384F"/>
<circle cx="89.9" cy="96.4" r="0.72" fill="#22384F"/>
<circle cx="127.4" cy="61.0" r="0.75" fill="#22384F"/>
<circle cx="100.3" cy="128.8" r="0.85" fill="#22384F"/>
<circle cx="108.7" cy="49.8" r="0.83" fill="#22384F"/>
<circle cx="131.2" cy="109.8" r="0.71" fill="#22384F"/>
<circle cx="144.1" cy="70.2" r="0.72" fill="#22384F"/>
<circle cx="111.7" cy="137.0" r="0.84" fill="#22384F"/>
<circle cx="153.1" cy="74.8" r="0.85" fill="#22384F"/>
<circle cx="69.1" cy="70.6" r="0.72" fill="#22384F"/>
<circle cx="115.4" cy="73.2" r="0.89" fill="#22384F"/>
<circle cx="146.2" cy="142.0" r="0.76" fill="#22384F"/>
<circle cx="134.0" cy="99.0" r="0.85" fill="#22384F"/>
<circle cx="97.2" cy="44.0" r="0.83" fill="#22384F"/>
<circle cx="73.4" cy="74.8" r="0.79" fill="#22384F"/>
<circle cx="84.0" cy="80.2" r="0.94" fill="#22384F"/>
<circle cx="66.5" cy="69.1" r="0.80" fill="#22384F"/>
<circle cx="127.8" cy="57.3" r="0.81" fill="#22384F"/>
<circle cx="99.6" cy="147.6" r="0.84" fill="#22384F"/>
<circle cx="124.4" cy="64.3" r="0.91" fill="#22384F"/>
<circle cx="134.4" cy="79.8" r="0.95" fill="#22384F"/>
<circle cx="101.9" cy="112.2" r="0.89" fill="#22384F"/>
<circle cx="117.5" cy="72.3" r="0.83" fill="#22384F"/>
<circle cx="69.2" cy="78.5" r="0.88" fill="#22384F"/>
<circle cx="110.7" cy="144.3" r="0.86" fill="#22384F"/>
<circle cx="85.5" cy="41.9" r="0.94" fill="#22384F"/>
<circle cx="119.9" cy="120.2" r="0.94" fill="#22384F"/>
<circle cx="155.0" cy="74.4" r="0.89" fill="#22384F"/>
<circle cx="122.3" cy="139.7" r="0.75" fill="#22384F"/>
<circle cx="71.2" cy="60.5" r="0.84" fill="#22384F"/>
<circle cx="82.9" cy="80.4" r="0.81" fill="#22384F"/>
<circle cx="132.9" cy="103.8" r="0.76" fill="#22384F"/>
<circle cx="154.0" cy="109.8" r="0.90" fill="#22384F"/>
<circle cx="121.8" cy="39.2" r="0.93" fill="#263C52"/>
<circle cx="135.0" cy="26.8" r="0.75" fill="#263C52"/>
<circle cx="145.6" cy="39.9" r="0.77" fill="#263C52"/>
<circle cx="150.2" cy="19.6" r="0.89" fill="#263C52"/>
<circle cx="143.8" cy="29.8" r="0.99" fill="#263C52"/>
<circle cx="157.1" cy="27.7" r="0.90" fill="#263C52"/>
<circle cx="134.0" cy="31.4" r="0.97" fill="#263C52"/>
<circle cx="128.1" cy="30.0" r="0.78" fill="#263C52"/>
<circle cx="137.0" cy="25.1" r="0.89" fill="#263C52"/>
<circle cx="126.7" cy="40.7" r="0.80" fill="#263C52"/>
<circle cx="135.2" cy="43.0" r="0.83" fill="#263C52"/>
<circle cx="130.6" cy="25.0" r="0.79" fill="#263C52"/>
<circle cx="158.3" cy="27.3" r="0.87" fill="#263C52"/>
<circle cx="142.5" cy="34.2" r="0.76" fill="#263C52"/>
<circle cx="151.6" cy="22.7" r="0.91" fill="#263C52"/>
<circle cx="112.8" cy="50.1" r="0.91" fill="#263C52"/>
<circle cx="137.2" cy="33.6" r="0.98" fill="#263C52"/>
<circle cx="114.3" cy="40.8" r="0.94" fill="#263C52"/>
<circle cx="129.3" cy="36.3" r="0.77" fill="#263C52"/>
<circle cx="124.9" cy="48.4" r="0.97" fill="#263C52"/>
<circle cx="154.8" cy="17.8" r="0.89" fill="#263C52"/>
<circle cx="124.3" cy="29.4" r="0.98" fill="#263C52"/>
<circle cx="121.3" cy="43.0" r="0.87" fill="#263C52"/>
<circle cx="149.4" cy="39.4" r="0.77" fill="#263C52"/>
<circle cx="149.9" cy="13.2" r="0.93" fill="#263C52"/>
<circle cx="154.6" cy="23.7" r="0.79" fill="#263C52"/>
<circle cx="150.9" cy="28.8" r="1.00" fill="#263C52"/>
<circle cx="154.7" cy="29.0" r="0.88" fill="#263C52"/>
<circle cx="119.0" cy="46.5" r="0.98" fill="#263C52"/>
<circle cx="139.1" cy="46.0" r="0.87" fill="#263C52"/>
<circle cx="123.9" cy="48.6" r="0.83" fill="#263C52"/>
<circle cx="146.5" cy="30.4" r="0.92" fill="#263C52"/>
<circle cx="113.5" cy="46.4" r="0.93" fill="#263C52"/>
<circle cx="139.5" cy="28.2" r="0.87" fill="#263C52"/>
<circle cx="146.2" cy="31.7" r="0.82" fill="#263C52"/>
<circle cx="126.1" cy="44.7" r="0.86" fill="#263C52"/>
<circle cx="130.0" cy="27.8" r="0.93" fill="#263C52"/>
<circle cx="123.6" cy="40.7" r="0.81" fill="#263C52"/>
<circle cx="154.5" cy="27.8" r="0.79" fill="#263C52"/>
<circle cx="136.4" cy="42.6" r="0.87" fill="#263C52"/>
<circle cx="147.8" cy="26.6" r="0.91" fill="#263C52"/>
<circle cx="156.3" cy="17.8" r="0.77" fill="#263C52"/>
<circle cx="154.0" cy="18.0" r="0.82" fill="#263C52"/>
<circle cx="146.1" cy="9.5" r="0.99" fill="#263C52"/>
<circle cx="136.3" cy="31.7" r="0.82" fill="#263C52"/>
<circle cx="132.9" cy="22.4" r="0.94" fill="#263C52"/>
<circle cx="151.7" cy="38.4" r="0.83" fill="#263C52"/>
<circle cx="117.1" cy="42.8" r="0.77" fill="#263C52"/>
<circle cx="148.3" cy="28.8" r="0.87" fill="#263C52"/>
<circle cx="123.9" cy="46.1" r="0.97" fill="#263C52"/>
<circle cx="116.5" cy="42.9" r="0.94" fill="#263C52"/>
<circle cx="154.9" cy="32.7" r="0.76" fill="#263C52"/>
<circle cx="140.7" cy="35.0" r="0.93" fill="#263C52"/>
<circle cx="148.8" cy="30.8" r="0.91" fill="#263C52"/>
<circle cx="143.0" cy="11.5" r="0.87" fill="#263C52"/>
<circle cx="150.0" cy="32.0" r="0.92" fill="#263C52"/>
<circle cx="139.5" cy="18.5" r="0.88" fill="#263C52"/>
<circle cx="138.7" cy="45.6" r="0.80" fill="#263C52"/>
<circle cx="129.1" cy="27.1" r="0.92" fill="#263C52"/>
<circle cx="142.3" cy="16.0" r="0.78" fill="#263C52"/>
<circle cx="139.5" cy="22.1" r="0.83" fill="#263C52"/>
<circle cx="134.2" cy="39.4" r="0.96" fill="#263C52"/>
<circle cx="126.4" cy="34.4" r="0.89" fill="#263C52"/>
<circle cx="151.2" cy="28.6" r="0.88" fill="#263C52"/>
<circle cx="141.9" cy="20.7" r="0.93" fill="#263C52"/>
<circle cx="123.5" cy="30.4" r="0.87" fill="#263C52"/>
<circle cx="137.1" cy="17.8" r="0.85" fill="#263C52"/>
<circle cx="148.5" cy="30.0" r="0.89" fill="#263C52"/>
<circle cx="157.0" cy="18.9" r="0.76" fill="#263C52"/>
<circle cx="112.2" cy="45.7" r="0.84" fill="#263C52"/>
<circle cx="144.3" cy="22.8" r="0.76" fill="#263C52"/>
<circle cx="132.6" cy="38.0" r="1.00" fill="#263C52"/>
<circle cx="149.6" cy="38.0" r="0.98" fill="#263C52"/>
<circle cx="134.0" cy="30.8" r="0.91" fill="#263C52"/>
<circle cx="156.9" cy="29.5" r="0.79" fill="#263C52"/>
<circle cx="120.7" cy="35.4" r="0.96" fill="#263C52"/>
<circle cx="136.0" cy="28.9" r="0.82" fill="#263C52"/>
<circle cx="145.3" cy="34.3" r="0.95" fill="#263C52"/>
<circle cx="143.0" cy="30.0" r="0.91" fill="#263C52"/>
<circle cx="151.9" cy="34.5" r="0.90" fill="#263C52"/>
<circle cx="155.3" cy="32.0" r="0.94" fill="#263C52"/>
<circle cx="119.1" cy="39.1" r="0.82" fill="#263C52"/>
<circle cx="142.6" cy="43.5" r="0.96" fill="#263C52"/>
<circle cx="150.7" cy="23.0" r="0.89" fill="#263C52"/>
<circle cx="118.0" cy="46.1" r="0.94" fill="#263C52"/>
<circle cx="128.8" cy="20.2" r="0.83" fill="#263C52"/>
<circle cx="114.0" cy="32.7" r="0.94" fill="#263C52"/>
<circle cx="127.6" cy="22.3" r="0.75" fill="#263C52"/>
<circle cx="123.8" cy="26.5" r="0.91" fill="#263C52"/>
<circle cx="117.5" cy="32.1" r="0.89" fill="#263C52"/>
<circle cx="112.9" cy="37.8" r="0.93" fill="#263C52"/>
<circle cx="125.7" cy="27.0" r="0.83" fill="#263C52"/>
<circle cx="125.3" cy="28.1" r="0.87" fill="#263C52"/>
<circle cx="132.6" cy="12.0" r="0.87" fill="#263C52"/>
<circle cx="118.1" cy="32.1" r="0.94" fill="#263C52"/>
<circle cx="142.1" cy="9.4" r="0.77" fill="#263C52"/>
<circle cx="135.3" cy="13.0" r="0.88" fill="#263C52"/>
<circle cx="112.6" cy="40.4" r="0.81" fill="#263C52"/>
<circle cx="119.0" cy="32.9" r="0.90" fill="#263C52"/>
<circle cx="134.3" cy="17.5" r="0.81" fill="#263C52"/>
<circle cx="133.8" cy="12.3" r="0.80" fill="#263C52"/>
<circle cx="131.6" cy="17.8" r="0.81" fill="#263C52"/>
<circle cx="136.0" cy="15.7" r="0.97" fill="#263C52"/>
<circle cx="132.8" cy="18.3" r="0.84" fill="#263C52"/>
<circle cx="140.3" cy="13.0" r="0.97" fill="#263C52"/>
<circle cx="115.3" cy="32.1" r="0.93" fill="#263C52"/>
<circle cx="131.4" cy="20.4" r="0.82" fill="#263C52"/>
<circle cx="136.8" cy="15.5" r="0.89" fill="#263C52"/>
<circle cx="126.7" cy="17.7" r="0.75" fill="#263C52"/>
<circle cx="139.6" cy="14.2" r="0.98" fill="#263C52"/>
<circle cx="136.9" cy="12.2" r="0.93" fill="#4CA660"/>
<circle cx="138.5" cy="18.7" r="0.96" fill="#4CA660"/>
<circle cx="127.4" cy="26.5" r="0.81" fill="#4CA660"/>
<circle cx="131.8" cy="16.0" r="0.85" fill="#4CA660"/>
<circle cx="126.2" cy="24.7" r="0.77" fill="#4CA660"/>
<circle cx="138.9" cy="12.1" r="0.78" fill="#4CA660"/>
<circle cx="138.8" cy="15.1" r="0.96" fill="#4CA660"/>
<circle cx="134.1" cy="13.0" r="0.89" fill="#4CA660"/>
<circle cx="120.9" cy="25.6" r="0.83" fill="#4CA660"/>
<circle cx="123.9" cy="28.1" r="0.89" fill="#4CA660"/>
<circle cx="123.7" cy="23.6" r="0.76" fill="#4CA660"/>
<circle cx="123.9" cy="32.1" r="0.70" fill="#4CA660"/>
<circle cx="122.0" cy="30.5" r="0.81" fill="#4CA660"/>
<circle cx="127.3" cy="24.9" r="0.87" fill="#4CA660"/>
<circle cx="121.4" cy="25.5" r="0.76" fill="#4CA660"/>
<circle cx="138.9" cy="13.7" r="0.86" fill="#4CA660"/>
<circle cx="137.7" cy="19.1" r="0.80" fill="#4CA660"/>
<circle cx="141.9" cy="9.7" r="0.78" fill="#4CA660"/>
<circle cx="114.9" cy="31.9" r="0.92" fill="#4CA660"/>
<circle cx="117.0" cy="32.6" r="0.81" fill="#4CA660"/>
<circle cx="138.6" cy="16.6" r="0.92" fill="#4CA660"/>
<circle cx="130.5" cy="15.8" r="0.92" fill="#4CA660"/>
<circle cx="122.4" cy="27.1" r="0.81" fill="#4CA660"/>
<circle cx="140.5" cy="15.7" r="0.71" fill="#4CA660"/>
<circle cx="123.9" cy="21.1" r="0.95" fill="#4CA660"/>
<circle cx="131.1" cy="18.9" r="0.87" fill="#4CA660"/>
<circle cx="128.0" cy="21.0" r="0.87" fill="#4CA660"/>
<circle cx="116.4" cy="32.2" r="0.91" fill="#4CA660"/>
<circle cx="127.9" cy="17.1" r="0.86" fill="#4CA660"/>
<circle cx="139.6" cy="13.4" r="0.97" fill="#4CA660"/>
<circle cx="122.6" cy="23.7" r="0.70" fill="#4CA660"/>
<circle cx="135.3" cy="10.9" r="0.99" fill="#4CA660"/>
<circle cx="133.4" cy="23.3" r="0.88" fill="#4CA660"/>
<circle cx="124.7" cy="22.6" r="0.82" fill="#4CA660"/>
<circle cx="138.3" cy="17.4" r="0.97" fill="#4CA660"/>
<circle cx="120.0" cy="23.5" r="0.97" fill="#4CA660"/>
<circle cx="123.3" cy="27.5" r="0.88" fill="#4CA660"/>
<circle cx="130.6" cy="21.8" r="0.70" fill="#4CA660"/>
<circle cx="133.1" cy="21.2" r="0.89" fill="#4CA660"/>
<circle cx="135.8" cy="17.5" r="0.82" fill="#4CA660"/>
<circle cx="128.9" cy="27.5" r="0.87" fill="#4CA660"/>
<circle cx="126.5" cy="28.9" r="0.95" fill="#4CA660"/>
<circle cx="119.2" cy="30.8" r="0.74" fill="#4CA660"/>
<circle cx="118.3" cy="29.0" r="0.95" fill="#4CA660"/>
<circle cx="128.2" cy="25.3" r="0.79" fill="#4CA660"/>
<circle cx="121.0" cy="28.9" r="0.78" fill="#4CA660"/>
<circle cx="124.9" cy="23.5" r="0.71" fill="#4CA660"/>
<circle cx="125.4" cy="27.4" r="0.73" fill="#4CA660"/>
<circle cx="131.2" cy="26.5" r="0.78" fill="#4CA660"/>
<circle cx="131.1" cy="24.8" r="0.86" fill="#4CA660"/>
<circle cx="127.6" cy="26.4" r="0.98" fill="#4CA660"/>
<circle cx="132.3" cy="14.2" r="0.75" fill="#4CA660"/>
<circle cx="118.9" cy="25.7" r="0.79" fill="#4CA660"/>
<circle cx="115.2" cy="32.9" r="0.81" fill="#4CA660"/>
<circle cx="130.8" cy="16.1" r="0.89" fill="#4CA660"/>
<circle cx="118.8" cy="31.2" r="0.81" fill="#4CA660"/>
<circle cx="123.9" cy="32.7" r="0.90" fill="#4CA660"/>
<circle cx="130.9" cy="13.2" r="0.75" fill="#4CA660"/>
<circle cx="128.9" cy="24.7" r="0.71" fill="#4CA660"/>
<circle cx="128.7" cy="21.2" r="0.87" fill="#4CA660"/>
<circle cx="128.8" cy="18.1" r="0.92" fill="#4CA660"/>
<circle cx="126.5" cy="27.6" r="0.74" fill="#4CA660"/>
<circle cx="132.6" cy="18.9" r="0.71" fill="#4CA660"/>
<circle cx="132.4" cy="16.4" r="0.90" fill="#4CA660"/>
<circle cx="125.0" cy="30.4" r="0.72" fill="#4CA660"/>
<circle cx="126.1" cy="27.5" r="0.98" fill="#4CA660"/>
<circle cx="126.8" cy="29.1" r="0.91" fill="#4CA660"/>
<circle cx="124.8" cy="32.0" r="0.75" fill="#4CA660"/>
<circle cx="122.1" cy="28.9" r="0.82" fill="#4CA660"/>
<circle cx="114.4" cy="32.3" r="0.72" fill="#4CA660"/>
<circle cx="129.6" cy="26.4" r="0.73" fill="#4CA660"/>
<circle cx="126.3" cy="16.5" r="0.81" fill="#4CA660"/>
<circle cx="123.0" cy="29.4" r="0.96" fill="#4CA660"/>
<circle cx="129.2" cy="18.5" r="0.97" fill="#4CA660"/>
<circle cx="116.4" cy="30.6" r="0.93" fill="#4CA660"/>
<circle cx="136.4" cy="21.5" r="0.89" fill="#4CA660"/>
<circle cx="128.5" cy="24.4" r="0.88" fill="#4CA660"/>
<circle cx="132.8" cy="22.3" r="0.85" fill="#4CA660"/>
<circle cx="130.5" cy="25.9" r="0.90" fill="#4CA660"/>
<circle cx="126.6" cy="21.0" r="0.85" fill="#4CA660"/>
<circle cx="140.6" cy="16.1" r="0.82" fill="#4CA660"/>
<circle cx="125.9" cy="26.1" r="0.95" fill="#4CA660"/>
<circle cx="125.9" cy="23.5" r="0.79" fill="#4CA660"/>
<circle cx="126.0" cy="20.7" r="0.82" fill="#4CA660"/>
<circle cx="137.3" cy="19.1" r="0.90" fill="#4CA660"/>
<circle cx="142.0" cy="10.5" r="0.9" fill="#D9587A"/>
<circle cx="143.5" cy="12.5" r="0.9" fill="#D9587A"/>
<circle cx="145.0" cy="10.0" r="0.9" fill="#D9587A"/>
<circle cx="155.5" cy="24.0" r="0.9" fill="#D9587A"/>
<circle cx="157.0" cy="26.0" r="0.9" fill="#D9587A"/>
<circle cx="151.0" cy="16.0" r="0.9" fill="#D9587A"/>
<circle cx="148.0" cy="19.0" r="0.9" fill="#D9587A"/>
<circle cx="156.5" cy="29.0" r="0.9" fill="#D9587A"/>
<circle cx="97.4" cy="69.1" r="0.9" fill="#C9B07A" fill-opacity="0.7"/>
<circle cx="71.9" cy="61.9" r="0.9" fill="#C9B07A" fill-opacity="0.7"/>
<circle cx="102.4" cy="51.2" r="0.9" fill="#C9B07A" fill-opacity="0.7"/>
<circle cx="113.9" cy="125.5" r="0.9" fill="#C9B07A" fill-opacity="0.7"/>
<circle cx="61.2" cy="81.9" r="0.9" fill="#C9B07A" fill-opacity="0.7"/>
<circle cx="69.4" cy="106.3" r="0.9" fill="#C9B07A" fill-opacity="0.7"/>
<circle cx="74.3" cy="54.1" r="0.9" fill="#C9B07A" fill-opacity="0.7"/>
<circle cx="147.6" cy="128.3" r="0.9" fill="#C9B07A" fill-opacity="0.7"/>
<circle cx="92.9" cy="77.5" r="0.9" fill="#C9B07A" fill-opacity="0.7"/>
<circle cx="70.9" cy="78.0" r="0.9" fill="#C9B07A" fill-opacity="0.7"/>
<circle cx="93.0" cy="37.7" r="0.9" fill="#C9B07A" fill-opacity="0.7"/>
<circle cx="126.7" cy="86.1" r="0.9" fill="#C9B07A" fill-opacity="0.7"/>
<circle cx="178.5" cy="64.0" r="0.9" fill="#1F3550"/>
<circle cx="186.3" cy="67.3" r="0.9" fill="#1F3550"/>
<circle cx="185.4" cy="77.7" r="0.9" fill="#1F3550"/>
<circle cx="180.8" cy="80.4" r="0.9" fill="#1F3550"/>
<circle cx="167.0" cy="90.8" r="0.9" fill="#1F3550"/>
<circle cx="188.5" cy="70.5" r="0.9" fill="#1F3550"/>
<circle cx="189.0" cy="73.0" r="0.9" fill="#1F3550"/>
<circle cx="163.5" cy="86.5" r="1" fill="#D6D6D6"/>
<circle cx="166.0" cy="88.0" r="1" fill="#D6D6D6"/>
<circle cx="161.0" cy="92.0" r="1" fill="#D6D6D6"/>
<path d="M43.6,167.3 L43.6,112.5" stroke="#111" stroke-width="1.2" fill="none"/>
<path d="M40.8,112.8 L43.6,106.3 L46.4,112.8 Z" fill="#111"/>
<path d="M43.0,167.3 L99.5,167.3" stroke="#111" stroke-width="1.2" fill="none"/>
<path d="M99.2,164.5 L105.8,167.3 L99.2,170.1 Z" fill="#111"/>
<text transform="translate(57.00 179.10) scale(0.612 1)" font-size="9.8" text-anchor="start" fill="#231f20" font-weight="bold" >WnnUMAP 1</text>
<text transform="translate(39.40 136.70) rotate(-90) scale(0.645 1)" font-size="9.9" text-anchor="middle" fill="#231f20" font-weight="bold" >WnnUMAP 2</text>
<text transform="translate(183.10 92.30)" font-size="8.1" text-anchor="start" fill="#231f20" >Clonotype group</text>
<circle cx="185.70" cy="102.30" r="2.95" fill="#D2D2D2" stroke="#000" stroke-width="0.35" stroke-opacity="0.35"/>
<text transform="translate(192.30 105.20)" font-size="8.3" text-anchor="start" fill="#231f20" >X = 1</text>
<circle cx="185.70" cy="113.20" r="2.95" fill="#124A6E" stroke="#000" stroke-width="0.35" stroke-opacity="0.35"/>
<text transform="translate(192.30 116.10)" font-size="8.3" text-anchor="start" fill="#231f20" >1 &lt; X ≤ 3</text>
<circle cx="185.70" cy="124.10" r="2.95" fill="#C7A042" stroke="#000" stroke-width="0.35" stroke-opacity="0.35"/>
<text transform="translate(192.30 127.00)" font-size="8.3" text-anchor="start" fill="#231f20" >3 &lt; X ≤ 6</text>
<circle cx="185.70" cy="135.00" r="2.95" fill="#22994A" stroke="#000" stroke-width="0.35" stroke-opacity="0.35"/>
<text transform="translate(192.30 137.90)" font-size="8.3" text-anchor="start" fill="#231f20" >6 &lt; X ≤ 20</text>
<circle cx="185.70" cy="145.90" r="2.95" fill="#DC3D62" stroke="#000" stroke-width="0.35" stroke-opacity="0.35"/>
<text transform="translate(192.30 148.80)" font-size="8.3" text-anchor="start" fill="#231f20" >20 &lt; X ≤ 100</text>
<circle cx="185.70" cy="156.80" r="2.95" fill="#A3A3A3" stroke="#000" stroke-width="0.35" stroke-opacity="0.35"/>
<text transform="translate(192.30 159.70)" font-size="8.3" text-anchor="start" fill="#231f20" >NA</text>
<text transform="translate(6.90 17.90) scale(1.1 1)" font-size="11.8" text-anchor="start" fill="#000" font-weight="bold" >A</text>
<text transform="translate(257.00 18.00) scale(1.1 1)" font-size="11.8" text-anchor="start" fill="#000" font-weight="bold" >B</text>
<text transform="translate(6.90 231.30) scale(1.1 1)" font-size="11.8" text-anchor="start" fill="#000" font-weight="bold" >C</text>
<text transform="translate(7.00 430.50) scale(1.1 1)" font-size="11.8" text-anchor="start" fill="#000" font-weight="bold" >D</text>
<text transform="translate(6.80 581.60) scale(1.1 1)" font-size="11.8" text-anchor="start" fill="#000" font-weight="bold" >E</text>
<line x1="290.50" y1="24.80" x2="290.50" y2="143.50" stroke="#231f20" stroke-width="1.1"/>
<line x1="290.00" y1="143.00" x2="463.40" y2="143.00" stroke="#231f20" stroke-width="1.1"/>
<line x1="287.00" y1="27.70" x2="290.50" y2="27.70" stroke="#231f20" stroke-width="1"/>
<text transform="translate(284.20 30.90)" font-size="8.6" text-anchor="end" fill="#231f20" >4.5</text>
<line x1="287.00" y1="56.53" x2="290.50" y2="56.53" stroke="#231f20" stroke-width="1"/>
<text transform="translate(284.20 59.73)" font-size="8.6" text-anchor="end" fill="#231f20" >4.0</text>
<line x1="287.00" y1="85.35" x2="290.50" y2="85.35" stroke="#231f20" stroke-width="1"/>
<text transform="translate(284.20 88.55)" font-size="8.6" text-anchor="end" fill="#231f20" >3.5</text>
<line x1="287.00" y1="114.17" x2="290.50" y2="114.17" stroke="#231f20" stroke-width="1"/>
<text transform="translate(284.20 117.38)" font-size="8.6" text-anchor="end" fill="#231f20" >3.0</text>
<line x1="287.00" y1="143.00" x2="290.50" y2="143.00" stroke="#231f20" stroke-width="1"/>
<text transform="translate(284.20 146.20)" font-size="8.6" text-anchor="end" fill="#231f20" >2.5</text>
<text transform="translate(264.70 84.60) rotate(-90) scale(0.79 1)" font-size="9.0" text-anchor="middle" fill="#231f20" stroke="#231f20" stroke-width="0.15">Shanon index score</text>
<line x1="300.20" y1="143.00" x2="300.20" y2="146.50" stroke="#231f20" stroke-width="1"/>
<text transform="translate(302.10 155.50) rotate(-45)" font-size="8.5" text-anchor="end" fill="#231f20" >Naive</text>
<line x1="315.48" y1="143.00" x2="315.48" y2="146.50" stroke="#231f20" stroke-width="1"/>
<text transform="translate(317.38 155.50) rotate(-45)" font-size="8.5" text-anchor="end" fill="#231f20" >GZM<tspan font-size="6.2" dy="-3.4">+</tspan><tspan dy="3.4"> T cells</tspan></text>
<line x1="330.76" y1="143.00" x2="330.76" y2="146.50" stroke="#231f20" stroke-width="1"/>
<text transform="translate(332.66 155.50) rotate(-45)" font-size="8.5" text-anchor="end" fill="#231f20" >Memory 1</text>
<line x1="346.04" y1="143.00" x2="346.04" y2="146.50" stroke="#231f20" stroke-width="1"/>
<text transform="translate(347.94 155.50) rotate(-45)" font-size="8.5" text-anchor="end" fill="#231f20" >Memory 2</text>
<line x1="361.32" y1="143.00" x2="361.32" y2="146.50" stroke="#231f20" stroke-width="1"/>
<text transform="translate(363.22 155.50) rotate(-45)" font-size="8.5" text-anchor="end" fill="#231f20" >actTregs</text>
<line x1="376.60" y1="143.00" x2="376.60" y2="146.50" stroke="#231f20" stroke-width="1"/>
<text transform="translate(378.50 155.50) rotate(-45)" font-size="8.5" text-anchor="end" fill="#231f20" >T helper cells</text>
<line x1="391.88" y1="143.00" x2="391.88" y2="146.50" stroke="#231f20" stroke-width="1"/>
<text transform="translate(393.78 155.50) rotate(-45)" font-size="8.5" text-anchor="end" fill="#231f20" >Tfh 1</text>
<line x1="407.16" y1="143.00" x2="407.16" y2="146.50" stroke="#231f20" stroke-width="1"/>
<text transform="translate(409.06 155.50) rotate(-45)" font-size="8.5" text-anchor="end" fill="#231f20" >Tfh 2</text>
<line x1="422.44" y1="143.00" x2="422.44" y2="146.50" stroke="#231f20" stroke-width="1"/>
<text transform="translate(424.34 155.50) rotate(-45)" font-size="8.5" text-anchor="end" fill="#231f20" >Memory 3</text>
<line x1="437.72" y1="143.00" x2="437.72" y2="146.50" stroke="#231f20" stroke-width="1"/>
<text transform="translate(439.62 155.50) rotate(-45)" font-size="8.5" text-anchor="end" fill="#231f20" >restTregs</text>
<line x1="453.00" y1="143.00" x2="453.00" y2="146.50" stroke="#231f20" stroke-width="1"/>
<text transform="translate(454.90 155.50) rotate(-45)" font-size="8.5" text-anchor="end" fill="#231f20" >LAG3<tspan font-size="6.2" dy="-3.4">+</tspan><tspan dy="3.4"> Tregs</tspan></text>
<circle cx="298.00" cy="70.20" r="2.85" fill="#B9BCC7" stroke="#2a2a2a" stroke-width="0.8" />
<circle cx="303.00" cy="70.20" r="2.85" fill="#1C8FB6" stroke="#2a2a2a" stroke-width="0.8" />
<circle cx="300.50" cy="63.80" r="2.85" fill="#E9945C" stroke="#2a2a2a" stroke-width="0.8" />
<circle cx="313.40" cy="71.50" r="2.85" fill="#B9BCC7" stroke="#2a2a2a" stroke-width="0.8" />
<circle cx="317.70" cy="73.40" r="2.85" fill="#1C8FB6" stroke="#2a2a2a" stroke-width="0.8" />
<circle cx="315.40" cy="81.50" r="2.85" fill="#E9945C" stroke="#2a2a2a" stroke-width="0.8" />
<circle cx="328.50" cy="70.30" r="2.85" fill="#B9BCC7" stroke="#2a2a2a" stroke-width="0.8" />
<circle cx="333.50" cy="70.30" r="2.85" fill="#1C8FB6" stroke="#2a2a2a" stroke-width="0.8" />
<circle cx="330.50" cy="64.20" r="2.85" fill="#E9945C" stroke="#2a2a2a" stroke-width="0.8" />
<circle cx="343.80" cy="70.20" r="2.85" fill="#B9BCC7" stroke="#2a2a2a" stroke-width="0.8" />
<circle cx="348.50" cy="70.20" r="2.85" fill="#1C8FB6" stroke="#2a2a2a" stroke-width="0.8" />
<circle cx="345.80" cy="64.00" r="2.85" fill="#E9945C" stroke="#2a2a2a" stroke-width="0.8" />
<circle cx="358.80" cy="70.20" r="2.85" fill="#B9BCC7" stroke="#2a2a2a" stroke-width="0.8" />
<circle cx="363.80" cy="70.20" r="2.85" fill="#1C8FB6" stroke="#2a2a2a" stroke-width="0.8" />
<circle cx="361.20" cy="64.60" r="2.85" fill="#E9945C" stroke="#2a2a2a" stroke-width="0.8" />
<circle cx="374.00" cy="70.20" r="2.85" fill="#B9BCC7" stroke="#2a2a2a" stroke-width="0.8" />
<circle cx="379.40" cy="70.20" r="2.85" fill="#1C8FB6" stroke="#2a2a2a" stroke-width="0.8" />
<circle cx="376.50" cy="63.80" r="2.85" fill="#E9945C" stroke="#2a2a2a" stroke-width="0.8" />
<circle cx="391.90" cy="70.20" r="2.85" fill="#B9BCC7" stroke="#2a2a2a" stroke-width="0.8" />
<circle cx="406.90" cy="71.30" r="2.85" fill="#1C8FB6" stroke="#2a2a2a" stroke-width="0.8" />
<circle cx="421.90" cy="70.20" r="2.85" fill="#1C8FB6" stroke="#2a2a2a" stroke-width="0.8" />
<circle cx="421.90" cy="63.80" r="2.85" fill="#E9945C" stroke="#2a2a2a" stroke-width="0.8" />
<circle cx="434.80" cy="70.20" r="2.85" fill="#B9BCC7" stroke="#2a2a2a" stroke-width="0.8" />
<circle cx="440.00" cy="70.20" r="2.85" fill="#1C8FB6" stroke="#2a2a2a" stroke-width="0.8" />
<circle cx="437.10" cy="63.80" r="2.85" fill="#E9945C" stroke="#2a2a2a" stroke-width="0.8" />
<circle cx="450.00" cy="70.20" r="2.85" fill="#B9BCC7" stroke="#2a2a2a" stroke-width="0.8" />
<circle cx="455.00" cy="70.20" r="2.85" fill="#1C8FB6" stroke="#2a2a2a" stroke-width="0.8" />
<circle cx="329.40" cy="198.80" r="2.85" fill="#1C8FB6" stroke="#2a2a2a" stroke-width="0.8" />
<text transform="translate(335.50 201.80)" font-size="8.15" text-anchor="start" fill="#231f20" >FL</text>
<circle cx="355.20" cy="198.80" r="2.85" fill="#E9945C" stroke="#2a2a2a" stroke-width="0.8" />
<text transform="translate(361.50 201.80)" font-size="8.15" text-anchor="start" fill="#231f20" >DLBCL</text>
<circle cx="398.30" cy="198.80" r="2.85" fill="#B9BCC7" stroke="#2a2a2a" stroke-width="0.8" />
<text transform="translate(404.50 201.80)" font-size="8.15" text-anchor="start" fill="#231f20" >Tonsils</text>
<rect x="53.00" y="316.77" width="18.00" height="38.53" fill="#05506F" />
<line x1="62.00" y1="316.77" x2="62.00" y2="263.30" stroke="#231f20" stroke-width="1"/>
<line x1="57.40" y1="263.30" x2="66.60" y2="263.30" stroke="#231f20" stroke-width="1"/>
<rect x="80.40" y="305.85" width="17.90" height="49.45" fill="#05506F" />
<line x1="89.35" y1="305.85" x2="89.35" y2="258.70" stroke="#231f20" stroke-width="1"/>
<line x1="84.75" y1="258.70" x2="93.95" y2="258.70" stroke="#231f20" stroke-width="1"/>
<rect x="107.90" y="327.12" width="17.80" height="28.18" fill="#05506F" />
<line x1="116.80" y1="327.12" x2="116.80" y2="300.10" stroke="#231f20" stroke-width="1"/>
<line x1="112.20" y1="300.10" x2="121.40" y2="300.10" stroke="#231f20" stroke-width="1"/>
<line x1="44.20" y1="239.10" x2="44.20" y2="355.80" stroke="#231f20" stroke-width="1.1"/>
<line x1="43.70" y1="355.30" x2="135.80" y2="355.30" stroke="#231f20" stroke-width="1.1"/>
<line x1="41.00" y1="355.30" x2="44.20" y2="355.30" stroke="#231f20" stroke-width="1"/>
<text transform="translate(37.70 358.30)" font-size="8.5" text-anchor="end" fill="#231f20" >0</text>
<line x1="41.00" y1="326.55" x2="44.20" y2="326.55" stroke="#231f20" stroke-width="1"/>
<text transform="translate(37.70 329.55)" font-size="8.5" text-anchor="end" fill="#231f20" >1</text>
<line x1="41.00" y1="297.80" x2="44.20" y2="297.80" stroke="#231f20" stroke-width="1"/>
<text transform="translate(37.70 300.80)" font-size="8.5" text-anchor="end" fill="#231f20" >2</text>
<line x1="41.00" y1="269.05" x2="44.20" y2="269.05" stroke="#231f20" stroke-width="1"/>
<text transform="translate(37.70 272.05)" font-size="8.5" text-anchor="end" fill="#231f20" >3</text>
<line x1="41.00" y1="240.30" x2="44.20" y2="240.30" stroke="#231f20" stroke-width="1"/>
<text transform="translate(37.70 243.30)" font-size="8.5" text-anchor="end" fill="#231f20" >4</text>
<line x1="61.90" y1="355.30" x2="61.90" y2="358.60" stroke="#231f20" stroke-width="1"/>
<line x1="89.30" y1="355.30" x2="89.30" y2="358.60" stroke="#231f20" stroke-width="1"/>
<line x1="116.60" y1="355.30" x2="116.60" y2="358.60" stroke="#231f20" stroke-width="1"/>
<text transform="translate(89.50 231.90)" font-size="10.0" text-anchor="middle" fill="#231f20" >FL</text>
<text transform="translate(25.60 295.70) rotate(-90) scale(0.78 1)" font-size="9.2" text-anchor="middle" fill="#231f20" stroke="#231f20" stroke-width="0.15">% of Tregs with clonal expansion</text>
<text transform="translate(64.00 365.80) rotate(-45)" font-size="8.4" text-anchor="end" fill="#231f20" >actTregs</text>
<text transform="translate(91.40 365.80) rotate(-45)" font-size="8.4" text-anchor="end" fill="#231f20" >restTregs</text>
<text transform="translate(118.70 365.80) rotate(-45)" font-size="8.4" text-anchor="end" fill="#231f20" >LAG3<tspan font-size="6.2" dy="-3.4">+</tspan><tspan dy="3.4"> Tregs</tspan></text>
<rect x="220.60" y="330.57" width="18.20" height="24.72" fill="#05506F" />
<rect x="220.60" y="310.16" width="18.20" height="20.41" fill="#D1A03C" />
<line x1="229.70" y1="355.30" x2="229.70" y2="274.80" stroke="#231f20" stroke-width="1"/>
<line x1="225.10" y1="274.80" x2="234.30" y2="274.80" stroke="#231f20" stroke-width="1"/>
<line x1="229.70" y1="355.30" x2="229.70" y2="302.40" stroke="#231f20" stroke-width="1"/>
<line x1="225.10" y1="302.40" x2="234.30" y2="302.40" stroke="#231f20" stroke-width="1"/>
<rect x="248.00" y="348.98" width="17.80" height="6.33" fill="#05506F" />
<line x1="256.90" y1="348.98" x2="256.90" y2="336.61" stroke="#231f20" stroke-width="1"/>
<line x1="252.30" y1="336.61" x2="261.50" y2="336.61" stroke="#231f20" stroke-width="1"/>
<line x1="210.80" y1="239.10" x2="210.80" y2="355.80" stroke="#231f20" stroke-width="1.1"/>
<line x1="210.30" y1="355.30" x2="302.70" y2="355.30" stroke="#231f20" stroke-width="1.1"/>
<line x1="207.60" y1="355.30" x2="210.80" y2="355.30" stroke="#231f20" stroke-width="1"/>
<text transform="translate(204.30 358.30)" font-size="8.5" text-anchor="end" fill="#231f20" >0</text>
<line x1="207.60" y1="326.55" x2="210.80" y2="326.55" stroke="#231f20" stroke-width="1"/>
<text transform="translate(204.30 329.55)" font-size="8.5" text-anchor="end" fill="#231f20" >1</text>
<line x1="207.60" y1="297.80" x2="210.80" y2="297.80" stroke="#231f20" stroke-width="1"/>
<text transform="translate(204.30 300.80)" font-size="8.5" text-anchor="end" fill="#231f20" >2</text>
<line x1="207.60" y1="269.05" x2="210.80" y2="269.05" stroke="#231f20" stroke-width="1"/>
<text transform="translate(204.30 272.05)" font-size="8.5" text-anchor="end" fill="#231f20" >3</text>
<line x1="207.60" y1="240.30" x2="210.80" y2="240.30" stroke="#231f20" stroke-width="1"/>
<text transform="translate(204.30 243.30)" font-size="8.5" text-anchor="end" fill="#231f20" >4</text>
<line x1="229.70" y1="355.30" x2="229.70" y2="358.60" stroke="#231f20" stroke-width="1"/>
<line x1="256.90" y1="355.30" x2="256.90" y2="358.60" stroke="#231f20" stroke-width="1"/>
<line x1="284.00" y1="355.30" x2="284.00" y2="358.60" stroke="#231f20" stroke-width="1"/>
<text transform="translate(257.60 231.90)" font-size="10.0" text-anchor="middle" fill="#231f20" >DLBCL</text>
<text transform="translate(192.20 295.70) rotate(-90) scale(0.78 1)" font-size="9.2" text-anchor="middle" fill="#231f20" stroke="#231f20" stroke-width="0.15">% of Tregs with clonal expansion</text>
<text transform="translate(231.80 365.80) rotate(-45)" font-size="8.4" text-anchor="end" fill="#231f20" >actTregs</text>
<text transform="translate(259.00 365.80) rotate(-45)" font-size="8.4" text-anchor="end" fill="#231f20" >restTregs</text>
<text transform="translate(286.10 365.80) rotate(-45)" font-size="8.4" text-anchor="end" fill="#231f20" >LAG3<tspan font-size="6.2" dy="-3.4">+</tspan><tspan dy="3.4"> Tregs</tspan></text>
<rect x="394.40" y="332.01" width="17.90" height="23.29" fill="#05506F" />
<line x1="403.35" y1="332.01" x2="403.35" y2="307.58" stroke="#231f20" stroke-width="1"/>
<line x1="398.75" y1="307.58" x2="407.95" y2="307.58" stroke="#231f20" stroke-width="1"/>
<rect x="421.90" y="322.81" width="17.80" height="32.49" fill="#05506F" />
<line x1="430.80" y1="322.81" x2="430.80" y2="265.02" stroke="#231f20" stroke-width="1"/>
<line x1="426.20" y1="265.02" x2="435.40" y2="265.02" stroke="#231f20" stroke-width="1"/>
<rect x="448.80" y="332.01" width="18.00" height="23.29" fill="#05506F" />
<line x1="457.80" y1="332.01" x2="457.80" y2="307.86" stroke="#231f20" stroke-width="1"/>
<line x1="453.20" y1="307.86" x2="462.40" y2="307.86" stroke="#231f20" stroke-width="1"/>
<line x1="384.60" y1="239.10" x2="384.60" y2="355.80" stroke="#231f20" stroke-width="1.1"/>
<line x1="384.10" y1="355.30" x2="476.50" y2="355.30" stroke="#231f20" stroke-width="1.1"/>
<line x1="381.40" y1="355.30" x2="384.60" y2="355.30" stroke="#231f20" stroke-width="1"/>
<text transform="translate(378.10 358.30)" font-size="8.5" text-anchor="end" fill="#231f20" >0</text>
<line x1="381.40" y1="326.55" x2="384.60" y2="326.55" stroke="#231f20" stroke-width="1"/>
<text transform="translate(378.10 329.55)" font-size="8.5" text-anchor="end" fill="#231f20" >1</text>
<line x1="381.40" y1="297.80" x2="384.60" y2="297.80" stroke="#231f20" stroke-width="1"/>
<text transform="translate(378.10 300.80)" font-size="8.5" text-anchor="end" fill="#231f20" >2</text>
<line x1="381.40" y1="269.05" x2="384.60" y2="269.05" stroke="#231f20" stroke-width="1"/>
<text transform="translate(378.10 272.05)" font-size="8.5" text-anchor="end" fill="#231f20" >3</text>
<line x1="381.40" y1="240.30" x2="384.60" y2="240.30" stroke="#231f20" stroke-width="1"/>
<text transform="translate(378.10 243.30)" font-size="8.5" text-anchor="end" fill="#231f20" >4</text>
<line x1="403.40" y1="355.30" x2="403.40" y2="358.60" stroke="#231f20" stroke-width="1"/>
<line x1="430.80" y1="355.30" x2="430.80" y2="358.60" stroke="#231f20" stroke-width="1"/>
<line x1="457.80" y1="355.30" x2="457.80" y2="358.60" stroke="#231f20" stroke-width="1"/>
<text transform="translate(431.00 231.90)" font-size="10.0" text-anchor="middle" fill="#231f20" >Tonsils</text>
<text transform="translate(366.00 295.70) rotate(-90) scale(0.78 1)" font-size="9.2" text-anchor="middle" fill="#231f20" stroke="#231f20" stroke-width="0.15">% of Tregs with clonal expansion</text>
<text transform="translate(405.50 365.80) rotate(-45)" font-size="8.4" text-anchor="end" fill="#231f20" >actTregs</text>
<text transform="translate(432.90 365.80) rotate(-45)" font-size="8.4" text-anchor="end" fill="#231f20" >restTregs</text>
<text transform="translate(459.90 365.80) rotate(-45)" font-size="8.4" text-anchor="end" fill="#231f20" >LAG3<tspan font-size="6.2" dy="-3.4">+</tspan><tspan dy="3.4"> Tregs</tspan></text>
<rect x="464.60" y="237.70" width="12.30" height="5.70" fill="#05506F" />
<rect x="464.60" y="249.20" width="12.30" height="5.50" fill="#D1A03C" />
<text transform="translate(480.30 243.40)" font-size="8.0" text-anchor="start" fill="#231f20" >1 &lt; X ≤ 3</text>
<text transform="translate(480.30 255.00)" font-size="8.0" text-anchor="start" fill="#231f20" >3 &lt; X ≤ 6</text>
<rect x="44.50" y="518.74" width="1.66" height="0.66" fill="#CC4150" />
<rect x="51.84" y="518.74" width="1.66" height="0.66" fill="#6170AB" />
<rect x="55.86" y="518.74" width="1.66" height="0.66" fill="#CC4150" />
<rect x="57.52" y="518.74" width="1.66" height="0.66" fill="#6170AB" />
<rect x="59.18" y="518.74" width="1.66" height="0.66" fill="#6CAA89" />
<rect x="61.54" y="518.08" width="1.66" height="1.32" fill="#CC4150" />
<rect x="63.20" y="518.08" width="1.66" height="1.32" fill="#6170AB" />
<rect x="64.86" y="518.74" width="1.66" height="0.66" fill="#6CAA89" />
<rect x="67.22" y="518.08" width="1.66" height="1.32" fill="#CC4150" />
<rect x="68.88" y="518.08" width="1.66" height="1.32" fill="#6170AB" />
<rect x="70.54" y="518.74" width="1.66" height="0.66" fill="#6CAA89" />
<rect x="72.90" y="512.81" width="1.66" height="6.59" fill="#CC4150" />
<rect x="74.56" y="513.47" width="1.66" height="5.93" fill="#6170AB" />
<rect x="76.22" y="518.74" width="1.66" height="0.66" fill="#6CAA89" />
<rect x="78.58" y="499.63" width="1.66" height="19.77" fill="#CC4150" />
<rect x="80.24" y="504.24" width="1.66" height="15.16" fill="#6170AB" />
<rect x="81.90" y="514.79" width="1.66" height="4.61" fill="#6CAA89" />
<rect x="84.26" y="488.43" width="1.66" height="30.97" fill="#CC4150" />
<rect x="85.92" y="491.06" width="1.66" height="28.34" fill="#6170AB" />
<rect x="87.58" y="514.46" width="1.66" height="4.94" fill="#6CAA89" />
<rect x="89.94" y="478.54" width="1.66" height="40.86" fill="#CC4150" />
<rect x="91.60" y="484.47" width="1.66" height="34.93" fill="#6170AB" />
<rect x="93.26" y="511.49" width="1.66" height="7.91" fill="#6CAA89" />
<rect x="95.62" y="444.27" width="1.66" height="75.13" fill="#CC4150" />
<rect x="97.28" y="462.73" width="1.66" height="56.67" fill="#6170AB" />
<rect x="98.94" y="501.61" width="1.66" height="17.79" fill="#6CAA89" />
<rect x="101.30" y="451.52" width="1.66" height="67.88" fill="#CC4150" />
<rect x="102.96" y="450.53" width="1.66" height="68.87" fill="#6170AB" />
<rect x="104.62" y="506.22" width="1.66" height="13.18" fill="#6CAA89" />
<rect x="106.98" y="457.45" width="1.66" height="61.95" fill="#CC4150" />
<rect x="108.64" y="455.48" width="1.66" height="63.92" fill="#6170AB" />
<rect x="110.30" y="505.56" width="1.66" height="13.84" fill="#6CAA89" />
<rect x="112.66" y="474.59" width="1.66" height="44.81" fill="#CC4150" />
<rect x="114.32" y="477.88" width="1.66" height="41.52" fill="#6170AB" />
<rect x="115.98" y="510.83" width="1.66" height="8.57" fill="#6CAA89" />
<rect x="118.34" y="487.77" width="1.66" height="31.63" fill="#CC4150" />
<rect x="120.00" y="494.36" width="1.66" height="25.04" fill="#6170AB" />
<rect x="121.66" y="512.15" width="1.66" height="7.25" fill="#6CAA89" />
<rect x="124.02" y="501.61" width="1.66" height="17.79" fill="#CC4150" />
<rect x="125.68" y="512.15" width="1.66" height="7.25" fill="#6170AB" />
<rect x="127.34" y="518.08" width="1.66" height="1.32" fill="#6CAA89" />
<rect x="129.70" y="512.15" width="1.66" height="7.25" fill="#CC4150" />
<rect x="131.36" y="512.15" width="1.66" height="7.25" fill="#6170AB" />
<rect x="133.02" y="518.74" width="1.66" height="0.66" fill="#6CAA89" />
<rect x="135.38" y="512.15" width="1.66" height="7.25" fill="#CC4150" />
<rect x="137.04" y="514.79" width="1.66" height="4.61" fill="#6170AB" />
<rect x="138.70" y="518.74" width="1.66" height="0.66" fill="#6CAA89" />
<rect x="141.06" y="517.42" width="1.66" height="1.98" fill="#CC4150" />
<rect x="142.72" y="518.08" width="1.66" height="1.32" fill="#6170AB" />
<rect x="146.74" y="517.42" width="1.66" height="1.98" fill="#CC4150" />
<rect x="148.40" y="518.08" width="1.66" height="1.32" fill="#6170AB" />
<rect x="152.42" y="518.74" width="1.66" height="0.66" fill="#CC4150" />
<rect x="158.10" y="518.74" width="1.66" height="0.66" fill="#CC4150" />
<line x1="43.30" y1="437.52" x2="43.30" y2="523.90" stroke="#231f20" stroke-width="1.15"/>
<line x1="42.80" y1="523.30" x2="163.80" y2="523.30" stroke="#231f20" stroke-width="1.25"/>
<line x1="40.10" y1="519.40" x2="43.30" y2="519.40" stroke="#231f20" stroke-width="1"/>
<text transform="translate(37.00 522.40)" font-size="8.5" text-anchor="end" fill="#231f20" >0</text>
<line x1="40.10" y1="499.63" x2="43.30" y2="499.63" stroke="#231f20" stroke-width="1"/>
<text transform="translate(37.00 502.63)" font-size="8.5" text-anchor="end" fill="#231f20" >30</text>
<line x1="40.10" y1="479.86" x2="43.30" y2="479.86" stroke="#231f20" stroke-width="1"/>
<text transform="translate(37.00 482.86)" font-size="8.5" text-anchor="end" fill="#231f20" >60</text>
<line x1="40.10" y1="460.09" x2="43.30" y2="460.09" stroke="#231f20" stroke-width="1"/>
<text transform="translate(37.00 463.09)" font-size="8.5" text-anchor="end" fill="#231f20" >90</text>
<line x1="40.10" y1="440.32" x2="43.30" y2="440.32" stroke="#231f20" stroke-width="1"/>
<text transform="translate(37.00 443.32)" font-size="8.5" text-anchor="end" fill="#231f20" >120</text>
<line x1="47.00" y1="523.30" x2="47.00" y2="526.10" stroke="#231f20" stroke-width="1"/>
<text transform="translate(47.00 537.90)" font-size="8.5" text-anchor="middle" fill="#231f20" >18</text>
<line x1="75.40" y1="523.30" x2="75.40" y2="526.10" stroke="#231f20" stroke-width="1"/>
<text transform="translate(75.40 537.90)" font-size="8.5" text-anchor="middle" fill="#231f20" >23</text>
<line x1="103.80" y1="523.30" x2="103.80" y2="526.10" stroke="#231f20" stroke-width="1"/>
<text transform="translate(103.80 537.90)" font-size="8.5" text-anchor="middle" fill="#231f20" >28</text>
<line x1="132.30" y1="523.30" x2="132.30" y2="526.10" stroke="#231f20" stroke-width="1"/>
<text transform="translate(132.30 537.90)" font-size="8.5" text-anchor="middle" fill="#231f20" >33</text>
<line x1="154.40" y1="523.30" x2="154.40" y2="526.10" stroke="#231f20" stroke-width="1"/>
<text transform="translate(154.40 537.90)" font-size="8.5" text-anchor="middle" fill="#231f20" >38</text>
<text transform="translate(103.90 431.60)" font-size="10.2" text-anchor="middle" fill="#231f20" >FL</text>
<text transform="translate(15.60 479.80) rotate(-90) scale(0.675 1)" font-size="10.0" text-anchor="middle" fill="#231f20" stroke="#231f20" stroke-width="0.4">Number of CDR3</text>
<text transform="translate(103.60 551.60) scale(0.637 1)" font-size="10.3" text-anchor="middle" fill="#231f20" font-weight="bold" >Length (amino acids)</text>
<rect x="214.70" y="517.93" width="2.30" height="0.97" fill="#D8434D" />
<rect x="225.60" y="517.93" width="2.30" height="0.97" fill="#5E83BD" />
<rect x="231.00" y="516.95" width="2.30" height="1.94" fill="#D8434D" />
<rect x="233.30" y="518.41" width="2.30" height="0.49" fill="#5E83BD" />
<rect x="239.30" y="508.69" width="2.30" height="10.21" fill="#D8434D" />
<rect x="241.60" y="516.95" width="2.30" height="1.94" fill="#5E83BD" />
<rect x="248.00" y="490.70" width="2.30" height="28.20" fill="#D8434D" />
<rect x="250.30" y="509.66" width="2.30" height="9.24" fill="#5E83BD" />
<rect x="255.60" y="460.55" width="2.30" height="58.35" fill="#D8434D" />
<rect x="257.90" y="503.83" width="2.30" height="15.07" fill="#5E83BD" />
<rect x="265.20" y="440.13" width="2.30" height="78.77" fill="#D8434D" />
<rect x="267.50" y="504.70" width="2.30" height="14.20" fill="#5E83BD" />
<rect x="272.40" y="443.04" width="2.30" height="75.85" fill="#D8434D" />
<rect x="274.70" y="499.84" width="2.30" height="19.06" fill="#5E83BD" />
<rect x="282.20" y="467.36" width="2.30" height="51.54" fill="#D8434D" />
<rect x="284.50" y="505.67" width="2.30" height="13.23" fill="#5E83BD" />
<rect x="290.90" y="472.71" width="2.30" height="46.19" fill="#D8434D" />
<rect x="293.20" y="513.36" width="2.30" height="5.54" fill="#5E83BD" />
<rect x="299.50" y="491.67" width="2.30" height="27.23" fill="#D8434D" />
<rect x="301.80" y="513.36" width="2.30" height="5.54" fill="#5E83BD" />
<rect x="307.90" y="505.67" width="2.30" height="13.23" fill="#D8434D" />
<rect x="310.20" y="515.11" width="2.30" height="3.79" fill="#5E83BD" />
<rect x="315.20" y="513.84" width="2.30" height="5.06" fill="#D8434D" />
<rect x="317.50" y="518.41" width="2.30" height="0.49" fill="#5E83BD" />
<rect x="325.90" y="515.50" width="2.30" height="3.40" fill="#D8434D" />
<rect x="334.90" y="517.44" width="2.30" height="1.46" fill="#D8434D" />
<line x1="211.50" y1="438.30" x2="211.50" y2="523.40" stroke="#231f20" stroke-width="1.15"/>
<line x1="211.00" y1="522.80" x2="337.60" y2="522.80" stroke="#231f20" stroke-width="1.25"/>
<line x1="208.30" y1="518.90" x2="211.50" y2="518.90" stroke="#231f20" stroke-width="1"/>
<text transform="translate(205.20 521.90)" font-size="8.5" text-anchor="end" fill="#231f20" >0</text>
<line x1="208.30" y1="499.45" x2="211.50" y2="499.45" stroke="#231f20" stroke-width="1"/>
<text transform="translate(205.20 502.45)" font-size="8.5" text-anchor="end" fill="#231f20" >20</text>
<line x1="208.30" y1="480.00" x2="211.50" y2="480.00" stroke="#231f20" stroke-width="1"/>
<text transform="translate(205.20 483.00)" font-size="8.5" text-anchor="end" fill="#231f20" >40</text>
<line x1="208.30" y1="460.55" x2="211.50" y2="460.55" stroke="#231f20" stroke-width="1"/>
<text transform="translate(205.20 463.55)" font-size="8.5" text-anchor="end" fill="#231f20" >60</text>
<line x1="208.30" y1="441.10" x2="211.50" y2="441.10" stroke="#231f20" stroke-width="1"/>
<text transform="translate(205.20 444.10)" font-size="8.5" text-anchor="end" fill="#231f20" >80</text>
<line x1="216.20" y1="522.80" x2="216.20" y2="525.60" stroke="#231f20" stroke-width="1"/>
<text transform="translate(216.20 537.40)" font-size="8.5" text-anchor="middle" fill="#231f20" >19</text>
<line x1="241.00" y1="522.80" x2="241.00" y2="525.60" stroke="#231f20" stroke-width="1"/>
<text transform="translate(241.00 537.40)" font-size="8.5" text-anchor="middle" fill="#231f20" >24</text>
<line x1="282.70" y1="522.80" x2="282.70" y2="525.60" stroke="#231f20" stroke-width="1"/>
<text transform="translate(282.70 537.40)" font-size="8.5" text-anchor="middle" fill="#231f20" >29</text>
<line x1="324.80" y1="522.80" x2="324.80" y2="525.60" stroke="#231f20" stroke-width="1"/>
<text transform="translate(324.80 537.40)" font-size="8.5" text-anchor="middle" fill="#231f20" >34</text>
<text transform="translate(274.50 431.60)" font-size="10.2" text-anchor="middle" fill="#231f20" >DLBCL</text>
<text transform="translate(189.20 479.60) rotate(-90) scale(0.675 1)" font-size="10.0" text-anchor="middle" fill="#231f20" stroke="#231f20" stroke-width="0.4">Number of CDR3</text>
<text transform="translate(274.30 551.60) scale(0.637 1)" font-size="10.3" text-anchor="middle" fill="#231f20" font-weight="bold" >Length (amino acids)</text>
<rect x="390.50" y="519.13" width="2.25" height="0.47" fill="#D8434D" />
<rect x="400.80" y="517.43" width="2.25" height="2.17" fill="#5DB87B" />
<rect x="404.50" y="519.13" width="2.25" height="0.47" fill="#D8434D" />
<rect x="409.00" y="511.85" width="2.25" height="7.75" fill="#5DB87B" />
<rect x="413.00" y="518.65" width="2.25" height="0.94" fill="#D8434D" />
<rect x="415.25" y="517.71" width="2.25" height="1.89" fill="#5E83BD" />
<rect x="417.50" y="510.15" width="2.25" height="9.45" fill="#5DB87B" />
<rect x="422.20" y="515.35" width="2.25" height="4.25" fill="#D8434D" />
<rect x="424.45" y="515.35" width="2.25" height="4.25" fill="#5E83BD" />
<rect x="426.70" y="490.31" width="2.25" height="29.29" fill="#5DB87B" />
<rect x="430.70" y="512.99" width="2.25" height="6.61" fill="#D8434D" />
<rect x="432.95" y="511.10" width="2.25" height="8.50" fill="#5E83BD" />
<rect x="435.20" y="482.75" width="2.25" height="36.85" fill="#5DB87B" />
<rect x="438.80" y="506.94" width="2.25" height="12.66" fill="#D8434D" />
<rect x="441.05" y="511.10" width="2.25" height="8.50" fill="#5E83BD" />
<rect x="443.30" y="448.25" width="2.25" height="71.35" fill="#5DB87B" />
<rect x="447.20" y="506.94" width="2.25" height="12.66" fill="#D8434D" />
<rect x="449.45" y="505.24" width="2.25" height="14.36" fill="#5E83BD" />
<rect x="451.70" y="447.40" width="2.25" height="72.20" fill="#5DB87B" />
<rect x="455.90" y="509.68" width="2.25" height="9.92" fill="#D8434D" />
<rect x="458.15" y="513.46" width="2.25" height="6.14" fill="#5E83BD" />
<rect x="460.40" y="439.65" width="2.25" height="79.95" fill="#5DB87B" />
<rect x="464.20" y="514.50" width="2.25" height="5.10" fill="#D8434D" />
<rect x="466.45" y="510.15" width="2.25" height="9.45" fill="#5E83BD" />
<rect x="468.70" y="473.96" width="2.25" height="45.64" fill="#5DB87B" />
<rect x="472.90" y="515.35" width="2.25" height="4.25" fill="#D8434D" />
<rect x="475.15" y="514.59" width="2.25" height="5.01" fill="#5E83BD" />
<rect x="477.40" y="492.76" width="2.25" height="26.84" fill="#5DB87B" />
<rect x="481.40" y="512.04" width="2.25" height="7.56" fill="#D8434D" />
<rect x="483.65" y="519.13" width="2.25" height="0.47" fill="#5E83BD" />
<rect x="485.90" y="503.35" width="2.25" height="16.25" fill="#5DB87B" />
<rect x="490.20" y="518.18" width="2.25" height="1.42" fill="#D8434D" />
<rect x="494.70" y="514.59" width="2.25" height="5.01" fill="#5DB87B" />
<rect x="499.75" y="519.03" width="2.25" height="0.57" fill="#5E83BD" />
<rect x="502.00" y="514.88" width="2.25" height="4.72" fill="#5DB87B" />
<rect x="510.00" y="518.18" width="2.25" height="1.42" fill="#5DB87B" />
<line x1="385.10" y1="441.20" x2="385.10" y2="524.10" stroke="#231f20" stroke-width="1.15"/>
<line x1="384.60" y1="523.50" x2="511.80" y2="523.50" stroke="#231f20" stroke-width="1.25"/>
<line x1="381.90" y1="519.60" x2="385.10" y2="519.60" stroke="#231f20" stroke-width="1"/>
<text transform="translate(378.80 522.60)" font-size="8.5" text-anchor="end" fill="#231f20" >0</text>
<line x1="381.90" y1="500.70" x2="385.10" y2="500.70" stroke="#231f20" stroke-width="1"/>
<text transform="translate(378.80 503.70)" font-size="8.5" text-anchor="end" fill="#231f20" >20</text>
<line x1="381.90" y1="481.80" x2="385.10" y2="481.80" stroke="#231f20" stroke-width="1"/>
<text transform="translate(378.80 484.80)" font-size="8.5" text-anchor="end" fill="#231f20" >40</text>
<line x1="381.90" y1="462.90" x2="385.10" y2="462.90" stroke="#231f20" stroke-width="1"/>
<text transform="translate(378.80 465.90)" font-size="8.5" text-anchor="end" fill="#231f20" >60</text>
<line x1="381.90" y1="444.00" x2="385.10" y2="444.00" stroke="#231f20" stroke-width="1"/>
<text transform="translate(378.80 447.00)" font-size="8.5" text-anchor="end" fill="#231f20" >80</text>
<line x1="390.50" y1="523.50" x2="390.50" y2="526.30" stroke="#231f20" stroke-width="1"/>
<text transform="translate(390.50 538.10)" font-size="8.5" text-anchor="middle" fill="#231f20" >21</text>
<line x1="432.50" y1="523.50" x2="432.50" y2="526.30" stroke="#231f20" stroke-width="1"/>
<text transform="translate(432.50 538.10)" font-size="8.5" text-anchor="middle" fill="#231f20" >26</text>
<line x1="475.30" y1="523.50" x2="475.30" y2="526.30" stroke="#231f20" stroke-width="1"/>
<text transform="translate(475.30 538.10)" font-size="8.5" text-anchor="middle" fill="#231f20" >31</text>
<text transform="translate(448.40 431.60)" font-size="10.2" text-anchor="middle" fill="#231f20" >Tonsils</text>
<text transform="translate(363.20 481.50) rotate(-90) scale(0.675 1)" font-size="10.0" text-anchor="middle" fill="#231f20" stroke="#231f20" stroke-width="0.4">Number of CDR3</text>
<text transform="translate(448.20 551.60) scale(0.637 1)" font-size="10.3" text-anchor="middle" fill="#231f20" font-weight="bold" >Length (amino acids)</text>
<defs><clipPath id="cr0"><ellipse cx="102.55" cy="617.20" rx="31.25" ry="28.9" /></clipPath><clipPath id="cb0"><ellipse cx="143.55" cy="617.60" rx="31.25" ry="28.9" /></clipPath><clipPath id="crb0" clip-path="url(#cr0)"><ellipse cx="143.55" cy="617.60" rx="31.25" ry="28.9" /></clipPath></defs>
<ellipse cx="102.55" cy="617.20" rx="31.25" ry="28.9" fill="#E2393E"/>
<ellipse cx="143.55" cy="617.60" rx="31.25" ry="28.9" fill="#5283B9"/>
<ellipse cx="122.50" cy="647.60" rx="31.4" ry="29.3" fill="#62B877"/>
<ellipse cx="143.55" cy="617.60" rx="31.25" ry="28.9" fill="#67519C" clip-path="url(#cr0)"/>
<ellipse cx="122.50" cy="647.60" rx="31.4" ry="29.3" fill="#6F8D48" clip-path="url(#cr0)"/>
<ellipse cx="122.50" cy="647.60" rx="31.4" ry="29.3" fill="#2E9C62" clip-path="url(#cb0)"/>
<ellipse cx="122.50" cy="647.60" rx="31.4" ry="29.3" fill="#2D8E59" clip-path="url(#crb0)"/>
<ellipse cx="102.55" cy="617.20" rx="31.25" ry="28.9" fill="none" stroke="#8a1a22" stroke-width="0.8" stroke-opacity="0.45"/>
<ellipse cx="143.55" cy="617.60" rx="31.25" ry="28.9" fill="none" stroke="#1f3f70" stroke-width="0.8" stroke-opacity="0.45"/>
<ellipse cx="122.50" cy="647.60" rx="31.4" ry="29.3" fill="none" stroke="#1f6a3a" stroke-width="0.8" stroke-opacity="0.45"/>
<text transform="translate(123.10 580.10)" font-size="10.2" text-anchor="middle" fill="#231f20" >FL</text>
<text transform="translate(97.60 619.70)" font-size="9.0" text-anchor="middle" fill="#000" fill-opacity="0.8" stroke="#000" stroke-width="0.25" stroke-opacity="0.5">340</text>
<text transform="translate(148.80 619.70)" font-size="9.0" text-anchor="middle" fill="#000" fill-opacity="0.8" stroke="#000" stroke-width="0.25" stroke-opacity="0.5">336</text>
<text transform="translate(123.40 661.20)" font-size="9.0" text-anchor="middle" fill="#000" fill-opacity="0.8" stroke="#000" stroke-width="0.25" stroke-opacity="0.5">71</text>
<text transform="translate(123.90 613.50)" font-size="9.0" text-anchor="middle" fill="#000" fill-opacity="0.8" stroke="#000" stroke-width="0.25" stroke-opacity="0.5">5</text>
<text transform="translate(107.80 639.90)" font-size="9.0" text-anchor="middle" fill="#000" fill-opacity="0.8" stroke="#000" stroke-width="0.25" stroke-opacity="0.5">0</text>
<text transform="translate(140.50 640.00)" font-size="9.0" text-anchor="middle" fill="#000" fill-opacity="0.8" stroke="#000" stroke-width="0.25" stroke-opacity="0.5">3</text>
<text transform="translate(123.90 631.30)" font-size="9.0" text-anchor="middle" fill="#000" fill-opacity="0.8" stroke="#000" stroke-width="0.25" stroke-opacity="0.5">0</text>
<defs><clipPath id="cr138"><ellipse cx="240.75" cy="617.20" rx="31.25" ry="28.9" /></clipPath><clipPath id="cb138"><ellipse cx="281.75" cy="617.60" rx="31.25" ry="28.9" /></clipPath><clipPath id="crb138" clip-path="url(#cr138)"><ellipse cx="281.75" cy="617.60" rx="31.25" ry="28.9" /></clipPath></defs>
<ellipse cx="240.75" cy="617.20" rx="31.25" ry="28.9" fill="#E2393E"/>
<ellipse cx="281.75" cy="617.60" rx="31.25" ry="28.9" fill="#5283B9"/>
<ellipse cx="260.70" cy="647.60" rx="31.4" ry="29.3" fill="#62B877"/>
<ellipse cx="281.75" cy="617.60" rx="31.25" ry="28.9" fill="#67519C" clip-path="url(#cr138)"/>
<ellipse cx="260.70" cy="647.60" rx="31.4" ry="29.3" fill="#6F8D48" clip-path="url(#cr138)"/>
<ellipse cx="260.70" cy="647.60" rx="31.4" ry="29.3" fill="#2E9C62" clip-path="url(#cb138)"/>
<ellipse cx="260.70" cy="647.60" rx="31.4" ry="29.3" fill="#2D8E59" clip-path="url(#crb138)"/>
<ellipse cx="240.75" cy="617.20" rx="31.25" ry="28.9" fill="none" stroke="#8a1a22" stroke-width="0.8" stroke-opacity="0.45"/>
<ellipse cx="281.75" cy="617.60" rx="31.25" ry="28.9" fill="none" stroke="#1f3f70" stroke-width="0.8" stroke-opacity="0.45"/>
<ellipse cx="260.70" cy="647.60" rx="31.4" ry="29.3" fill="none" stroke="#1f6a3a" stroke-width="0.8" stroke-opacity="0.45"/>
<text transform="translate(260.20 580.10)" font-size="10.2" text-anchor="middle" fill="#231f20" >DLBCL</text>
<text transform="translate(235.80 619.70)" font-size="9.0" text-anchor="middle" fill="#000" fill-opacity="0.8" stroke="#000" stroke-width="0.25" stroke-opacity="0.5">220</text>
<text transform="translate(287.00 619.70)" font-size="9.0" text-anchor="middle" fill="#000" fill-opacity="0.8" stroke="#000" stroke-width="0.25" stroke-opacity="0.5">56</text>
<text transform="translate(261.60 661.20)" font-size="9.0" text-anchor="middle" fill="#000" fill-opacity="0.8" stroke="#000" stroke-width="0.25" stroke-opacity="0.5">6</text>
<text transform="translate(262.10 613.50)" font-size="9.0" text-anchor="middle" fill="#000" fill-opacity="0.8" stroke="#000" stroke-width="0.25" stroke-opacity="0.5">1</text>
<text transform="translate(246.00 639.90)" font-size="9.0" text-anchor="middle" fill="#000" fill-opacity="0.8" stroke="#000" stroke-width="0.25" stroke-opacity="0.5">0</text>
<text transform="translate(278.70 640.00)" font-size="9.0" text-anchor="middle" fill="#000" fill-opacity="0.8" stroke="#000" stroke-width="0.25" stroke-opacity="0.5">0</text>
<text transform="translate(262.10 631.30)" font-size="9.0" text-anchor="middle" fill="#000" fill-opacity="0.8" stroke="#000" stroke-width="0.25" stroke-opacity="0.5">0</text>
<defs><clipPath id="cr276"><ellipse cx="378.95" cy="617.20" rx="31.25" ry="28.9" /></clipPath><clipPath id="cb276"><ellipse cx="419.95" cy="617.60" rx="31.25" ry="28.9" /></clipPath><clipPath id="crb276" clip-path="url(#cr276)"><ellipse cx="419.95" cy="617.60" rx="31.25" ry="28.9" /></clipPath></defs>
<ellipse cx="378.95" cy="617.20" rx="31.25" ry="28.9" fill="#E2393E"/>
<ellipse cx="419.95" cy="617.60" rx="31.25" ry="28.9" fill="#5283B9"/>
<ellipse cx="398.90" cy="647.60" rx="31.4" ry="29.3" fill="#62B877"/>
<ellipse cx="419.95" cy="617.60" rx="31.25" ry="28.9" fill="#67519C" clip-path="url(#cr276)"/>
<ellipse cx="398.90" cy="647.60" rx="31.4" ry="29.3" fill="#6F8D48" clip-path="url(#cr276)"/>
<ellipse cx="398.90" cy="647.60" rx="31.4" ry="29.3" fill="#2E9C62" clip-path="url(#cb276)"/>
<ellipse cx="398.90" cy="647.60" rx="31.4" ry="29.3" fill="#2D8E59" clip-path="url(#crb276)"/>
<ellipse cx="378.95" cy="617.20" rx="31.25" ry="28.9" fill="none" stroke="#8a1a22" stroke-width="0.8" stroke-opacity="0.45"/>
<ellipse cx="419.95" cy="617.60" rx="31.25" ry="28.9" fill="none" stroke="#1f3f70" stroke-width="0.8" stroke-opacity="0.45"/>
<ellipse cx="398.90" cy="647.60" rx="31.4" ry="29.3" fill="none" stroke="#1f6a3a" stroke-width="0.8" stroke-opacity="0.45"/>
<text transform="translate(400.60 580.10)" font-size="10.2" text-anchor="middle" fill="#231f20" >Tonsils</text>
<text transform="translate(374.00 619.70)" font-size="9.0" text-anchor="middle" fill="#000" fill-opacity="0.8" stroke="#000" stroke-width="0.25" stroke-opacity="0.5">47</text>
<text transform="translate(425.20 619.70)" font-size="9.0" text-anchor="middle" fill="#000" fill-opacity="0.8" stroke="#000" stroke-width="0.25" stroke-opacity="0.5">36</text>
<text transform="translate(399.80 661.20)" font-size="9.0" text-anchor="middle" fill="#000" fill-opacity="0.8" stroke="#000" stroke-width="0.25" stroke-opacity="0.5">187</text>
<text transform="translate(400.30 613.50)" font-size="9.0" text-anchor="middle" fill="#000" fill-opacity="0.8" stroke="#000" stroke-width="0.25" stroke-opacity="0.5">0</text>
<text transform="translate(384.20 639.90)" font-size="9.0" text-anchor="middle" fill="#000" fill-opacity="0.8" stroke="#000" stroke-width="0.25" stroke-opacity="0.5">0</text>
<text transform="translate(416.90 640.00)" font-size="9.0" text-anchor="middle" fill="#000" fill-opacity="0.8" stroke="#000" stroke-width="0.25" stroke-opacity="0.5">0</text>
<text transform="translate(400.30 631.30)" font-size="9.0" text-anchor="middle" fill="#000" fill-opacity="0.8" stroke="#000" stroke-width="0.25" stroke-opacity="0.5">0</text>
<rect x="157.40" y="694.50" width="10.60" height="5.30" fill="#E2393E" />
<text transform="translate(171.20 699.60)" font-size="8.0" text-anchor="start" fill="#231f20" >actTregs</text>
<rect x="209.20" y="694.50" width="10.60" height="5.30" fill="#5283B9" />
<text transform="translate(223.00 699.60)" font-size="8.0" text-anchor="start" fill="#231f20" >restTregs</text>
<rect x="263.80" y="694.50" width="10.60" height="5.30" fill="#62B877" />
<text transform="translate(277.70 699.60)" font-size="8.0" text-anchor="start" fill="#231f20" >LAG3<tspan font-size="6.2" dy="-3.4">+</tspan><tspan dy="3.4"> Tregs</tspan></text>
<rect x="0.5" y="0.5" width="519" height="708" fill="none" stroke="#505050" stroke-width="1"/>
</svg>
</body></html>
